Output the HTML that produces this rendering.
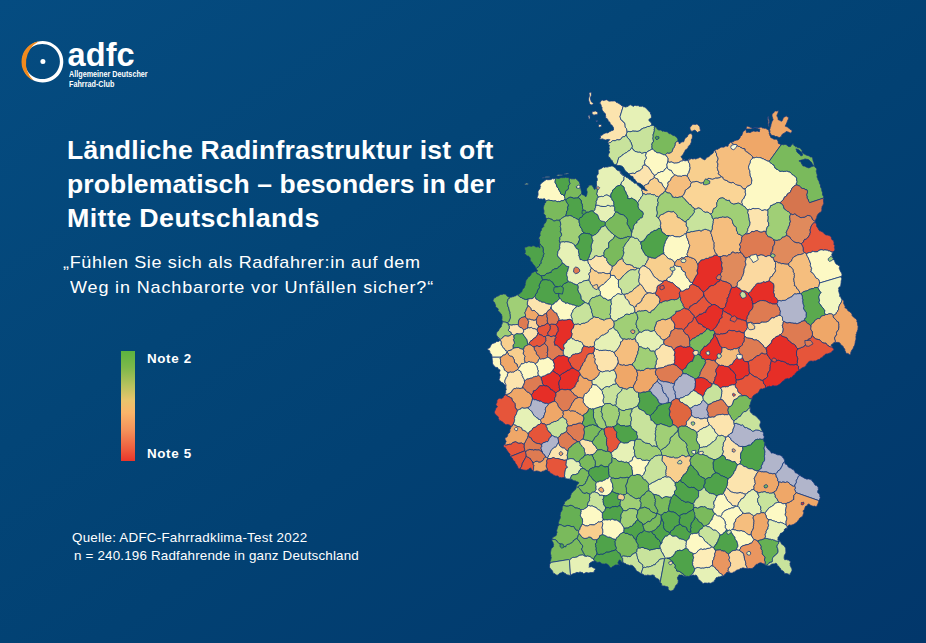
<!DOCTYPE html>
<html lang="de"><head><meta charset="utf-8"><title>ADFC Fahrradklima-Test 2022</title>
<style>
html,body{margin:0;padding:0}
body{width:926px;height:643px;overflow:hidden;position:relative;font-family:"Liberation Sans",sans-serif;color:#fff;background:#024274;}
.bg{position:absolute;left:0;top:0;width:926px;height:643px;background:linear-gradient(to bottom right,#054c81 0%,#034577 35%,#024173 55%,#02376b 100%);}
.t{position:absolute;white-space:nowrap;line-height:1;}
.bar{position:absolute;left:121px;top:351px;width:14px;height:109.5px;background:linear-gradient(to bottom,#5cb23f 0%,#7db84a 15%,#b9c25e 32%,#e9c46c 45%,#fab56a 56%,#f5925a 72%,#ee5a3c 90%,#e9352a 100%);}
svg{position:absolute;left:0;top:0}
</style></head><body>
<div class="bg"></div>
<svg width="200" height="110" viewBox="0 0 200 110">
<path fill="#fff" fill-rule="evenodd" d="M42.7 41.1a20.6 20.7 0 1 0 0.01 0z M42.3 43.9a17.6 17.6 0 1 1 -0.01 0z"/>
<path fill="#f18a1d" d="M38.9,41.3 A20.8,20.8 0 0 0 33.6,80.7 A24.5,24.5 0 0 1 38.9,41.3 Z"/>
<circle cx="42.9" cy="61.6" r="2.5" fill="#fff"/>
</svg>
<div class="t" style="left:69px;top:70.3px;font-size:8.6px;font-weight:bold;transform-origin:0 0;transform:scaleX(0.84)">Allgemeiner Deutscher</div>
<div class="t" style="left:69px;top:79.8px;font-size:8.6px;font-weight:bold;transform-origin:0 0;transform:scaleX(0.84)">Fahrrad-Club</div>
<div class="t" id="adfc" style="left:67.6px;top:38.5px;font-size:32.5px;letter-spacing:0.057px;font-weight:bold;">adfc</div>
<div class="t" id="t1" style="left:67.0px;top:137.2px;font-size:26px;letter-spacing:0.233px;font-weight:bold;transform-origin:0 0;transform:scaleX(1.02);">Ländliche Radinfrastruktur ist oft</div>
<div class="t" id="t2" style="left:67.0px;top:170.9px;font-size:26px;letter-spacing:0.112px;font-weight:bold;transform-origin:0 0;transform:scaleX(1.02);">problematisch – besonders in der</div>
<div class="t" id="t3" style="left:67.0px;top:205.3px;font-size:26px;letter-spacing:0.393px;font-weight:bold;transform-origin:0 0;transform:scaleX(1.03);">Mitte Deutschlands</div>
<div class="t" id="s1" style="left:63.2px;top:254.0px;font-size:17px;letter-spacing:0.601px;transform-origin:0 0;transform:scaleX(1.06);">„Fühlen Sie sich als Radfahrer:in auf dem</div>
<div class="t" id="s2" style="left:70.2px;top:278.8px;font-size:17px;letter-spacing:0.799px;transform-origin:0 0;transform:scaleX(1.06);">Weg in Nachbarorte vor Unfällen sicher?“</div>
<div class="t" id="n2" style="left:147.2px;top:351.8px;font-size:13px;letter-spacing:0.616px;font-weight:bold;transform-origin:0 0;transform:scaleX(1.03);">Note 2</div>
<div class="t" id="n5" style="left:147.2px;top:446.5px;font-size:13px;letter-spacing:0.616px;font-weight:bold;transform-origin:0 0;transform:scaleX(1.03);">Note 5</div>
<div class="t" id="q1" style="left:72.3px;top:530.6px;font-size:13px;letter-spacing:0.232px;transform-origin:0 0;transform:scaleX(1.03);">Quelle: ADFC-Fahrradklima-Test 2022</div>
<div class="t" id="q2" style="left:74.3px;top:548.6px;font-size:13px;letter-spacing:0.173px;transform-origin:0 0;transform:scaleX(1.03);">n = 240.196 Radfahrende in ganz Deutschland</div>
<div class="bar"></div>
<svg width="926" height="643" viewBox="0 0 926 643">
<g transform="scale(0.1)" stroke="#163a80" stroke-width="8" stroke-linejoin="round">
<path fill="#fce4ae" d="M6094,1428l10,-2 1,0 5,-7 7,-4 1,0 8,-8 11,-1 16,3 5,-6 9,-3 11,-3 11,3 12,-4 8,-5 4,-5 4,-9 10,-7 6,-3 11,1 7,-9 7,-3 5,-11 2,-9 6,-13-1,-13-1,-10-2,-6-3,-10-11,-11-1,-8-1,-11-1,-14-4,-10-4,-6-10,-5-3,-8-8,-5-10,-7-4,-10-2,-10-5,-12 32,-104-3,-1-9,-5-9,-5-5,-6-7,-2-8,-8-6,-3-6,-5-12,-2-7,-5-5,-8-4,-4-11,0-11,1-14,0-8,1-8,1-11,-2-8,-3-6,-6-7,-4-8,2-10,2-6,3-10,1-10,-5-9,6-7,4-2,10-10,10 6,7 7,4 0,8 4,5 2,13 7,8-1,7-1,8 3,11 4,7 7,6 6,10 8,6 7,10 1,10-1,9 4,8-2,8 3,7 12,4 5,7 4,9 3,8 7,9 9,3 1,10 4,6 6,11 6,2 7,5 3,7 6,8 3,11 0,9 0,9-8,4-10,1-5,6-11,2-12,7-10,9-13,-1-7,2-7,1-8,5-7,2-8,7-10,7-8,3-6,-2-1,9 3,9-5,10-7,10 6,0 9,1 13,-4 6,4 10,2 10,5 10,2 12,-5 12,-2 9,3 7,-2-6,7-8,10-6,7 0,10 3,4z"/>
<path fill="#e6f1b6" d="M6271,1323l8,-5 8,-4 11,4 11,-1 9,-3 11,-4 12,2 16,0 12,2 12,-1 10,-3 9,-5 8,-5 7,-11 14,-4 7,-5 11,-1 15,-6 10,-3 6,-5 14,1 13,-8 10,-2 9,-1-3,0-7,1 1,-9 0,-11-5,-10-4,-6-11,-8-6,-6-1,-6 6,-10 6,-5 8,-1 6,-9 1,-6-1,-9-2,-13-7,-6 0,-12-3,-9-12,-5-8,-10-9,-10-8,-9-7,-6-6,-5-9,-6-7,0-6,-4-8,-6-11,6-9,-3-7,2-8,-6-9,-2-10,1-12,-3-13,1-8,9-10,-4-5,-6-8,-4-10,-2-12,4-5,8-6,4-10,2-9,4-10,0-9,-6-9,-1-32,104 4,12 3,10 4,10 10,7 8,5 3,8 10,5 4,6 4,10 1,14 1,11 1,8 11,11 3,10 2,6 1,10z"/>
<path fill="#c8e39c" d="M6524,1492l-4,-15-1,-8 2,-12-3,-11 3,-9 1,-8 11,-8 2,-9-3,-16-3,-11 2,-9 2,-13-2,-8 1,-14 7,-10 0,-8 5,-15-2,-11 3,-9-1,-13 3,-10-9,-8-9,-1-5,-1-9,1-10,1-13,8-14,-1-6,6-11,3-14,6-11,1-7,5-14,4-7,11-8,4-9,5-10,4-12,1-12,-2-16,0-12,-2-11,4-9,3-11,0-11,-3-8,4-8,4 0,1-6,13-2,9 1,8 4,11 7,14 7,7 11,9 6,6 2,13 6,7 5,8 3,12 4,11 3,12-3,9 0,8 9,8 5,13 12,6 6,9 9,-1 7,4 11,3 7,1 13,-1 13,5 6,8 8,-3 10,-3 8,-4 8,0 12,3 11,-10 8,-3 6,-9 9,-1 10,-6 8,-5z"/>
<path fill="#c8e39c" d="M6263,1345l-5,11-7,3-7,9-11,-1-6,3-10,7-4,9-4,5-8,5-12,4-11,-3-11,2-9,4-5,6-15,-3-1,0-11,1-9,8-7,4-6,7-10,2-12,5 1,2 2,9 10,9-4,11-1,9 2,10 3,6-4,7-2,11 6,11-2,12-8,9-4,13 4,10-2,7 7,4 10,5 2,7 5,8 5,8 5,3 8,4 0,9 4,6 4,7 6,8 7,7 13,2 5,5 5,0-2,-10 3,-7 6,-14 2,-14 4,-8 1,-9 4,-11 10,-10 11,-2 6,-7 6,-7 9,-4 7,-8 8,-5 11,-6 11,-5 10,-9 10,-7 10,-2 1,0 5,-7 6,-12 12,-8-1,-8 4,-8 0,-1-4,-12-4,-11-3,-12-5,-8-6,-7-2,-13-6,-6-11,-9-7,-8-7,-13-3,-11z"/>
<path fill="#e6f1b6" d="M6463,1527l-12,-3-8,1-8,4-10,3-8,3-6,-8 0,-1-13,-4-13,1-7,-1-11,-3-6,-4-1,0-9,1-5,-9-1,0-12,-6-5,-13-8,-8-1,0-12,8-5,12-6,6-10,3-10,7-10,9-11,5-11,6-8,5-7,8-9,3-6,8-6,7-11,2-10,10-4,11-1,9-4,8-2,14-6,14-3,7 2,10 2,3 1,0 9,1 9,-1 9,0 9,3 6,1 10,5 5,7 6,5 3,6 7,12 4,9 6,5 2,7 11,4 9,9 9,8 1,3 8,0 14,-4 11,-1 10,-2 10,3 9,2 7,-8 5,-9 8,-3 12,-5 15,-4 8,-6 8,-8 10,-10 4,-7-2,-11 6,-10 8,-4 14,-2-2,-9-3,-9-2,-9 3,-8 1,-9 5,-9 9,-9 1,-12-3,-11-6,-13 5,-9zM6190,1708l10,5 3,15 4,8 8,6 7,6 7,8 8,2 9,6 10,0-7,-5-10,-4-10,-4-7,-10-6,-5-5,-6-1,-10-4,-5-7,-5-10,-2z"/>
<path fill="#e6f1b6" d="M6214,1833l1,-11 7,-7 7,-3 10,-12 1,-14-1,-9 7,-13 0,-1-9,-5-8,-2-7,-8-7,-6-8,-6-4,-8-2,-15-11,-5-2,0-10,-4-9,-5-7,-6-4,-10-7,-6-7,-4-5,-4-6,-4-9,-4-8,-1-7,3-10,0-9,3-7,2-10,3-11,-1-8,0-10,4-7,-4-8,-1-7,11-11,4-8,5-8,4-5,2-7,4-3,9 2,6 0,8 0,6 0,11-8,10-9,10-1,12 8,11-1,8 3,8-3,9-5,5-2,9 3,10-4,8 4,12-1,13-8,5 3,8 7,9 0,6 7,8-3,9-2,15-4,11 0,10 6,3 4,10 4,7-1,10 14,-7 9,-1 1,0 8,-3 14,3 11,-2 8,-8 10,-3 7,-4 10,0 10,6 1,0 14,4 4,9 9,5 0,-12-1,-14 2,-9 8,-10 7,-13 1,0 0,-14 9,-4 7,-11 10,-5 5,-9 5,-7 13,-6 6,-3 11,0 9,-5 5,-8z"/>
<path fill="#e6f1b6" d="M6429,1935l-4,-13-2,-10-5,-5 1,-12 0,-8-8,-4-6,-6-7,-4-6,-12-8,-3-9,-6-5,-11-1,-6-2,-1-4,-1-6,0-13,0-7,-8-4,-7-7,-4-8,-3-7,-5-4,-8-12,-3-7,-6-4,-8-8,-3-6,0-9,-7-4,-6-1,-1-10,-1 0,1-7,13 1,9-1,14-10,12-7,3-7,6 0,1-1,11-8,11 12,9 7,9 8,3 5,6 3,10 0,9 5,13 7,8 6,9 2,13 4,10 9,7 2,8 3,11-3,15 9,2 8,2 10,-2 11,-5 12,4 9,6 5,5 14,5 7,10 10,8 6,8 10,-13 4,-12 10,-9 7,-11 2,-9 5,-5 10,-10 3,-12z"/>
<path fill="#4fa34a" d="M6192,1857l-11,0-6,3-13,6-6,7-4,9-10,5-7,11-9,4-1,14-8,13-7,10-2,9 1,14 0,12 4,8 4,6 2,12 4,5 10,5 4,11-1,14 2,9-2,13 3,12 10,9-5,11 2,8-2,8 6,9 4,11 13,-4 14,4 4,8 12,7 13,4 10,2 14,3 7,7 11,8 9,11 6,9 8,10-1,10 2,7-7,14 2,11 1,7 7,7 3,9 7,6 2,11 1,0 5,11 8,5 1,15 7,11 6,10 4,-10-3,-10 6,-9 7,-8 2,-12 0,-11 2,-6 4,-9 6,-12 10,-7 10,-4 3,-7 0,-9 7,-8 8,-5 9,-9 11,-11 9,-1 1,0 10,-7 1,-8 2,-10 6,-12-1,-11-3,-6-8,-13 0,-1-13,-4-7,-8-6,-8-10,-9-2,-11-3,-11 3,-9-1,-12-6,-13-5,-8-11,-8-7,-10-14,-5-5,-5-9,-6-12,-4-11,5-10,2-8,-2 0,-1-9,-1 3,-15-3,-11-2,-8-9,-7-4,-10-2,-13-6,-9-7,-8-5,-13 1,-9-4,-10-5,-6 0,-1-8,-2-7,-9-12,-9-5,7z"/>
<path fill="#fdf9c4" d="M5461,2009l13,-5 15,-3 10,3 0,1 9,0 13,0 6,5 14,0 11,-2 11,5 8,5 14,-4 14,3 13,-9 9,-1 10,2 7,-9 12,-7 0,-10-2,-7-3,-11-9,-10-6,-9-16,-3-9,-8-1,-12-5,-8-5,-10-7,-5 0,-12-4,-6-1,0-10,-10-5,-12-1,-11-8,-11-2,-8-6,-8 2,-11 2,-15-4,-14-4,2-7,6-12,-4-8,3-6,6-11,1-13,1-12,0-13,-2-8,6-7,4-8,6-9,7-7,5-7,5-6,7-5,5-8,9 3,8 4,7-4,9-2,6 0,9-5,5-5,5-9,11-2,10 1,12 1,9-1,11-3,9-6,10 1,8 2,7 1,7 0,7 5,-10-1,-9 8,8 9,3 11,-2 10,1 8,2 9,-3 7,-3 8,4 3,8 4,5 2,8z"/>
<path fill="#4fa34a" d="M5554,1796l-2,15-3,11 6,8 3,8 8,11 1,11 5,12 0,1 10,9 5,6 0,12 7,6 5,9 5,8 1,12 9,8 16,3 5,9 10,10 2,-11 4,-13 3,-8 1,-10 3,-10 4,-7 10,-5 11,-8 2,-10 1,-7-2,-13 4,-9 5,-6 10,-11-4,-7-4,-10-2,-11-1,-10 3,-9-2,-6 0,-4-4,-5-10,0-12,1-9,-4-7,1-7,4-8,-1-11,1-10,-1-8,1-8,2-9,6-13,-1-10,-2-14,-1-3,1z"/>
<path fill="#7aba5c" d="M5659,2001l4,-7 9,-7 12,-7 12,-6 12,-1 14,3 8,4 8,3 13,-2 14,-1 9,0 8,-4 0,-1 4,-9 9,-7 12,-8 1,0 4,-9 4,-6 2,-2-1,-4-1,-6-1,-9-4,-13-2,-13-4,-11-2,-12-3,-8 1,-12-2,-7-3,-8-1,-12-10,-6-8,-9-8,-11-9,-4-5,-6-12,6-10,-1-9,0-11,0-6,-4-11,0-3,-4 0,4 2,6-3,9 1,10 2,11 0,1 4,9 3,7-9,11-5,6-4,9 1,13 0,7-3,10-10,8-11,5-3,6-3,11-1,10-4,8-3,13-1,0-1,11 3,11 2,7 0,10z"/>
<path fill="#7aba5c" d="M5969,2006l4,-16 1,-7 5,-8 1,-10-4,-7-3,-10-6,-3-1,-10 4,-11 2,-15 3,-9-6,-8-1,-6-7,-9-3,-8-3,6 1,9-7,11-9,-7-5,-12-7,-10-5,-11-7,-4-8,-1-11,2-8,-3-3,10 0,7-9,9-4,6-6,6-2,12 2,6 4,10 1,9-3,7 1,7-4,13-4,11-7,7-2,-7-8,-6-8,-5-8,-2-7,-5-3,-5-1,-6-3,2-4,6-4,10-12,8-9,7-4,9 0,1 8,6 10,7 6,13 8,5-1,13 0,9 9,13 0,13 4,11-1,9 0,12 3,7 4,12 0,1 7,9 11,3 7,6 9,1 9,-4 12,0 10,-6 8,-4 8,-2 10,-1 12,5 9,-10 7,-11 0,-9 5,-10 1,-13 1,-8 3,-9 2,-7 1,-11-4,-13z"/>
<path fill="#7aba5c" d="M6524,1492l9,5 7,9 8,7 8,1 8,11 9,2 6,4 9,-3 13,3 11,6 11,4 6,5 10,2 7,1 9,-3 9,-9 7,-5 8,-1 10,3 13,-4 12,-7 10,-9 0,-7 5,-10 2,-10 10,-10 3,-10 6,-9 3,-13 0,-14 4,-5 6,-7 12,-6 4,-3 0,-5 0,-10-3,-8-6,-9-9,-10-8,-5-6,-5-7,-3-8,0-9,-6-9,-6-6,-5-10,0-7,-4-7,-5-7,-6-6,-6-10,-1-11,-1-8,-2-7,-3-12,3-4,-7-11,-6-11,1-10,-1-6,-2-7,-8-6,-4-2,-9-6,-4-8,-4-4,-4-1,0-4,10 2,13-3,9 2,11-5,15 0,8-7,10-1,14 1,8-2,13-1,8 0,1 3,11 3,16-2,9-12,8 0,8-3,9 3,11-2,12 1,8z"/>
<path fill="#f8cf8e" d="M6775,1413l-12,6-7,7-3,5 0,14-3,13-6,9-3,10-10,10-2,10-5,10 0,7-10,9-12,7-13,4-10,-3-8,1-7,5-9,9 4,15 9,3 7,11 4,6 0,10 0,10-1,13 11,9 12,0 11,-4 11,4 12,6 10,3 8,-1 10,0 12,-2 13,-3 10,-5 5,-8 10,-2 12,-2 13,-6 12,6 13,-2 14,1 8,6 4,-10 7,-8 3,-8-1,0-9,1-6,5-4,7-12,3-5,0-9,-2-8,-8-10,3-6,2-5,-11-2,-8-6,-6-7,-5 7,-9 6,-5 5,-8 8,-6 4,-12 4,-9 5,-4 2,-8 3,-7 7,-4 9,-10 7,-3 5,-9 1,-8 7,-8 9,-11 9,-4 0,-11 4,-6 3,-10-1,-9 2,-8 0,-8 5,-5 3,-8 1,-13 0,-12-5,-10-4,-9-9,1-8,1-12,5-8,12-2,9-7,7-10,5-8,9-2,7-6,6-2,10-3,6-3,7-9,-2-10,3-10,7-6,3-5,8-4,-6-2,-10-9,-9-1,-4z"/>
<path fill="#fdf9c4" d="M6524,1492l-10,2-7,5-10,6-9,1-6,9-9,3-10,9-3,16-6,9 0,1 6,12 4,11-1,12-9,9-5,9-1,9-3,8-1,0 3,9 2,9 3,9 8,8 13,5 4,6 10,4 5,15 6,4 6,7 4,8 6,11 5,11 6,7 10,5 4,8 4,6 10,-3 13,-8 8,-9 5,-8 16,-2 11,-6 11,-4 14,1 10,-11 3,-9 10,-7 7,-6 11,-11-2,-16-1,-12 6,-14 0,-10 3,-6 1,-13 0,-10 0,-10-4,-6-7,-11-8,-3-5,-15-9,2-7,0-10,-2-6,-5-11,-4-11,-6-13,-3-9,2-6,-3-9,-2-8,-11-8,-1-8,-7-7,-10z"/>
<path fill="#fdf9c4" d="M6653,1903l9,-7 6,-9 2,-15 8,-12 2,-8 2,-8-3,-10 2,-12 12,-7 8,-7 7,-7 3,-13 6,-13 10,-6 7,-5 8,-7 5,-10 0,-1-12,-9-9,-7-3,-13-6,-4-4,-10-11,-4-12,-1-11,-11-4,-9-3,-6-11,11-7,6-10,7-3,9-10,11-14,-1-11,4-11,6-16,2-5,8-8,9-14,8-9,3-3,10 2,7 8,5 7,7 1,0 8,2 11,5 3,9 0,1 3,8 3,8 8,5 9,5 7,-1 8,7 3,9 5,11 4,10 7,6 6,5 5,7 5,11z"/>
<path fill="#f8cf8e" d="M6655,1912l-2,-9 0,-11-5,-11-4,-7-7,-5-7,-6-4,-10-5,-11-3,-9-8,-7-7,1-9,-5-8,-5-3,-8-3,-9-3,-10-11,-4-8,-2-8,-7-8,-5-4,9-12,7-12,7-14,6-7,13-6,8-2,15-10,1-8,6-11,2-9,6-8,12-1,1 3,3 5,8 4,11 4,6 7,2 8,7 5,3-11,2-9,-2-8,-2-8,-9-10,0-7,-5-3,-2 1,8-1,12 5,5 2,10 3,13 14,3 11,8 10,-1 12,-5 11,1 8,-1 13,0 8,5 10,1 7,4 12,-4 8,9 8,8 8,2 8,0 11,6 11,-10 5,-10 9,-7 8,-5 8,-1 5,-7 2,-8 10,-5z"/>
<path fill="#f5be7e" d="M6822,1963l9,-9 8,-5 0,-1 4,-9 1,-9 8,-10 0,-7 0,-9 13,-7 6,-8 14,-6 0,-1 4,-8 13,-6 3,-13 0,-10 7,-12 6,-7 0,-1-11,-7-3,-7-9,-7-2,-11-7,-9-4,-12-7,-8-5,-4-12,-6-10,-1-7,2-15,0-10,7-12,-2-7,-1-10,0-15,0-8,-9-1,0-7,-1-9,-3 0,1-6,10-7,7-7,5-10,6-7,13-3,13-6,7-8,7-12,7-3,12 4,10-2,8-2,8-8,12-3,15-5,9-9,7 2,9 8,10 6,4 12,4 12,0 14,7 4,10 6,4 4,10 2,10 11,1 8,4 9,-3 8,-1 9,4 13,-1 10,-5 12,1 9,-6z"/>
<path fill="#fdf9c4" d="M6870,1760l6,-9 0,-8 6,-9 7,-6 2,-8 0,-10 6,-10 2,-8 3,-16 1,0-1,0-4,-11 0,-10-1,-12-3,-11-7,-8-2,-10-8,-6-14,-2-13,3-12,-6-13,6-12,2-10,2-5,8-10,4-14,4-11,2-10,0-8,1-10,-3-12,-6-11,-4-12,4-11,0-11,-9-3,6 0,10-6,14 1,12 2,16 3,6 4,9 11,11 12,2 11,3 4,10 5,4 4,13 9,7 12,10 9,2 7,1 9,9 15,0 10,0 7,1 12,2 10,-6 15,0 7,-3 10,1z"/>
<path fill="#f8cf8e" d="M7205,1756l-5,-7-11,-4-6,-8 5,-12-2,-12-8,-11-1,-10 0,-1-2,-6-2,-10 4,-8 0,-11 3,-15-3,-9-5,-8 0,-11 7,-14 2,-10-1,-11-5,-6-3,-8-6,-12 0,-15-7,-9 0,-12-10,-9 0,-2-10,4-4,12-3,8-6,6-7,4-7,5-6,3-6,7-4,5-8,9-9,1-7,4-8,5-3,7-7,6-5,8-8,-3-7,-3-10,-5-7,-6-7,-4-5,-6-6,-3-8,9-8,3-7,1-7,3-12,5-13,-4-7,2-7,2-7,-1-6,-4-13,5-6,-2-2,8-7,7-4,11 2,10 6,8 4,11 1,12 0,10 4,11-3,16-2,8-6,10 0,10-2,7-7,7-6,9 0,8-6,9 5,5 7,7 4,12 7,9 2,11 9,7 3,7 11,8 8,-5 12,-1 11,-1 11,-5 9,1 7,2 11,5 14,7 9,3 15,-3 9,-1 1,0 10,-4 5,-11 10,-6 10,-8 6,-6 5,-8 10,-1 7,2 14,5 15,2 12,-4 8,-4 11,-4 12,1 11,-1 1,0 14,-4 10,-4 0,-1 5,-6z"/>
<path fill="#fad596" d="M7204,1982l8,-1 12,-3 8,4 8,1 6,7 7,7 8,3 11,4 9,2 11,-5 4,7 3,9 7,10 8,6 10,3 13,6 14,-2 8,-3 15,-4 14,-1 13,6 13,10 9,3 1,0 0,-8 0,-9-5,-9 1,-14 3,-8 5,-9 7,-9 7,-2 1,-13 7,-10 7,-11-2,-8 1,-9-4,-10 2,-12 0,-9-4,-11-8,-4-9,0-11,-10-7,-12-9,-7-7,0-6,-4-10,-1-10,-3-7,-3-10,-3-5,-5-9,-5-6,-7-14,-2-11,5-12,-6-13,-2-7,-9-10,-6-11,-4-14,-4-11,-11 0,-8-6,-8-8,-3-8,-2-5,6-10,5-15,4-11,1-12,-1-1,0-10,4-8,3-12,5-15,-2-14,-5-7,-2-10,0-5,9-6,5-10,9-10,6-6,11-10,4-9,1-15,3-9,-3-13,-7-12,-5-7,-2-9,-1-11,4-11,2-12,1-8,4-6,8-7,12 0,10-3,13-13,6-4,8-14,7-7,8-12,7 0,9 0,7-8,10-2,9-4,9-8,6-8,8 0,1 6,11 6,7 7,6 7,5 7,7 5,12 9,5 6,4 7,11 5,7 12,8 9,1 4,10 9,8 9,12 13,6 8,8 15,-1 6,-6 7,-4 11,0 12,6 13,7 9,12 11,10 9,4 8,5 12,-2 16,1 11,7 7,7 11,3 7,-5 6,-6 6,-8 1,-14 5,-13 5,-10 7,-1 9,-6 8,-8 7,-12-2,-14 0,-11 2,-8 5,-8 0,-8 7,-9 8,-11z"/>
<path fill="#f5be7e" d="M7315,1420l-9,3-7,5-4,5-6,9-7,4 0,10-3,7-9,-1-8,-2-10,0-4,7-7,3-9,2-12,-2-12,2-9,7-9,4-4,5-13,6-7,-1-8,5-9,7-1,0 1,3 9,8 1,12 7,9-1,15 7,12 3,8 5,6 1,11-2,10-7,14 0,11 5,8 3,9-3,15 0,11-5,8 2,10 2,7 2,10 7,11 3,12-5,12 6,8 10,5 6,6 6,10 8,2 8,3 5,8 1,8 10,11 1,0 14,4 11,4 10,6 7,9 13,2 12,6 11,-5 14,2 6,7 9,6 5,5 10,3 7,2 10,3 10,1 6,4 7,1 9,6 7,12 11,10 9,0 8,4 11,-11 8,-7 3,-8 9,-5 9,2 6,-9 13,-5 6,-11 0,-8 2,-12 3,-16-5,-9-1,-12-6,-9-6,-10 0,-15-1,-9-3,-7 3,-9-3,-13-5,-8-4,-12-3,-14 4,-15 2,-7 4,-10 5,-9 3,-10 0,-11 2,-7 8,-7 6,-8 9,-10-4,-14-10,-9-10,-11-11,-8-12,-9-10,-9-9,-2-5,-5-6,-8 0,-15-12,-3-12,-1-6,-6-12,-4-7,-4-8,-6-12,-1-7,-4-6,-9-1,0-9,-6-16,0-10,-4-7,-1-9,-12z"/>
<path fill="#efa768" d="M7318,1428l9,12 7,1 10,4 16,0 9,6 6,9 8,4 12,1 8,7 7,3 11,4 7,7 12,0 11,3 1,15 6,8 5,5 9,2 10,9 12,9 11,8 10,11 10,9 4,14 15,1 11,-4 13,-3 8,2 9,2 13,-1 14,3 8,7 15,3 7,6 12,4 8,4 7,7 12,1 11,3 118,-165-5,-3-6,-6-11,-3-7,-6 2,-10-3,-9-4,-7-6,-10-8,-4-7,1-12,0-13,-4-7,-7-7,-2-9,-5-2,-10-5,-5-2,-11-6,-10 2,-9-1,-8-4,-9-1,-8-7,-7-11,-7-7,-2-7,-5-14,0-8,-3-9,0-10,-8-11,0-5,4-8,0-8,3-8,-2-12,0-11,-2-11,0-4,4-9,4-6,-2-9,-3-7,-4-7,-4-11,-2-9,-8-10,5-5,7-3,13-1,4 19,1 10,0 10,0 13,0 12,-5 18,-5 16,1 11,2 15,6 16,3-5,8 0,16-13,-2-10,-5-17,5-9,-2-11,-2-12,4-8,4-13,8-16,-3-11,2-11,1-1,-11-3,-12-1,-10-9,5-4,7-7,4-7,7-4,4-3,13-4,10-1,9-9,5-7,6-2,9-3,7-7,9-6,7-7,4-12,2-13,4-11,2-6,9-8,2-10,1-4,2z"/>
<path fill="#fdf9c4" d="M7798,2029l8,-6 6,-7 12,-10 1,0 6,-7 7,-11 2,-8 8,-13 9,-1 8,-6 5,-10 4,-11 13,-8 10,-3 8,-10 0,-1 4,-12 5,-7 4,-12 9,-13 12,-6 6,-10 11,-4 7,-2 1,-10 0,-10 6,-5 1,-12-4,-11-1,-7 1,-11-3,-8-8,-9-11,-9-8,-6-6,-5-9,-3-8,-11-7,-5-7,-10-15,-2-13,-6-8,-1-8,3-11,0-13,2-9,-4-8,1-15,1-10,-7-7,-7-11,-5-8,-2-8,-12-7,0-1,-9-4,-7-4,-13-13,-5-10,-10-7,-5-7,-3-5,-8-6,-7-11,-2-12,-1-7,-7-8,-4-12,-4-6,-6-16,-3-8,-7-14,-3-13,0-9,-1-8,-2-13,2-11,4-15,0-9,10-7,8-8,6 0,1-2,7 1,11-3,10-6,9-3,10-3,6-4,16 4,14 4,12 5,8 2,13-3,9 4,7 1,9 0,15 6,10 6,9 1,12 5,9-3,16-2,12 0,8-7,11-12,5-6,9-9,-2-9,5-3,8-8,7-11,11 4,11 0,9-2,12 4,10-1,9 2,8-7,11-7,10-1,13-7,2-7,9-5,9-1,0-2,8-2,14 5,9 1,9-1,8 2,3 1,0 9,7 7,4 9,4 6,9 4,11 12,7 8,3 12,-6 8,2 10,0 10,-7 10,-4 14,4 10,-1 10,-1 12,-1 10,1 9,6 11,4 8,8 16,0 11,-5 11,0 11,4 7,-2 10,-2 3,-8 7,-5 11,-10 1,-8 5,-13 15,-1 5,-7 11,-4 11,-2 11,-10 7,-3 11,-1 8,-1z"/>
<path fill="#7aba5c" d="M7967,1785l-1,11 1,7 4,11-2,12-5,5-1,10 0,10 13,1 10,6 7,0 10,10 8,8 4,6 13,4 11,-1 8,4 6,8 9,0 7,1 4,12 2,8-3,11-5,14 0,11 3,7 1,8-2,11 7,9 8,10 2,15 6,6 4,7 141,-46-1,-2 2,-11-7,-11-6,-8 1,-9 0,-10-1,-6-3,-7-4,-8 0,-8-1,-11-4,-7-3,-6-6,-7 1,-9 0,-10-6,-12-5,-7-1,-13-5,-11-5,-6-4,-9-1,-9-4,-6-4,-9 2,-8 2,-11-5,-11-2,-12-4,-11 1,-12 4,-10-1,-6-7,-6-8,-10-5,-4-2,-9-4,-12-1,-8 0,-10-3,-9-7,-12 1,-7-3,-9-1,-13-8,-10-6,1-9,-1-7,-5-5,-5-13,-4-11,-2-10,-5-9,-5-8,-3-4,-6-5,-3-8,-4-4,-11 2,-10-9,-8-4,-9-7,-7-10,-4-14,-1-10,-9-11,0-10,-7-6,-6-7,-9-1,-11-11,5-5,10-8,6-3,9-9,0-7,4-9,-10-11,-5-6,-7-7,-3-13,1-10,3-11,-3-6,2-7,2-118,164 0,1 6,6 5,8 0,1 6,2 8,5 10,10 12,5 5,13 4,7 1,9 7,0 8,12 8,2 11,5 7,7 10,8 15,-2 8,-1 9,4 13,-2 11,0 8,-2 8,0 13,6 15,2 7,10 7,5 8,12 9,2 6,6 8,5 11,9 8,9zM8040,1595l9,-6 18,4 14,2 9,6 9,8 6,7 10,7 6,13 8,16 10,7-12,4-10,3-13,6-15,7-12,-3-16,-7-16,-8-16,-2-3,-8-8,-10-7,-17-7,-8-15,-7 10,-3 15,-5 17,-3zM8003,1512l11,7 8,15 7,15-9,7-11,3-5,-8-6,-8-10,-6-9,-8-12,-14-1,-13-7,-13 18,4 12,6z"/>
<path fill="#d6754e" d="M8096,2027l-4,-7-5,-7-3,-14-8,-11-6,-8 1,-11-1,-8-3,-7 0,-11 6,-14 2,-11-1,-8-5,-12-7,-1-9,0-6,-8-8,-4-11,0-13,-3-4,-6-7,-8-11,-10-7,-1-10,-5-13,-2-7,3-11,3-7,11-12,6-8,13-4,12-5,7-4,12-8,11-10,3-13,8-4,11-5,10-8,6-9,1-8,13-2,8-7,11-7,7-12,10-6,7-8,6 9,5 10,6 8,8 4,6 4,8 3,7 1,12 8,11 9,6 6,4 7,6 7,6 10,2 7,6 9,12 7,9 12,-1 8,5 11,-3 7,-4 9,1 7,11 13,7 14,7 10,6 11,5 9,-1 11,-2 14,0 7,-4 12,-5 11,-9 10,0 9,1 11,4 12,10 3,10 4,10 6,8 7,5 8,6 7,2 2,4 2,-4 2,-13 5,-9 3,-7 4,-7 0,-8 4,-8 0,-6 6,-6 4,-9 8,-4 4,-7 8,-3 7,-5 4,-5 4,-7 3,-9-3,-10 3,-9 0,-13 5,-7 7,-9 1,-9 4,-5 1,-10-5,-7 3,-7-1,-7-2,-9 6,-11-2,-6z"/>
<path fill="#7aba5c" d="M5659,2159l3,-16 5,-14-1,-7 1,-10 8,-8 3,-13 0,-10-3,-8 8,-13 1,-14-9,-11-8,-14-4,-7-4,-13-9,-8-12,7-1,0-6,9-10,-2-9,1-13,9-14,-3-14,4-8,-6-11,-5-11,3-14,0-6,-5-13,0-9,-1-10,-4-15,4-13,4-3,2 0,1 1,9-5,9-9,8-1,11-5,7-3,13-3,9 0,13 6,10 0,9 1,12-3,9-1,7 6,4 6,6 6,6 1,10-1,7 5,10 3,8 8,1 7,-3 10,-3 11,4 12,6 10,0 9,11 7,7 12,-2 9,-2 13,-7 6,3 9,0 14,-2 8,-9 7,-7 10,-4 9,-9 7,-5 9,-1z"/>
<path fill="#66b054" d="M5576,2203l-6,-3-1,0-12,6-9,3-12,2-7,-8-9,-11-10,1-12,-7-11,-3-10,2-7,4-8,-2 2,6-1,11-2,9-5,8-3,9-7,6-7,7-3,9 2,14-7,7-12,7-3,5-1,9-3,14-8,7-1,7-3,7-1,10 2,9 0,11-10,10-2,11-1,6 0,3 6,9 1,9 0,10-2,7 0,2 4,10 0,2 7,7 5,8 6,6 5,8 11,9-1,13 4,9-4,14 3,11 6,13-3,11-6,4 0,1 2,10 0,7-6,6-5,10-2,11-6,9-4,12 2,14-6,8-10,4 0,1 0,13-6,6-10,8-9,4-9,11 1,2 4,7 1,6 6,3 6,5-8,2-5,3-13,-2 5,8 8,8 4,11 1,0 10,1 8,4 12,9 10,7 15,-4 15,0 10,-4 3,-6 7,-7 10,-7 6,2 10,-2 12,-6 13,-1 2,-11 7,-9 7,-7 7,-2 11,-7 15,-2 12,-2 7,-7 5,-9 8,-4 12,-8 6,-9 5,-7 8,-9 1,0-2,-10-3,-7-4,-13-6,-7-8,-5-5,-7-6,-10-8,-4-5,-9-4,-12 5,-14 0,-13 2,-9 8,-10 7,-14 1,0 2,-10-4,-9 4,-13 1,-14 3,-8 0,-1-4,-12-7,-13 7,-8 1,-8-2,-15 5,-7 6,-6 6,-7 1,-9-1,-8-3,-13-11,-9 6,-7 2,-10 0,-14-3,-12-3,-9 2,-11 3,-9-1,-15-5,-14-3,-10 0,-6-14,2z"/>
<path fill="#4fa34a" d="M5659,2159l8,1 11,1 15,-5 8,0 10,3 14,5 9,13 1,0 15,0 7,7 0,1 11,4 11,5 10,4 5,-11 6,-10 10,-2 6,-2 10,-10 4,-12 10,-10 11,-9 6,-7-7,-6-10,-4-8,-9-3,-13-3,-6-1,-12 1,-9-4,-11 0,-13-9,-13 0,-9 1,-13-8,-5-6,-13-10,-7-8,-7-8,5-9,0-14,1-13,2-8,-3-8,-4-14,-4-12,1-12,7-13,7-8,7-4,7 4,13 4,7 7,14 1,0 8,11 0,14-8,13 3,8 0,10-4,13-7,8-1,10 0,7-5,14z"/>
<path fill="#a0cf76" d="M5640,2167l-7,5-9,9-10,3-7,8-8,9 0,6 3,10 4,14 2,15-3,9-3,11 4,9 3,12 0,14-2,10-6,6 0,1 11,9 3,13 1,8-1,9-7,7-5,6-5,7 2,15-1,8-7,8 7,13 10,3 7,-3 12,-2 8,-1 12,4 10,-5 10,1 13,2 11,1 6,4 9,2 10,2 11,7 8,5 8,9 5,14 1,0 11,-11 9,-10 12,-10 3,-13 7,-13 3,-9 1,-8-4,-11-3,-9 3,-9 9,-7 8,-12 14,-6 9,-2 7,-5-8,-9-5,-9-5,-4 0,-12-7,-12-5,-5-3,-10-9,-8 1,-14-2,-9-2,-9-4,-6 2,-12-3,-12-10,-4-11,-5-11,-5-7,-8-15,0-10,-12-14,-5-10,-3-8,0-15,5-11,-1-8,-1-10,6z"/>
<path fill="#4fa34a" d="M5820,2307l6,4 5,9 8,9 14,4 12,2 11,0 8,3 12,-1 5,9 14,6 11,5 10,-2 11,-7 10,-2 0,-1 8,-10 9,-6 4,-5 8,-9 2,-11 13,-8 5,-12 2,-10 10,-3 12,-6 12,-2 10,-10 2,-15 0,-14-10,-8-9,-2-11,-3-12,-2-9,-5-8,-9-7,-14-3,-13-4,-10-4,-8-9,-9-10,-3-4,-5-13,-8-6,-11-12,-5-10,1-8,2-8,4-10,6-12,0-9,4-9,-1-6,7-11,9-11,10-4,12-9,10-6,2-10,2-6,10-5,11 3,12-2,12 4,7 2,8 2,9-2,14 10,8 3,10 5,5 7,12z"/>
<path fill="#4fa34a" d="M5874,2603l5,-9 4,-5 7,-12 3,-8 2,-13 5,-10 3,-7 3,-11 6,-10 3,-7 1,-10 1,-7-3,-16-1,-15 1,-12 2,-10 7,-10 1,0 1,-10 4,-9 2,-9-6,-7-3,-12-3,-9 2,-10-5,-13-15,-6-5,-9-12,1-8,-4-11,1-12,-2-14,-4-7,5-9,2-14,6-8,12-9,7-4,9 4,9 3,11 0,8-3,8-7,14-3,13-12,10-9,10-12,11 7,9 6,11 6,5 10,2 5,13 2,16 0,10 6,12-4,8-1,8 5,6 2,11 5,9 1,13 11,-1 10,2 7,7 8,1 14,2 8,-2 7,0z"/>
<path fill="#4fa34a" d="M5370,2675l10,-4 9,-7 6,-7 0,-13 10,-5 6,-8-2,-14 4,-12 6,-9 1,0 1,-11 5,-10 6,-6 0,-7-2,-10 7,-5 3,-11-7,-14-3,-10 4,-14-4,-9 1,-13 0,-1-11,-8-5,-9-6,-5-5,-8-7,-8 1,9-2,9 1,11 2,13-9,-7-5,-4-8,0-11,2-8,-1-10,-8-9,-2-7,-3-10,4-12,5-8,-5-11,0-11,1-5,5-7,3-11,1-7,-1-4,11 1,12 3,11 6,6-4,7 1,10-5,7-8,6 7,1 9,3 4,5 6,8 8,5 9,0 6,4 5,6 6,8 3,11-2,9 2,8 2,6 9,4 5,5 5,10 5,7 6,8 5,5 9,10 3,9 4,8 5,7zM5393,2424l3,-7-1,-10-1,-9-6,-9-1,8 2,9 1,8 3,11 0,2z"/>
<path fill="#4fa34a" d="M5429,2799l9,0 15,-2 15,1 14,5 13,-1 9,5 8,10 10,4 8,6 3,12 10,12 6,8 5,6 15,1 10,6 9,9 8,4 8,1 6,-5 5,-10 8,-11 6,-9 7,-8 8,-8 9,-1 7,-5 13,-6 9,-5 7,-2-7,-6-4,-7-5,-10 1,-8 1,-9-1,-9-5,-12-3,-10 3,-8 0,-1 0,-8 4,-11 5,-6 1,-10 3,-13 4,-12 3,-9-10,-2-10,-3-13,-5-5,-10-10,-7-9,-7-8,-1-8,8-5,8-7,9-11,8-8,4-5,9-7,7-12,2-16,2-10,7-7,2-8,7-7,9-1,11-13,1-12,6-10,2-6,-2-1,0-9,7-7,7-3,6-10,4-15,0-15,4 6,9 2,15 0,1 4,7z"/>
<path fill="#4fa34a" d="M5429,2799l-5,-7-5,-8-2,-15-6,-9-10,-7-12,-9-8,-4-10,-1-4,-11-8,-8-6,-8-11,3-7,7-7,3-7,3-9,5-2,12-5,7-5,7-6,6-7,2-7,7-4,8-6,11-9,3-1,8-3,10-1,10-5,5 1,7 2,8-5,5 1,10-6,8-3,12-9,6-6,4-3,10-2,7-4,13-8,4-4,3-5,9-10,3-9,8-2,1 2,6 7,9 6,4 9,8 13,3 7,7 8,1 7,5 10,4 10,2 13,-2 9,-3 13,-2 8,-1 8,-2 10,1 12,-6 8,-7 7,-7 7,-7 3,-13 4,-10 9,-5 4,-9 1,-14 7,-11 2,-8 7,-5 6,-6-1,-11-3,-6 1,-13 5,-8 7,-11 1,-9 5,-8 6,-4z"/>
<path fill="#4fa34a" d="M5429,2799l-12,10-7,4-4,8-1,9-7,11-5,8-1,13 3,6 1,11-6,6-7,5-2,8-7,11-1,14-4,9-9,5-5,10-2,13-7,7-1,0 10,10 4,13 10,6 7,2 12,11 8,3 9,-1 10,11 10,1 10,0 12,2 9,8 8,4 14,2 12,3 12,0 7,4 9,7 8,-8 15,-7 4,-10 8,-5 9,-2 11,-8 4,-9 6,-5 9,-6 5,-11-5,-12-5,-9 3,-11-4,-10 2,-14 7,-14 6,-14 3,-12-8,-2-8,-3-8,-9-1,0-10,-6-15,-1-5,-6-6,-8-10,-12-3,-12-8,-6-9,-4-9,-11-9,-5-13,2-14,-5-15,-1-15,2z"/>
<path fill="#5aa94e" d="M5768,3063l9,-1 12,4 5,-6 10,-1 10,-11 8,-4 8,-5 11,-9 10,-3 0,-1-6,-4-4,-11-7,-4-9,-2-7,-10-5,-7-2,-12 1,-7-4,-10-1,-8-5,-9-6,-10-8,-9-5,-12-4,-15 3,-14 1,-13-3,-12-6,-10-12,0-13,-6-13,-5-13,-9-7,-2-10,-7-8,2-9,-4-7,2-9,5-13,6-7,5-9,1-8,8-7,8-6,8-8,11-5,11-6,5-3,12-6,14-8,14-1,14 3,10-2,11 4,9 6,12 7,7 7,5 3,13 9,7 10,6 10,0 5,5 6,9 10,-1 6,-5 11,4 11,8 11,3 7,-2 8,5 8,4 12,1 8,2 11,6z"/>
<path fill="#e6f1b6" d="M5798,2584l-4,-9-2,-11-6,-6 1,-8 4,-8-5,-13-1,-9-1,-16-5,-13-11,-2-5,-5-7,-12-6,-8-6,-15-8,-9-8,-4-11,-7-10,-2-9,-2-6,-4-11,-1-13,-2-10,-1-10,5-12,-4-8,1-12,2-7,2-10,-2 4,12-3,9-2,14-3,13 4,9-3,10-7,14-8,10-2,9-1,13-4,14 0,1 4,11 4,9 1,0 7,4 7,10 4,8 1,0 8,4 6,7 3,13 4,7 1,10 8,1 8,7 1,0 10,7 5,10 13,5 10,4 10,1-3,9-4,12-3,13-1,10-5,6-5,11 1,8-3,9 2,10 5,12 2,9-1,9-1,8 5,10 4,8 7,5 9,4 8,-1 10,6 7,2 12,9 1,0 13,5 13,6 12,0 6,-8 6,-4 8,-5 12,-3 11,-3 6,-3 8,-9 13,-3 15,-4 12,-1 9,-3 10,3 1,-7 1,-10 4,-15 0,-15-7,-9 2,-13 4,-7 10,-6 2,-9-5,-13 10,-11 0,-1 1,-10-9,-11-3,-8-4,-13-9,-6-5,-9-2,-14-4,-13-1,0-2,-2-10,3-7,0-8,3-14,-2-8,-1-7,-7-10,-3-10,2z"/>
<path fill="#c8e39c" d="M6030,2265l-12,6-10,3-2,10-5,12-13,8-2,11-8,9-4,5-9,6-8,10-10,3-11,7-10,2-10,-5-1,0 6,13-2,10 3,9 3,12 6,7-2,9-5,9-1,10-7,10-2,10-1,12 0,15 0,1 4,15-2,7-1,10-2,7-6,10-3,11-3,7-5,10-2,13-4,8-7,11-3,6-5,8 0,1 2,1 7,-4 11,-3 9,0 13,-3 12,-11 10,-3 1,0 4,-7 3,-11 7,0 9,-5 9,4 12,5 11,-1 15,0 14,-7 13,1 2,-7 4,-10-3,-9 1,-11 4,-6 3,-9 6,-9 9,-7 6,-6 11,-2 10,-8 0,-1-2,-12 0,-11-1,-8 1,-13 6,-11 7,-5 6,-8 12,-7 6,-5 12,-10 3,-8 6,-10 11,-9-7,-2-9,-5-7,-8-9,-9-13,-7-8,-13-8,-6-10,-7-3,-8-9,-8-3,-11-7,-6-4,-7-7,-7-10,10z"/>
<path fill="#7aba5c" d="M6288,2366l-15,-1-10,8-12,-1-7,5-10,2-11,5-11,-1-8,3-10,-5-7,-2-13,-7-12,-7-6,-8-12,9-5,10-3,7-12,11-7,5-11,7-6,8-7,5-1,0-5,11-1,13 1,8 0,11 2,12-10,9-11,2-6,6-9,7-6,8 0,1-4,9-3,6-1,11 3,9-4,10-2,7 4,10 4,5 15,5 8,9 0,8-2,10 0,1 10,8 4,14 9,6 5,11 7,2 10,4 9,10 11,1 12,-7 10,-8 8,-7 7,-13 4,-8 6,-8 10,-5 10,-12 14,-2 1,0 10,-10-1,-9 8,-10 3,-8 3,-10 2,-9 4,-7-2,-10-6,-11 0,-9 3,-7 1,-9-4,-9 10,-11 7,-13 6,-12 5,-7 7,-10 8,-8 7,-8 2,-7 6,-4 4,-10 9,-7 5,-8 0,-1-1,0-8,0z"/>
<path fill="#e6f1b6" d="M6054,2224l11,-8 6,-6 7,-6 6,-6 10,-10 9,-6 9,-4 9,-6 7,-9 7,-3 1,0 6,-13 5,-14 7,-8-3,-11-7,-9 2,-8-2,-8 5,-11-9,-9-4,-12-12,1-10,-1-1,0-8,4-9,-4-10,-3-9,-1-8,3-5,6-11,3-12,-1-11,1-10,-2-13,-2-13,-4-8,-3-9,-2-10,0-9,1-1,8-1,13-5,10 0,9-7,11-9,10 6,11 13,8 4,5 10,3 9,9 4,8 3,10 4,13 7,14 8,9 9,5 12,3 11,2 9,2z"/>
<path fill="#7aba5c" d="M6319,2328l-6,-10-6,-11-1,-15-1,0-8,-5-5,-11-3,-11-7,-6-3,-9-7,-7-1,-7-1,-11 6,-13 0,-1-2,-7 1,-10-8,-10-5,-9-10,-11-11,-9-7,-6-14,-3-10,-2-13,-4-12,-7-4,-8-14,-4-13,4-7,8-5,14-7,13-8,3-6,9-9,6-9,4-1,0-8,5-10,11-6,6-7,6-6,6-11,8-1,14-1,15 7,8 4,7 7,5 3,11 9,8 3,8 10,7 8,6 8,13 13,7 9,9 7,8 9,6 7,1 6,8 12,7 13,8 7,1 10,5 8,-3 11,2 12,-6 9,-2 7,-5 12,1 10,-8 15,1 12,3 8,1 1,0 4,-2 2,-9 0,-11-1,-9z"/>
<path fill="#c8e39c" d="M6313,2368l-5,1-4,9-9,7-4,9-6,5-2,7-7,8-8,8-7,10-6,7-6,12-7,13-9,11 4,9-1,9-3,7 0,9 6,11 2,10-4,7-2,8-3,11-3,8-8,10 1,9 7,13 2,11 1,8 7,4 9,9 6,9 8,7 9,0 9,4 11,-2 9,2 11,5 11,1 4,5 4,10 15,7 11,-1 6,4 11,5 15,0 11,2 10,-11 10,-10 8,-6 13,0 11,-10 6,-6 2,-10 9,-10 2,-15 9,-6 5,-13-3,-9 3,-11-7,-4-9,-5-10,-10-7,-5-4,-8-4,-9-8,-9-4,-11-2,-8-11,-10-2,-10-1,-10 2,-6 0,-1-2,-12-6,-6 0,-14 1,-10-11,-5-8,-7-6,-14-8,-7-13,-6-9,2-12,-5-11,-9-11,-1z"/>
<path fill="#f8cf8e" d="M6106,2751l13,5 11,-2 10,1 6,3 6,14 7,10 7,5 10,9 8,4 11,-1 6,-5 11,-9 5,-11 8,-4 7,-13 7,-4 8,-7 7,-10 13,-7 5,-9 9,-4 12,-10 14,-7 11,-1 10,-2 15,5 9,0 0,-1 8,-5 7,-6 6,-5-11,-5-6,-4-11,1-14,-7-5,-10-4,-6-11,0-11,-5-9,-3-11,3-9,-4-9,0-8,-7-6,-9-9,-9-7,-5-1,-7-2,-11-7,-13-11,10-14,2-10,12-11,5-5,8-4,8-8,13-7,7-10,8-12,7-11,-1 0,15 1,9-5,12-5,7-5,8-3,12-1,11 3,5z"/>
<path fill="#fce4ae" d="M6101,2736l1,-11 3,-12 6,-8 4,-7 5,-12-1,-9 0,-15-9,-10-10,-4-6,-2-6,-11-9,-6-4,-14-10,-9 2,-10 1,-8 0,-1-9,-8-15,-5-4,-5-4,-10-13,-2-14,8-15,0-11,0-11,-4-10,-4-9,4-7,1-3,11-5,7-10,3-12,11-13,3-9,-1-11,4-7,4 5,13 2,14 5,9 9,6 4,13 3,8 9,11 7,5 10,10 9,9 11,9 16,3 7,5 8,9 6,4 10,-2 16,2 10,-5 13,-1 11,6 10,3 8,1 12,1 9,-2z"/>
<path fill="#f8cf8e" d="M6106,2751l-2,-10-3,-5 0,-1-15,-1-9,3-12,-1-8,-1-9,-3-12,-6-13,0-10,5-16,-1-10,2-6,-4-8,-9-7,-6-16,-2-11,-9-9,-9-9,-10-8,-5-1,10-10,12 4,13-2,9-10,5-3,8-2,13 6,9 0,15-3,15-1,10-2,7 1,0 5,7 4,8 4,14 7,9 8,9 5,8 5,8 7,6 10,3 10,1 10,-5 11,0 12,8 9,-9 10,-13 8,-5 6,-4 12,-3 11,-10 5,-9 12,-6 4,-8 5,-5 7,-7 9,-6 10,-12 9,-10-1,-12z"/>
<path fill="#fdf9c4" d="M5995,2953l10,4 10,6 11,9 8,12 11,-1 10,3 4,6 11,3 7,9 14,-2 9,-5 9,2 8,-9 0,-1 7,-11 8,-10 10,-5 8,-1 1,0 7,-9 6,-8 8,-4 15,-3 10,3 10,3 10,0 9,-4-7,-12-4,-9 1,-8-2,-11-8,-14-6,-8-12,-4-3,-15 1,-11-3,-9 2,-9-1,-9 1,-12-1,-9-8,-4-10,-10-7,-4-7,-10-6,-14-6,-3-10,-1-11,1-13,-4-2,10 1,12-9,10-10,11-9,7-7,6-5,6-4,8-12,5-6,10-10,10-12,3-6,4-9,5-9,13-9,8 0,1-1,10 3,11 7,8 4,5 0,9 0,1 3,11-2,10z"/>
<path fill="#c8e39c" d="M5995,2953l7,-8 2,-10-2,-12 0,-9 0,-1-5,-5-7,-7-3,-11 1,-10 0,-1-12,-7-11,0-10,5-10,-1-9,-3-8,-6-5,-8-5,-8-8,-10-7,-8-3,-14-5,-8-5,-7-10,-3-9,3-12,1-15,3-13,4-8,9-6,3-11,3-12,3-8,4-6,5-6,8 6,10 3,12-1,13-3,14 4,15 5,12 8,9 6,11 5,8 1,8 4,10-1,7 2,13 5,6 7,10 9,2 7,4 4,11 6,5 13,2 8,8 10,2 8,-4 1,-12 8,-9 2,-9 4,-10 6,-5 7,-9 8,-5 9,0 12,-3 6,-4 9,-7 11,0 1,0 7,-3z"/>
<path fill="#c8e39c" d="M6399,2686l-11,-3-15,1-6,5-7,5-8,6-9,0-15,-4-10,2-11,1-14,7-12,9-9,4-6,10-12,7-8,10-7,7-7,4-8,13-7,4-5,11-11,8-6,6-11,1 1,9-1,12 1,9-2,9 3,9-1,11 3,15 12,5 6,7 8,14 2,11-2,8 5,9 7,12 13,5 6,-2 11,-1 12,-5 10,1 6,-3 6,-8 12,-7 11,0 8,-9 6,-5 5,-6 8,-13 7,-3 8,-3 8,-9 6,-7 8,-5 9,-2 7,-12 6,-7-6,-14-5,-9 1,-9-1,-13 5,-14 0,-15 2,-9 4,-7-6,-13-4,-12 1,-12 2,-7 5,-10z"/>
<path fill="#f8cf8e" d="M6488,2929l-14,-3-11,-7-8,-5-3,-12-11,-10-4,-10-4,-7-6,-9-9,-13-11,-9-8,-5 0,-1 0,1-6,7-7,12-9,2-8,5-6,7-8,9-9,3-6,3-8,13-5,6-6,5-9,9-10,0-12,6-6,8-6,4-10,-1-12,5-11,1-6,2 3,10 6,6 4,10 0,9 12,10 8,8 10,8 7,12 2,10 3,7 6,11 12,5 7,5 9,1 11,11 3,9 11,-10 10,-2 0,-10 3,-6 8,-8 8,-6 10,-1 4,-7 10,-4 0,-1 5,-8 6,-5 4,-12 2,-14 10,-5 6,-8 2,-9 7,-11 6,-6 12,-4 11,-7z"/>
<path fill="#a0cf76" d="M6108,3078l-3,-9 2,-13 8,-11 1,-13-5,-9 1,-12-3,-12-9,-2-9,5-14,2-7,-9-11,-3-4,-6-10,-3-11,1-8,-12-11,-10-10,-5-10,-4-14,6-8,3-11,0-9,7-6,4-12,2-9,1-8,4-7,10-7,5-4,10-1,8-8,10-1,12 0,15 1,0 9,8 3,7 1,15 7,9 3,10 3,7-2,15 4,9 3,6 3,11 2,13 6,10 1,1 1,0 11,-1 14,5 11,0 13,0 10,10 12,7 15,2 12,5 8,6 11,-11 13,-4 10,-1 10,-2 9,-3 13,2 8,5 6,3-11,-8-4,-13 0,-16-4,-6-3,-9 7,-11 0,-9 0,-8 0,-13 3,-12z"/>
<path fill="#e6f1b6" d="M6126,3206l13,7 0,1 9,-3 12,-1 11,-6 7,-6 4,-10 13,0 13,-8 12,-4 7,-6 10,-6 5,-4 9,-13 10,-3 8,-2 10,1 14,3 8,-5 12,-7 9,1 11,-3 7,-6 8,-5 2,-11-1,-11-2,-11-5,-11-3,-9 0,-1-11,-10-9,-1-7,-5-12,-5-6,-11-3,-7-2,-10-7,-12-10,-8-8,-9-12,-9 0,-9-4,-10-6,-6-3,-10-13,-5-9,4-10,0-10,-3-10,-3-15,2-8,5-6,8-8,8-8,2-10,4-8,10-7,12-8,10 3,12-1,12 4,9 0,13-8,11-2,13 3,9 1,11-3,12 0,13-1,8 1,9-8,11 4,9 4,6-1,16 5,13 11,8z"/>
<path fill="#7aba5c" d="M5085,3071l-5,-7-2,-15-4,-11-2,-13 3,-12 3,-7 2,-11 6,-8 9,-4 2,-9 0,-5-4,-1-9,1-10,-6-9,-9-4,-10-8,-3-8,0-11,-2-5,4-9,0-11,2-8,1-10,8-6,4-11,4-9,4-5,3-7,8-9,1-7,9-3,8-4,5 0,11 5,7 10,6 3,8 2,10 6,7-1,13 1,6 6,6 9,6 9,6 3,9-4,10 6,6 5,9 10,5 4,8 8,8 5,9 0,9 3,5 0,12 0,10-2,8 4,13 3,7 0,3 12,3 7,1 9,1 10,5 9,0 11,-4 7,-7 1,-7 7,-9 1,-7 6,-12-1,-13-1,-9 0,-12-3,-13 1,-15-8,-8-1,-12-4,-14z"/>
<path fill="#a0cf76" d="M5268,3083l5,-9 6,-9 1,-8-4,-6-3,-9 2,-13-1,-8 5,-10 2,-7-1,-13-1,0-8,3-13,2-10,-2-10,-4-7,-5-8,-1-7,-7-13,-3-8,-8-7,-4-7,-9-2,-6-3,1-10,1-6,8-6,2-8,1-6,6-10,0-10,3-11,3-8,-1-4,-2 0,5-2,9-10,4-5,8-2,10-3,8-3,12 2,13 4,12 1,14 1,0 5,7 3,14 4,14 1,12 8,8-1,15 3,13 0,12 1,9 0,13-5,12-1,7-7,9-1,7-7,7-11,4 6,6 9,12 11,5 10,0 11,2 15,-5 9,1 15,-2 14,-1 11,2 1,-9 0,-10 1,-9 2,-11 4,-9 7,-12 9,-4 8,-8 10,-1 13,-3 10,-4 6,-7 3,-10-3,-8-5,-13 2,-8 5,-8 4,-8 3,-14z"/>
<path fill="#fce4ae" d="M5435,3023l-10,0-10,-1-10,-11-9,1-8,-4-12,-10-7,-2-10,-6-4,-13-9,-10-1,0-6,7-8,7-12,6-10,-1-8,2-8,1-13,2-1,0 2,13-2,7-5,10 1,8-2,13 3,9 3,6 13,7 7,10 10,12 1,8 3,8 10,5 16,-2 9,3 10,10 7,8 6,5 7,4 4,10 4,10 0,1 14,-3 13,4 9,0 12,-4 4,-7 8,-5 10,-5 10,-3 2,-8 4,-7 7,-7 6,-9 10,-4 5,-7 6,-4 0,-1 1,-10 7,-6 0,-8 4,-9-9,-7-7,-4-12,0-12,-3-14,-3-8,-3-9,-8z"/>
<path fill="#c8e39c" d="M6570,2150l2,-9 3,-10-2,-10-2,-10-2,-6-2,-10 1,-12 0,-15 8,-10 4,-8-2,-11 6,-12-2,-9-6,-6 1,-16 6,-14 4,-11-11,-7-8,0-8,-1-8,-8-8,-9-12,4-7,-4-10,-1-8,-5-13,0-8,1-11,-1-12,4-10,2-11,-8-14,-3 0,11-3,12-10,9-5,6-2,9-7,11-10,9-5,12-9,13 6,13 1,12-4,9 4,11 2,11 10,9 6,8 6,8 1,0 13,5 8,13 3,6 1,11-7,12-1,10-1,8-11,7-9,1-11,11-9,9-8,5-7,8 0,9-3,7-10,3-10,8-6,12-4,9-3,6 0,11-2,12-6,8-6,9 2,10-3,10-5,11 1,9-1,11-1,9 8,1 11,1 11,9 12,5 9,-2 13,6 8,7 6,14 7,7 12,5 13,-8 14,-3 5,-5 1,-11 7,-4 10,-8 3,-12 6,-8 5,-9 7,-6 11,-3 8,-8 7,-5 6,-11 10,0 6,-4 6,-5 7,-7 9,2 14,-5 10,-4 8,-13 14,1 9,-4 1,-12 0,-10-4,-6 5,-11 2,-13-6,-13-3,-10-8,-13-8,-12-7,-6-5,-5-10,-7z"/>
<path fill="#a0cf76" d="M6591,2172l4,-8 9,-12 10,-6 10,-1 14,-6 7,-7 7,-3 9,-4 6,-5 11,-3 8,-3 8,2 11,3 12,2 11,-3 7,-4 4,8 5,5 12,7 7,8 8,12-1,12 4,6 14,7 10,3 10,7 12,10 12,5 7,10 7,3 14,2 4,-6 4,-10 9,-6 10,-2 5,-8 8,-13 12,-9 7,-8 5,-6 7,-10 4,-9 9,-8 1,-12-3,-8 9,-13-8,-8-13,-6-9,-12-9,-8-4,-10-9,-1-12,-8-5,-7-7,-11-6,-4-9,-5-5,-12-7,-7 0,-1-7,-4-6,-6-6,-7-7,-12-10,3-9,6-12,-1-10,5-12,1-10,-4-9,1-8,3-8,-4-11,-1-2,-10-4,-10-6,-4-4,-10 0,-1-14,-6-12,0-11,-4-7,-4-8,-10-10,6-10,5-2,8-5,7-8,1-8,5-9,7-5,10-11,10-4,11-6,14-2,16 7,6 1,9-5,12 2,11-4,8-8,10 0,15-1,12 2,10 2,6 2,10 1,10-2,10-2,9-7,13 10,7 5,5 7,6z"/>
<path fill="#f8cf8e" d="M6585,2181l8,12 8,13 3,10 5,13-1,13-6,11 5,6 0,10-1,12 7,11-1,9 5,10 6,13 13,7 8,8 9,6 12,10 15,1 11,1 15,3 8,-4 13,-1 13,8 13,5 7,0 11,0 13,0 9,2 8,-3 11,-4 9,-6 13,-4 5,-6 7,-7 7,-4 10,1 6,-7 0,-14 5,-9 7,-13-1,-7 1,-11-9,-6-7,-8-3,-14 2,-9 0,-9-4,-11-14,-2-7,-3-7,-10-12,-5-11,-10-11,-8-10,-2-14,-7-4,-6 1,-12-8,-12-7,-8-11,-7-5,-6-5,-7-7,4-11,3-12,-2-11,-4-8,-1-8,3-11,3-6,5-9,3-8,4-6,7-14,5-10,2-10,6-1,0-8,12-4,8z"/>
<path fill="#4fa34a" d="M6410,2421l-2,10 1,14 6,6 2,12-2,7 1,10 1,11 1,0 11,10 2,7 4,11 8,9 4,9 3,8 8,5 10,10 9,5 6,4 8,4 9,1 9,0 10,9 7,-3 9,2 12,2 12,-2 11,-8 8,-7 7,-3 8,-5 8,-3 4,-7 8,-5 15,-5 11,0 1,-12-6,-13 2,-14-1,-10 3,-8 0,-12 5,-12 1,-12 7,-14 3,-9 0,-7 6,-9 4,-10 6,-7 4,-12 12,-11 5,-10-11,-2-15,0-12,-11-9,-5-7,-8-14,-7-6,-13-4,-10 0,-9-7,-11 0,-1-9,5-14,-1-8,13-10,4-14,4-9,-1-8,7-5,5-6,4-10,0-6,11-7,5-8,8-11,3-7,6-5,9-6,7 0,1-3,12-10,8-7,4-1,11-5,5-14,3z"/>
<path fill="#fdf9c4" d="M6863,2337l-10,-1-7,4-7,7-6,5-12,5-9,6-11,4-8,3-9,-2-13,0-11,0-7,-1-13,-4-13,-8-13,1-8,4-15,-3-5,10-12,11-4,12-6,7-5,10-5,9-1,7-2,9-8,14 0,12-6,12 0,12-2,8 1,10-2,14 6,13-1,12 7,10 8,5 10,9 7,12 0,1 12,9 7,2 8,5 0,1 11,-2 8,7 6,3 10,8 3,8 6,2 7,8 10,-12 1,0 3,-8 10,-10 14,0 9,-4 12,-10 9,-6 10,3 13,2 8,-10 8,-5 15,-1 4,-11-3,-7-3,-11 7,-7 4,-11-1,-9 5,-10 5,-16 4,-14 5,-15-2,-8-6,-8-3,-14-2,-13-4,-6-3,-10-4,-7-1,-9-8,-7 1,-10-2,-8-3,-10z"/>
<path fill="#f8cf8e" d="M6440,2659l8,4 12,3 7,11 9,4 10,5 7,3 7,11 6,10 6,8 6,11 6,8 5,11 4,8 10,12 5,4 9,5 10,9 10,5 5,8 4,6 9,5 13,1 13,4 13,-3 8,-6 8,-1 15,-1 5,-15 7,-7 8,-9 9,-1 11,-6 8,-13 9,-11 1,-10 6,-8-1,-11 3,-9 1,-8 4,-10 1,-8-1,-9 6,-10 6,-12-1,-7 2,-13-6,-8-1,0-6,-2-3,-8-10,-8-5,-3-9,-7-11,1-8,-6-7,-1-12,-10-7,-12-10,-10-7,-4-8,-10-12,0-14,5-8,4-4,8-8,3-8,4-7,4-8,6-11,9-12,2-12,-2-9,-2-7,2-10,-8-9,0-9,-2-7,-3-1,0-2,11 2,9-4,13-9,6-2,15-9,10-2,10-6,6z"/>
<path fill="#efa768" d="M6749,2627l-2,13 0,7 11,12 10,5 7,-1 14,4 8,-1 10,2 6,14 1,8 5,10 7,4 3,9 1,0 11,4 10,3 2,15-1,11 4,7 8,13 3,11 7,6 7,5 7,10 5,13 5,8 12,5 8,2 8,0 1,0 7,-13 6,-11 3,-11 5,-9 5,-7 6,-10 6,-13 9,-9 5,-12-4,-10-3,-8 0,-15 7,-9 1,-15 1,-11-1,-9-1,-12-7,-10-5,-5-2,-14-9,-7-5,-12-7,-4-9,-6-13,-4-11,-3-6,-5-9,-1-10,-5-15,0-15,1-8,5-8,10-13,-3-10,-2-9,6-12,9-9,5-14,-1-10,11-4,8z"/>
<path fill="#fdf9c4" d="M6807,2910l1,0 7,2 11,1 7,-2 9,-6 9,-6 10,-7 9,-1 10,2 8,-6 4,-6 4,-6-1,-11 4,-8 10,-7 9,-3 7,-7 2,-13-1,0-8,-1-8,-1-12,-5-4,-8-6,-13-7,-11-7,-4-7,-6-3,-11-8,-13-4,-7 1,-11-2,-15-10,-3-11,-4-3,-9-8,-4-5,-10-1,-8-6,-15-10,-1-8,1-14,-4-7,1-10,-5-10,-12-1,0-6,12-5,10 1,9-2,8-4,10 0,8-3,9 1,11-7,8 0,10-9,10-8,14-11,6-9,0-9,10-6,7-5,14 0,1 9,5 11,7 14,4 12,7 16,1 9,9 7,8 9,9 9,7 9,9 6,4 8,5 10,4 5,9 3,8z"/>
<path fill="#fce4ae" d="M6440,2659l-13,0-8,6-10,10-10,11-3,8-4,11-2,7-1,12 4,12 6,13-4,7-2,9 0,15-5,13 0,1 1,13-1,9 4,9 7,14 8,5 11,9 9,14 6,8 3,7 5,10 11,10 3,12 8,5 10,7 15,3 11,0 15,3 8,3 8,0 12,-4 10,4 1,0 4,-10 4,-6 3,-11 5,-8 2,-15 0,-9-1,-7 9,-8 4,-8 7,1 9,-5 4,-6 9,-5 12,-10 7,-5 4,-11-1,0-13,3-13,-4-13,-2-9,-4-4,-6-5,-8-10,-5-10,-9-9,-5-5,-4-10,-13-3,-7-6,-11-6,-9-5,-10-6,-8-7,-10-7,-11-6,-3-11,-5-9,-5-7,-10-12,-3z"/>
<path fill="#f8cf8e" d="M6553,2935l-11,-4-12,4-8,0-8,-3-15,-3-11,0-11,4-11,7-12,4-6,6-7,11-2,9-6,8-10,5-2,14-4,12-7,4-4,9-10,5-4,7-10,1-8,6-9,8-2,6 0,10-11,2-10,10 5,11 2,11 1,11-2,11 9,9 1,0 10,-6 8,-11 7,0 9,-4 10,4 10,-3 10,0 15,-1 14,-5 15,3 12,8 6,9 11,1 11,4 2,-8 4,-9 11,-8 14,-4 8,-11 8,-9 6,-8 9,-7 8,-13 4,-7 8,-4 7,-7 1,-12-1,-9 4,-7 2,-8-3,-12-7,-8-4,-12-6,-7-9,-2-10,-5-2,-10z"/>
<path fill="#e6553a" d="M6552,2935l8,7 2,10 10,5 9,2 6,7 4,13 7,7 3,12-3,8-3,7 1,9 7,4 9,3 1,0 12,-7 7,-6 10,-3 12,-3 16,2 8,-1 11,-7 11,-2 1,0 9,-5 15,-1 7,-1 9,6 12,-5 14,-2 7,-4 8,-4 8,-8 8,-11 1,-16-5,-12-1,-8 4,-9 11,-12-6,-10-3,-8-5,-9-10,-4-7,-5-7,-4-9,-10-9,-6-9,-9-7,-8-9,-9-15,-1-13,-7-14,-4-11,-7-9,-6-15,2-8,1-8,6-3,11-7,5-12,10-9,5-4,6-9,5-7,-1-4,8-9,8 1,7 0,9-2,15-5,8-3,11-4,6z"/>
<path fill="#e6553a" d="M6883,3096l6,-9 8,-6 2,-8 1,-9 13,-4 10,-8 6,-4 9,-7 12,-5 12,-2 8,-5 0,-1 7,-5 0,-1 5,-10 10,-5 10,-11 8,-10 7,-8 9,-2 5,-11 4,-7 2,-15 1,-11-5,-9-6,-11-11,-7-5,-7-9,-9-5,-8-7,-5-5,-9-10,-2-14,-7-6,-6-9,-4-13,-3-8,-6-7,7-9,3-10,6-4,9 1,11-4,6-4,6-8,5-10,-1-9,1-10,7-9,6-9,6-7,2-11,-2-7,-1-1,0-10,12-4,9 1,8 5,12-1,16 5,6 3,10-3,9 2,12 7,9 2,7 3,6 6,8 6,9 0,14 10,11 4,10 6,7 9,4 15,2z"/>
<path fill="#e62e27" d="M7145,2549l-4,6-8,5-10,7-10,2-11,3-7,0-9,8-9,4-8,-1-12,1-6,6-12,5-7,2-11,0-13,5-7,13-10,7-8,12-4,8 1,12 1,9-2,11 0,15-7,9 0,15 3,8 4,10-5,12-9,9-7,13-5,10-5,7-5,9-3,11-7,11-7,13-1,13 8,6 13,4 9,3 6,6 14,7 10,2 5,9 7,5 4,8 10,9 5,7 11,7 6,11 10,-4 7,-8 12,-10 8,-7 10,-7 7,-7 5,-13 9,-3 12,-7 12,-1 10,1 7,-8 8,-4 10,-6 7,-13 10,-6 10,-2 8,-6 3,-8 10,-6-7,-10-2,-13 7,-12-2,-16 1,-10 8,-11 8,-11-2,-9 4,-11 0,-13 0,-1-2,-12-4,-7-2,-12 5,-13 0,-1 1,-7-2,-9-8,-9-2,-10 1,-12-2,-10-9,-12-13,-2-6,-7-7,-7-15,1z"/>
<path fill="#f5be7e" d="M6861,2345l2,10 3,8-1,10 8,7 1,9 4,7 3,10 4,6 2,13 2,14 6,8 3,8-5,15-4,14-5,15-5,11 1,9-4,11-7,7 3,11 3,7-4,11 15,0 10,6 9,0 6,6 11,2 13,5 9,6 7,3 5,12 9,7 2,14 5,5 7,11 4,-9 8,-12 10,-7 7,-13 13,-5 11,0 7,-2 12,-5 6,-6 12,-1 8,2 0,-1 9,-4 9,-8 7,0 11,-3 10,-2 10,-7 8,-4 4,-7 13,3 15,0 0,-1-5,-12-9,-4-5,-9-4,-11-4,-15-4,-9-3,-7 3,-13 0,-10 0,-12-2,-7 2,-10-1,-11-8,-7-2,-12-7,-11 1,-14-4,-11-3,-8-2,-12-6,-10-1,-8 3,-9 0,-10-9,1-11,-4-7,-5-10,-2-11,-4-13,-3-7,2-9,4-10,3-8,7-13,0-6,-4-9,-1-12,3-11,1-12,2-11,3-14,3-9,1-10,-1-11,7-9,1-12,1-9,5 0,1-6,7z"/>
<path fill="#f5be7e" d="M7199,2174l-10,3-14,4-8,-2-12,1-10,3-12,8 1,13-4,8 0,1 0,7 1,6-4,11 0,12-4,12-2,10 3,10-3,8-3,12-6,8 0,10-4,9 1,8 6,10 2,12 3,8 5,11-1,14 7,11 2,12 8,8 1,10-2,10 1,7 1,12-1,10-2,13 3,8 3,8 4,15 5,11 4,9 10,4 5,13 6,6 6,7 1,0 13,2 11,-1 9,-2 12,-7 11,0 8,3 8,-2 11,5 8,-6 9,-9 12,-1 8,-4 4,-7 7,-5 4,-10 11,0 13,7 10,3 6,-2 7,-1 9,-2 11,6 6,-5 11,-1 1,0-1,-11-7,-13 0,-12 6,-14 1,-11-4,-9-7,-13 9,-8 4,-7 6,-10 0,-9 5,-14-2,-12 3,-11 7,-8-8,-4-8,-4-10,-13-14,-1-12,-9 2,-9-2,-8-7,-5-3,-10 1,-11-2,-15-8,-11-13,-6-2,-8-7,-8-6,-14-2,-12-3,-12-3,-8-5,-5-7,-6-10,-4-7,-5-12,-7-9,-2-7,4-9,1-12,-1-7,-2-12,-1-8,4-8,1z"/>
<path fill="#e08a5c" d="M7199,2567l9,12 2,10-1,12 2,10 8,9 2,9-2,7-4,14 2,12 4,7 2,13 0,13-5,11 3,9-8,10-8,12-1,10 2,16-7,12 2,13 7,10 9,8 10,7 14,1 11,4 9,1 11,5 14,8 13,5 6,6 3,6 5,13 8,12 13,0 14,2 9,-7 11,-3 3,-8 3,-12-1,-13 5,-13 9,-8 10,-5 8,-9 7,-4 4,-12 2,-9 5,-7 9,-13 1,-13 5,-11 1,-9 2,-14 0,-10 0,-7 7,-11 2,-11 7,-11 3,-8-1,-9-4,-12-2,-7-1,-11 7,-7 2,-9-2,-14-9,-8-8,-3-3,-10-7,-10-6,-5-4,-8-9,-7-8,-2-11,0-6,6-11,-6-9,2-7,0-6,3-10,-3-13,-8-11,0-4,11-7,5-4,6-8,5-12,1-9,9-8,6-11,-5-8,2-8,-4-11,1-12,7-9,2z"/>
<path fill="#e6553a" d="M7117,3049l11,0 10,-4 13,0 6,8 14,4 8,9 13,9 6,5 0,1 10,5 16,2 8,-1 8,-7 8,-7 7,-5 0,-1 2,-11 2,-11 3,-6 0,-8 6,-9 4,-8-1,-8 3,-10-4,-13 12,-8 4,-11 3,-7 0,-11 4,-6 8,-12 0,-9 1,-10 6,-11 6,-14 7,-10-8,-12-5,-13-3,-6-6,-7-13,-4-14,-8-11,-5-9,-1-11,-4-14,-2-10,-6-9,-8-10,6-3,8-8,5-10,2-10,7-7,13-10,6-8,3-7,8-10,0-12,1-12,7-9,3-5,13-7,7-10,7-8,7-12,10-7,7-10,5 5,9-2,11 4,10-1,8 4,8 4,6 9,7 5,13 9,14 12,8 5,9 8,4 10,6 7,4z"/>
<path fill="#e62e27" d="M7528,3039l-4,-13 1,-10-5,-9-2,-9 2,-12-9,-12-11,-9-5,-9-9,-12 0,-15-12,-5-14,-8-9,-7-6,-3-13,3-14,-5-7,-5-7,-4-7,-13-10,-2-7,-4-12,-10-11,3-9,6-14,-1-13,0-7,10-6,14-6,11-1,10-1,9-7,12-4,6 0,11-4,7-3,11-12,8 3,13-2,10 1,8-4,8-6,9 0,8-3,6-2,11-3,11-6,6-8,7-8,7-8,0 4,11 3,7 11,11 13,5 6,4 9,2 5,8 12,5 15,4 8,13 8,9 6,6 12,-1 13,5 10,0 10,0 6,8 11,6 9,1 8,1 11,7 1,0 12,2 7,1 10,4 8,4 10,0 3,-15 7,-9 0,-12 1,-8 4,-8 8,-10 5,-8 0,-12 8,-12 5,-9 9,-6 6,-3 5,-10 3,-7 5,-14-1,-7 1,-9z"/>
<path fill="#e62e27" d="M7740,2856l-4,-16-3,-6-9,-5-9,-7-10,-6-11,-10-13,3-9,7-7,0-8,5-9,-1-12,-4-8,3-7,8-12,2-10,2-13,0-8,1-10,3-10,11-3,10-8,6-7,4-5,7-5,7-7,11-10,10-6,13-7,7-7,2-7,6-1,0 1,15 0,1 9,11 5,9 11,9 8,12-1,12 2,9 5,9-2,10 5,13 0,1 15,-3 10,-3 8,-5 0,-1 13,-9 7,-3 12,-5 13,-5 10,1 15,-2 10,3 16,2 5,3 9,4 12,7 9,8 9,-1 9,0 8,6 7,3 13,0 12,1 10,-1 7,0 0,-1 9,-11 4,-9 0,-10-5,-7-3,-11-10,-12-11,-8-8,-8 2,-14-2,-11-4,-7-4,-9 6,-15-3,-13 2,-12 0,-11z"/>
<path fill="#c8e39c" d="M6860,2219l4,11 0,9-2,9 3,15 7,7 9,6-2,11 2,7-7,13-5,9 0,14 9,-6 12,-1 9,-1 11,-7 10,2 1,0 8,-1 14,-4 11,-3 12,-2 11,-1 12,-3 9,1 6,4 13,0 8,-7 10,-3 9,-4 7,-2 12,3 12,4 10,2 7,5 11,5 9,-2 6,-8 3,-12 3,-8-3,-10 2,-10 4,-12 1,-12 3,-11-1,-6 0,-7 4,-9-1,-13-7,-6-4,-7 1,-8-4,-11-8,-10-2,-9-11,-3-7,-7-11,-8-16,0-12,2-8,-5-8,-4-12,-10-9,-12-13,-7-12,-6-11,0-7,4-6,6-15,1-9,13 2,8 0,12-9,8-4,9-7,9-5,7-8,8-12,9-7,12-5,9-10,2-9,6-4,10z"/>
<path fill="#a0cf76" d="M7324,2036l-10,-4-8,-5-7,-10-3,-10-4,-6-11,5-9,-2-11,-5-8,-2-7,-7-6,-7-8,-2-8,-3-1,0-11,3-8,1-14,5 0,1-8,11-7,9 0,8-6,8-1,8-1,11 2,14-6,12-8,8-9,6-7,0-5,10-5,14-1,14-6,8-6,6-7,5 1,9 9,10 4,11-1,8 4,7 7,6 12,-8 10,-3 12,-1 8,2 14,-4 10,-3 7,-1 8,0 8,-5 12,1 7,2 12,1 9,-1 7,-4 9,2 12,7 7,5 10,4 7,7 5,4 3,8 3,12 2,12 6,14 7,8 2,8 13,6 8,11 1,15 0,11 3,10 6,5 2,8-1,9 12,9 14,1 10,13 8,4 8,4 5,-8 8,-8 7,-2 8,-6 11,-10 8,-6 0,-9 6,-11-2,-9 4,-13 6,-9 2,-7 5,-7 5,-11 1,-13 1,-15-6,-9-3,-13 0,-12-3,-11-2,-12 0,-13-5,-10-1,-7-4,-9 4,-10 0,-15-8,-4-11,-7-5,-10-6,-9-9,-4-7,-4-9,-7-2,-3-1,0-9,-3-12,-10-14,-7-14,2-15,4-8,2-14,3z"/>
<path fill="#fce4ae" d="M7454,2340l12,1 14,-3 15,-4 8,-5 1,0 6,-7 11,-9 10,5 10,-2 12,-6 9,-3 13,0 11,7 9,4 7,2 8,3 11,-3 8,-1 9,-7 10,2 13,7 2,-12 0,-11 5,-8 1,-10 3,-7 7,-11 10,-5-3,-13 2,-15-7,-8-2,-9 1,-13 2,-13 0,-11 1,-8-6,-14 3,-15 0,-10 0,-12-2,-9 3,-8-10,2-7,1-11,-3-11,-1-11,6-15,0-9,-8-10,-5-10,-5-10,-1-12,1-10,1-10,0-14,-3-10,4-10,7-10,0-8,-2-12,6 0,15-5,10 4,9 2,7 5,10 0,13 2,12 3,11 0,12 3,13 6,9-1,15-2,13-4,11-5,7-2,7-6,9-4,12 0,1 2,9-7,11 1,9-9,6z"/>
<path fill="#de7b52" d="M7418,2371l-2,12 2,12-6,14 1,9-6,10-4,7-9,8 7,13 3,9 0,11-6,14-1,0 1,12 0,1 7,12 0,11 8,2 9,7 4,8 6,5 7,11 3,9 8,3 9,8 14,-2 9,-6 9,-2 13,-1 13,3 10,-1 15,-2 12,-4 9,-3 9,1 8,-4 10,-3 11,-4 12,-1 14,2 8,2 8,6 8,2 10,9 6,-9 13,-3 12,-3 13,4 1,-7 5,-8-1,-10 3,-9 8,-9 0,-1 2,-9 6,-14 0,-1 0,-11 2,-11 0,-7 10,-11 3,-11 3,-10 1,-15-8,-7-1,-10-3,-7-1,0-9,-7-12,-9-14,-7-11,-3-7,1-4,-7-4,-10-10,-8-3,-12 0,-9-13,-7-10,-2-9,7-9,1-10,3-8,-3-7,-2-9,-4-11,-7-13,0-9,2-12,7-10,2-10,-5-11,9-7,7-8,5-15,3-14,4-12,-1-8,6-7,2-8,8-5,8z"/>
<path fill="#fbd9a0" d="M7692,2555l-12,3-13,4-6,8-10,-8-8,-2-8,-6-8,-2-14,-3-12,2-11,4-10,2-8,5-9,-2-9,4-12,4-15,2-10,1-13,-3-13,1-9,2-9,6-14,2 2,14-2,9-7,7 1,11 2,7 4,12 1,9-3,8-7,11-2,11-7,11 0,7 0,10-2,14-1,9-6,11-1,13-8,12-5,8-2,9-4,12-7,4-1,0-7,9-10,5-9,8-1,0-4,13 1,13-3,12-3,8 11,10 8,4 10,2 7,14 7,4 7,4 14,5 13,-2 6,2 9,7 13,8 13,5 7,-6 7,-2 1,0 7,-7 5,-13 10,-10 8,-11 5,-7 4,-7 7,-4 8,-6 3,-10 10,-11 10,-3 8,-1 13,1 10,-3 12,-2 7,-8 8,-3 12,5 9,0 8,-5 7,0 9,-6 13,-3 0,-10 5,-9 3,-15 11,-6 9,-3 7,-14 6,-12 6,-8 8,-6 6,-14 2,-7-5,-10-2,-9 5,-12 1,-15-2,-10 3,-7-2,-15-4,-6-7,-6-2,-11-4,-8-3,-8-8,-8-10,-6-6,-4-6,-8-13,-4z"/>
<path fill="#a0cf76" d="M7866,2355l1,-8 1,-9-6,-12 7,-15 2,-7 3,-8 9,-13 1,-11 6,-11 7,-13-2,-8 2,-10 7,-11 0,-9 0,-1-5,-9 1,-12-1,-8-2,-11 3,-12 7,-14-7,-9-9,-12-6,-6-1,0-10,-2-7,-6-7,-7-6,-3-9,-6-8,-11-1,-12-3,-7-4,-8-4,-6-7,-9-11,-5-9,-5-11,-4-8,2-11,1-7,3-11,10-11,1-11,4-5,8-15,1-5,13-1,8-12,10-6,5-3,8-3,8 2,9 0,12-1,10-2,15 6,14-1,8 0,11-2,13-1,13 2,9 7,8-2,15 3,13-10,5-7,10-3,8-1,10-5,8 0,11-2,12 0,9 3,12 9,9 4,9 5,7 7,0 11,2 14,7 12,9 9,7 3,7 1,0 12,4 14,1 13,-1 8,-3 9,0 11,-7 6,-6 8,-5 0,-1 4,-9 13,-1 10,-4 11,-8z"/>
<path fill="#e08a5c" d="M7866,2355l12,6 9,3 11,7 5,11 6,7 5,6 11,11 10,8 12,8 13,3 9,4 8,-1 10,-1 6,4 13,4 9,1 9,-9 12,-8 1,-11 5,-6 5,-8 7,0 10,-4 10,-9 9,-11 8,-13 8,-11 0,-10 5,-6-1,-14-1,-10 0,-1-2,-6 4,-10 2,-7 3,-9 2,-8 5,-11 6,-7 5,-9 9,-8 9,-1 8,-4-4,-5 3,-4-2,-4-7,-2-8,-6-7,-5-6,-8-4,-10-2,-10-13,-10-11,-4-9,-2-10,0-11,10-12,5-7,4-14,-1-11,3-9,1-11,-5-10,-6-14,-8-13,-6-6,-11-10,-1-7,3-11,4-8,-5-12,1-7,14-3,12 1,11 2,8-1,12 5,10 0,9-7,11-2,10 2,8-7,13-6,11-1,11-9,13-3,8-2,7-7,15 6,12-1,8z"/>
<path fill="#e6553a" d="M8015,2436l2,13 7,9 3,9 3,8 2,14-1,15 6,14 8,8 13,8 10,4 11,-8 14,-4 8,2 11,-4 10,-4 5,-9 11,6 14,2 8,-2 10,2 12,-5 7,-11 9,-1 12,-5 14,2 10,4 14,-4 12,2 6,1 11,1 8,6 11,1 8,3 5,6 13,2 12,-1 3,-7 6,-4 6,-10-1,-12-4,-11 3,-12 2,-8-7,-7-3,-7 2,-12-2,-11-2,-6-3,-7-6,-5-7,-1-2,-8-4,-5-2,-14-4,-5-5,-9-8,-1-5,-4-13,-3-9,-1-9,-1-7,-4-8,-6-9,-11-10,-8-8,-4-6,-2-9,-6-8,-1-6,-6-4,-10-6,-11-6,-8-6,-8-2,-8 2,-8-4,-9-6,-9-4,-5-9,3-8,2-9,8-5,8-6,8-5,10-3,9-2,9-2,7-4,10-1,0 1,0 2,7 1,10 1,14-5,6-1,10-7,11-8,13-9,11-11,9-9,4-7,0-1,0-4,8-5,6-1,11-12,8z"/>
<path fill="#e08a5c" d="M7866,2355l-8,4-11,8-10,4-13,1-4,9-8,6-6,6-11,7-9,0-8,3-13,1-13,-2-13,-3-1,0 2,10 8,7-1,15-3,10-4,11-9,11-1,7-1,11 0,11-6,14-2,10-8,10-3,9 1,10-5,8-1,7 6,9 6,3 10,6 8,8 3,8 4,8 2,11 15,2 9,3 6,4 9,7 1,0 9,0 9,2 12,7 16,-3 15,5 7,1 12,1 14,0 10,-7 9,-12 8,-6 11,-8 4,-11 1,-7 6,-5 4,-9 8,-8 14,-7 12,-5 6,-6 9,-1 10,-5 7,1 11,-1 8,-3 10,-3 9,-6 10,-7-8,-8-6,-14 1,-15-2,-14-3,-8-3,-9-7,-9-2,-13-9,-1-13,-4-6,-4-10,1-8,1-9,-4-13,-3-12,-8-10,-8-11,-12-5,-5-6,-7-5,-11-11,-7-9,-3z"/>
<path fill="#f5be7e" d="M7943,2774l0,-9 2,-8-3,-10 1,-16-5,-6-5,-8 0,-14-2,-8 0,-1-8,-9-6,-9-8,-8-10,-2-8,-6-3,-9 0,-16-10,7-14,0-12,-1-7,-1-15,-5-16,3-12,-7-9,-2-9,0-10,-7-6,-5-9,-2-15,-2 6,6 5,6 2,15-3,7 1,10 0,15-5,12 2,9 4,10-1,7-6,14-8,6-6,8-1,0-5,12-8,14-8,3-11,6-3,15-5,9 0,10 11,9 10,6 9,7 9,5 3,6 4,16 0,15-1,11-2,12 4,13-7,15 5,9 4,7 2,11-2,14 8,8 11,8 9,12 4,11 5,7 6,-4 11,0 7,3 11,2 6,-5 11,0 14,-1 11,-2 8,-5 7,-7 8,-7 12,-2 1,0 7,-8 7,-1 1,0 9,-3 6,-8 9,-11 11,-9 8,-2 12,3 12,-5 13,0 14,-2-7,-14-2,-10-6,-5-5,-9-11,-11-4,-5-2,-12-1,0-10,-9-11,-5 3,-12-2,-10 0,-10-4,-10 0,-9-2,-14 0,-4z"/>
<path fill="#f5be7e" d="M8045,2526l0,-1 0,1-10,7-9,6-10,3-8,3-11,1-7,-1-10,5-9,1-7,6-11,5-14,7-8,8-5,9-5,4-2,8-3,11-11,8-8,6-9,12 0,16 3,9 7,6 1,0 10,2 7,8 7,9 8,10 2,8 0,14 4,8 6,6-1,16 3,10-2,8 0,9-5,12-1,4 3,14 0,9 4,10 0,10 2,10-3,12 0,1 11,4 10,9 2,12 1,0 4,5 11,11 5,9 6,5 2,10 7,14 7,3 9,-6 8,-9 12,-6 15,-5 10,-2 11,-4 13,-6 9,-7 10,-2 7,-3 10,-1 12,-1 11,-9 15,0 10,-3 8,2 1,0 7,-10 3,-9 2,-7 2,-9 2,-11-1,-14-4,-14-5,-8-10,-8-9,-3-7,-4-5,-10-8,-12-8,-13-6,-7-5,-7-8,-8-12,-4 5,-10 1,-8-1,-8 5,-7 0,-1-6,-11-4,-8-5,-11 2,-10 1,-14-7,-8-2,-13-6,-8-3,-8-5,-15-8,-11-5,-11-3,-10 1,-8-9,-4z"/>
<path fill="#fdf9c4" d="M8191,2802l3,14 2,14 218,-65 0,-1 4,-8 2,-7-1,-10-4,-8-3,-6-7,-11-4,-9-4,-11-4,-8-1,-7 4,-8 3,-12-10,-5-6,1-8,-8-11,-5-8,-9-3,-6-4,-8-2,-10-4,-6-3,-5-8,-3-5,-8 0,-13-3,-10-5,-5 1,-9-3,-9 6,-7 3,-8 8,-5 0,-2-12,2-13,-2-4,-6-9,-3-11,-1-8,-6-11,-1-6,-1-12,-2-14,4-10,-4-14,-2-12,5-9,0-7,11-12,6-10,-2-8,2-14,-3-11,-5-5,8-10,4-11,5-8,-3-14,5-11,8-1,8 3,10 5,11 8,11 5,15 3,8 6,8 2,13 6,8 0,14-2,10 0,1 5,10 4,8 5,11-4,8 1,8-2,8-4,10 11,5 9,7 5,7 6,7 8,13 8,12 5,10 0,1 7,4 9,2 10,8z"/>
<path fill="#f2f7c2" d="M8196,2830l-2,11-2,8-2,8-3,9-8,10 4,13 8,12 9,13 9,12-8,10-6,10-6,15-2,7 1,11 3,14 4,13-6,12 0,11 6,6 6,9 7,8 1,7 10,8 9,12 5,5 4,9 11,11-2,12-1,9 4,13 5,9 10,-2 6,2 12,-5 8,-4 14,0 10,1 11,5 7,9 9,-2 8,-4 8,-6 6,-7 1,-8 6,-8 7,-5 2,-7 6,-8 1,-14 1,-10 3,-8 6,-14 5,-12 9,-10 4,-12 5,-11 1,-11 1,0-2,-1-5,-6-2,-7-4,-11-6,-6-6,-1 1,-10 1,-8-4,-6-1,-8-4,-13-2,-9 1,-11 1,-7-4,-9 5,-10 5,-3 8,-3 3,-9 3,-8 0,-11 2,-8 1,-13-1,-8 5,-11 1,-8 0,-7-5,-7-2,-8 4,-4z"/>
<path fill="#5aa94e" d="M8033,3047l6,12-1,8-3,11 1,12 9,11 7,13 9,10 1,13-2,15 1,12-2,12-6,4-7,8-2,8-5,10 10,4 11,4 6,13 8,7 9,2 7,6 9,10 0,1 10,7 3,-14 9,-6 3,-7 11,-6 1,0 8,-13 4,-7 6,-7 8,-4 8,-5 5,-4 10,-1 11,2 3,-5 7,-7 8,-14 11,-3 10,-4 9,-1 10,-7-5,-9-4,-13 1,-9 2,-12-11,-11-4,-9-5,-5-9,-13-10,-7-1,-7-7,-9-6,-8-6,-6 0,-11 6,-12-4,-13-3,-14-1,-11 2,-7 6,-15 6,-10 8,-10-9,-12-9,-13-8,-12-3,-13-8,-2-1,0-10,2-15,0-11,10-12,1-10,1-7,3-10,2-10,6-12,7-11,4-10,1-15,5-12,7-9,8-8,7 7,12 7,9-1,9 1,0 1,8-1,12 7,11-5,12 3,10 1,15z"/>
<path fill="#b1b5cb" d="M7975,2937l-12,4-12,-2-8,1 0,1-11,9-9,11-6,8-10,3-7,1-8,8-12,2-8,6-7,8-9,5-10,2-14,0-11,1-6,5-11,-2-7,-3-11,0-6,4-1,10-4,9-8,11 8,10 1,8 0,1 7,10 8,7 3,12 3,14 7,13-4,8-1,12-1,14 0,5 11,4 10,10 5,7 1,9 0,16 2,8 1,0 7,8 12,3 12,8 0,1 13,3 11,-2 10,-3 8,2 13,3 14,2 14,2 10,-2 12,5 12,0 13,-7 14,-5 7,-4 6,-9 15,0 8,-6 5,-10 2,-8 7,-8 6,-4 3,-12-2,-12 2,-15-1,-13-9,-10-7,-13-9,-11-1,-12 3,-11 1,-8-5,-12-5,-11-1,-15-2,-10 4,-12-7,-11 1,-12-1,-8 0,-9-6,-9-8,-12-7,-3-14,2z"/>
<path fill="#fdf9c4" d="M5063,3714l-11,-10-8,-5-2,-14-7,-8-2,-11-5,-6-8,-4-7,-5-5,-7-2,-9 2,-10-3,-7 2,-9-1,-10-4,-13 3,-8 0,-8-85,0 0,9 2,11 0,11 4,13-1,13 1,13 7,8 7,11 8,6 7,7 8,2 13,2 3,7 4,8 6,4 11,4 0,10-6,11-1,7 3,8 4,7 2,10-2,9-3,6 1,12-4,7-4,13 6,7 6,4 9,9 3,4 9,3 9,6 8,7 6,8 5,4 7,8 1,8 2,-13-2,-10-4,-7-6,-11 0,-11 1,-11 3,-9 5,-6 4,-14 6,-9 8,-5-2,-7 1,-12 7,-10 1,0 0,-8-12,-3z"/>
<path fill="#f8cf8e" d="M5978,3392l9,-6 11,-12 6,-10 9,-6 11,-6 13,-1 10,-8 10,-2 8,-11 13,-3 5,-9 1,-13 11,-11 6,-2 9,-3 8,-4 5,-6 6,-6 10,-7 0,-1 3,-15 1,-9-1,-11-2,-7-1,-10-13,-7-5,-12-6,-3-8,-6-13,-1-9,2-10,2-10,2-13,4-11,11-8,-6-12,-5-15,-3-12,-6-10,-10-13,0-11,0-14,-5-11,0-2,-1 0,1-2,6-9,7-14,6-9,6-7,10-12,9-7,6-8,3-11,4-10,5-11,-1-10,4-11,2-10,11-10,-4-4,-6-11,0-7,4-12,0-6,-1-10,4-5,14-1,10-5,11-4,6-11,11-3,10-2,9 4,11 4,6-1,16-3,12-4,10 9,9 4,11 11,1 12,8 7,5 1,0 7,2 14,-2 8,5 8,4 7,4 11,-1 7,7 6,10 4,8 4,9 9,8 12,4 13,4 9,0 7,6 12,-1 8,-5 7,0 8,4 11,-5 11,-2 5,-7 4,-14-3,-14 3,-12 7,-6 4,-6 5,-14z"/>
<path fill="#fce4ae" d="M5179,3694l-9,5-8,5-8,3-6,6-10,6-13,0-8,2-10,-3-14,3-10,3-1,8-7,10-1,12 2,7-8,5-6,9-4,14-5,6-3,9-1,11 0,11 6,11 4,7 2,10-2,12 0,3-1,11 2,6 3,8-1,6-6,7 1,11 2,8-6,4-2,8-1,10 7,0 10,-4 9,-1 13,-4 11,-9 13,-7 6,-10 5,-9 6,-9 8,-4 6,-5 10,1 1,0 12,-6 7,2 11,0 16,2 13,-3 11,-1 1,0 3,-10 0,-13 8,-7 5,-14 3,-8 1,-7-2,-15-1,-14-8,-10-3,-6-3,-9-7,-13 1,-14-9,-7-2,-9-1,-7-6,-7-7,-5-9,-1z"/>
<path fill="#e62e27" d="M5599,3899l-3,-13-4,-10 2,-10-2,-11-4,-14 1,-9 1,-11 3,-11 10,-13 2,-14 0,-10-5,-7-1,-10 0,-1-11,-6-6,-5-6,-6-10,-2-6,-7-10,-6-6,-3-5,-8-12,-5-4,7-12,5-7,14-12,4-7,1-11,3-8,4-11,7-8,3-5,6-9,-1-8,2-11,8-2,14 2,8 0,8 6,8 2,12 0,10 5,10 4,6 6,7 14,6 8,1 12,-2 5,8 10,4 11,7 4,8 6,12 14,2 11,10 7,6 6,5 7,4 5,9 11,-8 5,-9 13,-4 8,-4z"/>
<path fill="#e62e27" d="M5786,3709l-11,-3-12,-7-12,-5-5,-6-8,-4-10,-2-5,-4-11,3-8,10-8,6-8,4-12,-1-8,12-9,3-8,6-9,6-14,5-7,5-7,6-7,4-8,8 0,1 0,10 1,0 5,7 0,10-2,14-10,12-3,12-1,11-1,9 4,14 1,11-1,10 4,10 3,13 12,-4 9,-3 7,2 9,3 13,1 13,0 8,-4 13,1 7,3 9,1 12,-3 11,-9 7,-2 5,-7 11,-6 6,-7 1,-10 8,-9 2,-9 5,-11 7,-8 7,-2 2,-12-2,-8 4,-12 2,-12 3,-6 6,-7 4,-8 4,-10-3,-7-4,-8-7,-6z"/>
<path fill="#de7b52" d="M5414,3770l-10,-2-7,-6-10,-8-10,2-11,7-15,0-1,0-6,3-11,2-11,10-11,1-10,2-13,7-10,-1-10,4-8,6-7,6-9,4 2,15-1,7-4,8-4,14-8,7 0,12-4,11 10,1 9,7 5,9 11,9 6,8 8,7 14,3 7,5 4,8 7,6 8,8 6,-13 7,-6 6,-5 0,-9 2,-10 8,-1 9,-2 8,-8 9,-8 9,-8 5,-7 4,-7 7,-6 8,-4 9,-1 12,2 14,-6-6,-7-3,-6-6,-10 1,-10-3,-12-6,-8 0,-8-2,-8z"/>
<path fill="#e62e27" d="M5557,3933l-5,-9-7,-5-6,-4-6,-6-12,-10-14,-2-6,-12-4,-8-11,-7-9,-5-6,-7-12,2-8,-1-14,-6-14,6-12,-2-9,1-8,4-7,6-4,7-5,7-9,8-9,8-8,8-9,1-9,2-1,10-1,9-5,5-7,6-6,13 4,8-1,7 8,13-1,11 12,3 10,5 9,-1 7,2 11,6 12,1 6,5 14,0 11,3 11,11 8,2 7,3 7,3 1,0 11,-1 11,1 6,4 8,3 9,-8 13,-5 13,-8 10,-2 11,-5 5,-14-1,-15 4,-8 6,-10 2,-8 4,-10-4,-7z"/>
<path fill="#efa768" d="M5279,4080l7,-10 10,-4 9,-7 5,-14 3,-13 3,-13 6,-14 2,-14 1,-11-7,-13 0,-7-4,-8 0,-1-8,-7-7,-6-4,-8-7,-5-14,-3-8,-7-6,-8-11,-9-5,-9-8,-7 0,-1-11,0-11,1-13,3-16,-3-11,1-7,-3-13,7-10,-2-7,5-7,5-6,9-5,9-6,10-13,7-11,9-13,4-9,0-10,5 8,7 7,3 9,6 11,4 12,9 12,3 4,12 1,14 9,5 2,7 10,8 7,9 1,8 2,9-1,14 3,13 5,8 10,7 4,10 11,-4 10,-5 15,-6 4,-7 8,-5 9,4 11,2 14,-1 14,-2z"/>
<path fill="#e6553a" d="M5173,4104l-3,-10-11,-7-5,-8-3,-13 1,-14-2,-9 0,-8-8,-9-9,-8-3,-7-8,-6-2,-13-4,-12-12,-3-12,-9-11,-4-9,-6-7,-3-8,-7-7,0 0,1-8,8-7,8-2,7-7,7-10,7-13,-4-9,0-8,5-6,6-10,6-1,13 0,10-2,7-5,7-3,11 4,7 7,6 4,9-11,9-5,5-3,11-5,12-4,9-6,4 6,11 4,10 8,11 8,3 8,6 7,10 4,8-2,8 7,10 0,14 10,-3 7,1 7,4 4,6 12,4 5,11 11,5 7,6 7,6 8,-4 9,-1 8,2 10,4 10,8 6,0 9,1-3,5 8,-6 1,-9 6,-9 6,-12 5,-10 1,-6 2,-10 0,-10-2,-7 4,-7 0,-1 0,-9 4,-10 6,-8 7,-13 1,-10 6,-9z"/>
<path fill="#b1b5cb" d="M5347,4162l10,6 11,11 10,3 7,12 10,1 10,8 2,-7 8,-8 8,-7 7,-2 7,-6 1,-14 7,-14 1,-13 6,-8 4,-6-1,-13-2,-12 2,-9 1,-6 8,-8 5,-7 5,-4 0,-1 5,-8 7,-9-8,-3-6,-5-11,0-11,1-8,-3-7,-3-8,-2-11,-11-10,-3-15,0-6,-5-11,-1-11,-7-1,0-7,-2-9,2-10,-6-12,-2-2,14-6,14-3,13-3,13-5,14-9,7-10,4-7,10 5,8 8,3 5,8 7,6 13,9 6,13 3,7 7,6 2,10 6,5z"/>
<path fill="#de7b52" d="M5699,3899l-9,-1-7,-3-13,-1-8,4-13,0-12,-1-10,-3-7,-2-9,3-12,4-5,9-8,4-13,3-5,10-11,8 1,8 3,7-3,10-2,8-7,10-3,8 1,15-5,14 11,2 8,8 9,11 6,11 3,11 6,12 5,8 0,1 10,5 6,6 3,8 7,8 8,5 12,4 13,-6 12,-1 12,-1 9,-7 5,-6 9,-7 6,-9 3,-11 5,-5 4,-8 3,-10 3,-7 4,-9 10,-7 1,-9 6,-7 8,-6 7,-11 13,-2 9,-6-3,-12-8,-7-6,-3-9,-4-13,-9-7,-14-7,-4-8,-6-7,-14z"/>
<path fill="#efa768" d="M5636,4113l-12,-4-8,-5-7,-8-3,-8-6,-6-10,-6-5,-8-6,-12-2,-11-6,-11-10,-11-8,-9-11,-1-11,5-10,2-13,8-13,5-9,8-7,9-5,8-5,5-6,7-7,8-1,6-2,9 2,12 0,13-3,6-6,8-1,13-7,14-1,14-7,6-7,2-8,7-8,8-2,7 4,14 3,10 8,8 13,3 15,2 7,6 6,7 1,0 7,-4 13,-3 7,-3 10,-1 8,-5 6,-9 8,-3 9,-1 13,-9 7,0 12,0 0,-1 7,-7 15,-4 9,-12 7,-7 8,-4 9,-5 11,-5 0,-15 8,-11 0,-1-5,-12 0,-10z"/>
<path fill="#efa768" d="M5919,3805l-11,0-8,1-7,-5-10,-1-8,-12-1,0-12,-5-16,0-13,-4-6,-9-10,-10-6,-6-7,-13-4,10-4,8-6,6 0,1-3,6-2,12-4,12 2,8-2,12-7,1-8,9-4,11-3,9-7,9-1,10-6,7-11,5-5,8-7,2-1,0-10,9-12,3 11,6 7,14 8,6 7,4 7,14 12,9 1,0 9,5 6,2 8,7 3,12 12,-5 16,4 13,5 11,1 5,-12 5,-9 2,-8 2,-10 9,-8 7,0 9,-4 9,-12 5,-5 8,-6 1,0 3,-14 7,-9 7,-8 7,-3 1,-11 2,-8 3,-7 8,-6-7,-6-1,-8 0,-15z"/>
<path fill="#fce4ae" d="M5934,3524l0,1 0,8 0,9 7,9 2,13-5,10 0,1 8,8 4,6 2,9-4,6-1,11 2,10 3,9 6,8 8,8 6,11 0,8 0,9 5,11 6,12 11,5 12,8 12,4 7,3 8,-4 11,-2 13,-5 12,1 9,-2 7,1 14,6 8,-6 8,-5 7,-1 9,-4 8,-7 10,-2 4,-9 0,-6 10,-11 6,-8 3,-7 3,-10 8,-13 0,-15-3,-11-3,-13 0,-9-8,-13-13,-7-4,-14-3,-6-7,-10-6,-6-9,-11-13,1-8,-6-8,-2-14,1-15,-3-13,-3-9,1-13,1-15,3-13,-2-14,2-9,-8-8,-3-13,1-11,-12-7,-8 0,10-2,16-2,14z"/>
<path fill="#e6f1b6" d="M5938,3464l6,12 7,7 11,12 13,-1 7,3 10,8 14,-2 13,2 15,-3 13,-1 9,-1 13,4 15,2 14,-1 8,2 8,7 13,-2 8,11 7,7 7,-14 13,-7 6,-9 6,-6 5,-8 5,-8 4,-7 7,-9 4,-10 4,-6 3,-15 1,-12 10,-3 8,-7 3,-9 7,-10-11,-2-7,-7-6,-4-6,-6-4,-10-4,-11-3,-9-10,-9-4,-15-8,-8-5,-6-15,-6-6,-9-6,-6-1,-8 0,-9-10,8-6,5-5,7-8,3-9,4-6,2-11,11-1,13-5,8-13,4-8,10-10,3-10,8-13,1-11,6-1,0-8,6-6,10-11,11-9,7-15,-1-5,14-4,6-7,6-4,12 4,14-4,14z"/>
<path fill="#a0cf76" d="M6139,3213l1,10 1,7 2,11-1,9-3,15-1,9 2,8 6,7 6,9 15,5 5,6 8,8 4,15 10,9 2,9 5,11 4,10 6,6 6,4 7,7 11,2 12,0 7,3 10,1 7,0 1,0 9,-5 14,3 11,-3 12,7 12,0 8,-6 13,0 2,-10 5,-14 7,-10-1,-8 6,-3 8,-5 11,-11 6,-9-3,-8-8,-6-1,-11-6,-9-9,-8 0,-14-3,-11-4,-7 1,-10 1,-10 3,-12 5,-13 7,-12 2,-9-3,-11-4,-12-2,-13-7,-9-6,-5-10,-9-8,5-7,6-11,3-9,-1-12,7-8,5-14,-3-10,-2-8,3-11,3-8,13-5,4-10,6-7,6-13,3-12,9-13,0-5,10-6,6-11,5-12,2z"/>
<path fill="#f5be7e" d="M6182,3627l4,8 7,5 8,8 10,2 6,1 8,2 11,-4 10,2 5,4 1,0 14,-1 12,-1 8,-3 10,-5 15,2 11,3 5,-14 9,-11 12,-9 2,-7 4,-10 1,-15 4,-5 5,-8 1,0 0,-8 3,-11 7,-10 4,-9-1,-15 5,-10 3,-9 0,-12 4,-11 1,-13-7,-12 0,-11-4,-8-4,-7-8,-2-7,-8-2,-16-8,-9-13,0-8,5-12,1-12,-8-11,4-14,-4-10,6-7,0-10,-2-7,-2-12,0-7,9 0,1-3,9-8,7-10,3-1,12-3,15-5,6-3,10-7,9-4,7-5,8-5,7-6,7-6,9-14,7-6,13 0,1 7,9 3,6 4,14 13,8 8,12-1,9 4,13 3,11z"/>
<path fill="#efa768" d="M6131,3700l12,8 5,8 7,10 3,14 5,11 1,15-2,12-7,13-6,8 2,14 6,10 5,15 8,3 7,7 4,12 10,10 6,4 11,3 1,0 9,-1 8,5 8,3 13,5 11,1 11,5 12,-9 8,-7 9,-3 8,-2 14,4 12,-6 4,-10 1,-11 10,-10 5,-14 5,-14 10,-9 3,-9 0,-1-3,-11 2,-12 2,-9 7,-6 0,-1-4,-12 2,-12-5,-11-3,-7-1,-8-3,-8-6,-8-10,-6-4,-15-10,-6-5,-9-7,-3-11,-3-15,-2-10,5-8,3-12,1-14,1-6,-4-10,-2-1,0-10,4-8,-2-6,-1-10,-2-8,-8-7,-6-3,-7-1,0-7,13-3,10-3,7-6,8-10,11 0,6-4,9-10,2z"/>
<path fill="#e6f1b6" d="M6006,3714l-10,10-6,7-2,16-7,6-7,10-9,11-13,5-5,9-4,6-9,-1-7,4-9,8 3,9 0,15 0,1 2,7 7,6 10,6 11,0 14,3 7,6 3,7 11,8 9,6 6,13 10,3 5,5 8,-7 8,-1 6,-11 6,-5 11,-5 9,-4 11,-2 7,4 9,3 9,-7 8,-8 7,-1 8,-8 7,-3 11,-3 7,2 14,-6-5,-15-6,-10-1,-14 5,-8 7,-13 2,-12-1,-15-5,-11-3,-14-7,-10-4,-8-1,0-12,-8-9,4-7,0-8,6-8,6-14,-6-7,-1-9,2-12,-1-13,5-11,2-8,4-7,-3z"/>
<path fill="#c8e39c" d="M6016,3900l0,8 6,8 3,14-1,8 10,10 3,12 0,12 2,8-5,7-3,10-2,11 2,12 7,13 9,10 1,0 8,-5 10,-2 16,0 15,-1 14,6 10,11 13,2 10,-3 9,2 8,-8 3,-12-3,-13 2,-12 3,-7-2,-9 5,-10 5,-9-2,-9 0,-11 3,-7 6,-8 7,-8 9,-4 5,-7 7,-6 7,-6 4,-15 6,-11-8,-5-9,1-12,-3-6,-4-10,-10-4,-13-7,-6-8,-3-14,6-7,-2-1,0-11,3-6,3-8,8-7,1-1,0-7,7-9,8-9,-4-7,-3-11,2-9,4-11,5-7,5-5,11-9,1z"/>
<path fill="#fdf9c4" d="M5930,3843l-8,6-3,7-2,8-1,11-7,3-7,8-7,9-4,14-8,5-6,6-9,12-8,4-7,-1-1,0-8,9-2,10-2,7-5,10-5,12 4,11-2,12-1,11 1,9 0,1 13,9 3,9 4,7 4,5 8,6 12,7 7,11 12,6 8,0 9,6 1,0 10,-4 10,1 7,1 9,-4 9,-5 8,-2 13,-5 11,-2 12,-6 11,0 14,-6 11,-7 10,-11-9,-10-7,-13-3,-12 2,-11 3,-10 5,-7-1,-8-1,-12-3,-12-10,-10 1,-8-2,-14-7,-8 0,-8-5,-5-10,-3-6,-13-9,-6-10,-8-3,-7-8,-6-14,-3-11,0z"/>
<path fill="#efa768" d="M5778,3978l-9,5-13,3-8,11-7,6-6,7-1,9-10,7-4,9-3,7-3,9-4,9-6,5-2,11-6,9-9,7-5,6 11,4 12,11 14,-3 16,1 9,2 10,0 7,6 9,9 10,3 9,6 7,6 9,1 6,4 7,8 1,0 14,3 5,-11 7,-8 11,-5 11,-5 5,-11 9,-5 3,-15 4,-7 7,-5 0,-1-12,-5-7,-11-12,-7-7,-6-5,-5-4,-7-3,-9-13,-10-1,-9 2,-11 1,-12-4,-11-11,-2-13,-4-16,-4z"/>
<path fill="#c8e39c" d="M6386,3926l-10,-6-13,-1-8,-6-10,-11-6,-14-4,-8-3,-8-12,5-14,-3-8,2-9,3-8,7-12,8-11,-4-11,-1-12,-5-9,-3-6,11-4,15-7,6-8,5-4,8-9,4-7,8-6,8-3,7 0,11 2,9-5,9-5,10 2,9-3,7-2,12 3,13-3,12-8,8 6,10 8,1 6,7 6,7 10,11 8,2 8,5 11,7 13,2 13,2 11,-6 6,-5 6,-1 10,0 11,-2 12,-2 16,-3 10,1 7,-5 10,-7 14,-6 10,-2 10,-10 7,-13 6,-11 5,-12 3,-8 1,-9-3,-13 2,-10-9,-12 0,-15-1,-11-1,-10z"/>
<path fill="#a0cf76" d="M5933,4090l0,10-2,11 5,10 0,9-2,8-1,13 2,10 0,9 1,10 7,10 6,11 0,12 5,11 5,10 6,7 7,9 3,7 6,13 10,3 7,6 10,6 11,4 14,4 9,-4 12,-8 7,-6 9,-2-3,-10-6,-5-3,-15-4,-9-2,-15-8,-12-9,-12-6,-11-3,-12-6,-6 4,-12 0,-14-4,-13-6,-5-3,-9 6,-9-1,-16 3,-10 2,-6 6,-11-14,6-11,0-12,6-11,2-13,5-8,2-9,5-9,4z"/>
<path fill="#a0cf76" d="M6137,4267l11,-5 12,-7 5,-8 5,-9 3,-8-3,-12 3,-12 4,-7 6,-8 2,-10 1,-11 4,-8 2,-7 3,-10-2,-8 2,-13-5,-11 0,-11-1,-13-10,-11-5,-7-7,-7-8,-1-6,-10-9,-2-10,3-12,-2-10,-12-15,-5-15,1-16,0-10,1-9,6-9,11-11,7-6,11-2,6-3,10 0,16-5,9 3,9 6,5 3,13 1,14-5,12 6,6 4,12 5,11 10,12 8,12 2,15 3,9 4,15 5,5 3,10 1,0 13,-4 10,2 10,-2 9,4 8,-2 7,-5z"/>
<path fill="#a0cf76" d="M6307,4258l2,-16 0,-14-1,-9 7,-12 0,-9-1,-13 0,-11-7,-12-4,-10 2,-11 4,-8 4,-6 7,-12 0,-1-2,-12 6,-13-10,-1-16,3-12,2-11,2-10,0-6,1-7,5-10,6-13,-2-13,-2-11,-7-8,-5-8,-2 1,13-1,11 6,11-2,13 2,8-3,10-2,7-5,8-1,11-1,10-7,8-3,7-3,12 2,12-2,8 8,2 8,2 5,3 8,6 11,8 11,-1 12,-1 9,-2 13,9 15,-2 12,0 9,-5z"/>
<path fill="#e6f1b6" d="M5342,4155l-7,-5-1,-10-8,-6-3,-7-6,-13-13,-9-6,-6-6,-8-7,-3-6,-8-10,-1-14,3-14,1-11,-2-9,-4-8,4-4,8-15,5-10,6-11,4-1,15-6,9-1,10-7,13-6,8-5,10 1,9-5,8 3,7 0,10-2,10-1,6-5,10-6,12 12,8 14,5 11,9 15,4 11,3 8,2 6,6 8,3 3,16 8,7 7,0 9,4 9,4 8,7 5,4 8,7 5,8 4,9 5,-9 1,-12 7,-10 11,-5 11,-10 6,-6 3,-9 7,-8 14,-5 8,-2 8,-5 9,-13 13,-7 10,-1 8,-9 8,-9-3,-10-4,-14-10,-8-10,-1-7,-12-10,-3-11,-11-10,-6z"/>
<path fill="#efa768" d="M5636,4113l-5,8 0,10 5,12-8,12 0,15 6,6 8,10 15,6 7,10 4,13-4,8 0,1 3,9 7,5 3,10 2,11 14,1 9,-3 15,3 6,-10 14,-6 15,1 8,-2 11,-3 10,-6 8,-1 14,-2 9,7 12,1-1,-9 4,-12 7,-8 1,-7 4,-11 1,-14-5,-9-2,-11-14,-2-8,-8-6,-5-9,0-7,-6-9,-6-10,-3-9,-9-7,-6-10,0-9,-2-16,-2-14,3-12,-10-11,-4-9,7-12,1-12,0-1,0z"/>
<path fill="#f5be7e" d="M6748,3284l-4,-14 5,-14 0,-8-5,-11-3,-12-11,-10-4,-6-7,-7-4,-5-3,-10-2,-15-3,-1-10,11-12,4-14,5-11,6-11,0-13,-5-7,-1-10,2-11,7-12,4-14,4-6,4-11,6-5,10 1,11-6,11-2,10-5,8-4,15 2,8-2,13 5,6 3,9 12,10 3,10 3,5 7,5 7,6 6,6 11,5 2,9 6,9 5,6 7,6 1,0 8,3 10,1 12,-6 14,-7 8,-8 8,-6 7,-8 11,-4-1,-10 2,-7 8,-13 0,-11 5,-11 9,-3 10,-8 11,-6z"/>
<path fill="#e6f1b6" d="M6544,3304l-13,3-11,4-13,2-8,-3-7,-4-10,-6-7,-1-11,2-9,-1-7,4-8,1-7,5-8,6-11,6-8,-2-11,0-6,9-11,10-8,6-6,3 0,8-6,10-6,14-1,10 8,9 2,16 7,8 8,2 4,7 4,8-1,11 8,12 11,6 7,-1 9,4 6,7 11,4 10,1 9,5 10,-4 6,-5 12,0 7,8 6,5 3,12 10,6 8,1 14,-1 11,0 9,5 8,-12 5,-10 8,-1 9,-1 8,-9 9,-6 4,-8 7,-12 7,-5 7,-5 10,-4 9,-8-4,-13 4,-13-1,-9-10,-2-8,-2-7,-6-6,-6-6,-9-2,-9-11,-5-6,-6-7,-6-7,-5-3,-5-3,-10-11,-10-4,-9z"/>
<path fill="#e6553a" d="M6943,3173l0,-11-2,-7-6,-7-8,-3-4,-9-6,-7-8,-5-4,-11-1,0-8,-8-13,-9-10,-5-15,-2-9,-4-6,-7 0,-1-8,2 0,1-8,9-11,4-6,7-9,6-11,2-10,2-9,2-13,0 0,9-2,8-6,10-7,7-6,2 0,1-7,4-9,9-11,10 2,15 3,10 3,5 8,7 4,6 11,10 3,12 5,11-1,8-5,14 4,14 10,-1 11,3 12,4 10,0 10,-1 8,2 11,-1 8,5 8,7 1,0 9,-9 4,-9 10,-9 9,-7 8,-7 2,-12 5,-4 4,-10 8,-4 8,-4 10,-6 9,-6 6,-9 5,-11 1,-11z"/>
<path fill="#e62e27" d="M6956,3176l0,9 5,7 3,7 3,8 7,13 6,7 6,10 10,1 15,6 9,5 5,5 5,13 10,4 13,3 7,7 9,9 10,0 8,1 9,11 10,6 10,-2 16,-1 2,-12 7,-6 12,-7 5,-7 8,-12 6,-9 3,-12 11,-8 4,-10 4,-16 3,-10 4,-7 7,-6 8,-2 6,-7 0,-10-4,-10 5,-10 3,-7 1,-10-1,-7 5,-15-3,-7-4,-11-16,-1-10,-6-6,-5-13,-9-8,-9-14,-4-6,-8-13,0-10,4-11,0-8,5-7,11-13,1-8,8-4,12-11,10-5,6-3,10-1,11-12,-1-8,4-8,5-6,6-13,4-16,0-7,13-9,4-6,4-7,7z"/>
<path fill="#de7b52" d="M6747,3284l-3,8-11,6-10,8-9,3-5,11-1,11-8,13-2,7 2,10-11,4-7,8-9,6-7,7-14,8-12,6 1,9-5,13 5,13 3,8 0,1 5,5 9,7 11,-1 8,5 12,5 16,3 10,1 6,11 4,7 5,7 10,4 7,-4 5,-9 12,-10 12,-5 14,-4 10,-5 11,0 10,4 9,9 11,-3 9,2 10,3 7,-4 10,-4 9,0 8,-3 6,-12-1,-9-3,-8 2,-13 0,-9-1,-14-3,-11 1,-9-6,-8-3,-7-5,-11-5,-7-12,-4-11,-7-3,-9-6,-5-5,-7-3,-13-9,-7-8,-6-11,2-8,-2-10,1-10,0-12,-4-11,-3z"/>
<path fill="#e6553a" d="M6943,3173l-9,11-1,11-6,11-5,9-9,6-10,5-8,5-8,4-1,0-3,10-5,4-2,12-8,7-9,7-11,9-3,9-10,9 3,13 6,7 6,5 3,9 11,7 12,4 5,7 5,11 3,8 6,7-1,9 2,11 2,14 7,-6 8,-8 7,-8 5,-6 10,-2 14,-5 1,0 8,-10 5,-4 8,-5 9,0 10,-6 6,-7 3,-6 9,-2 14,0 5,-8 7,-5 10,-7 8,-8 8,-8 9,-13 0,-1-9,-8-7,-7-13,-4-10,-3-4,-13-6,-5-9,-6-15,-5-10,-1-6,-10-6,-7-6,-13-4,-8-3,-8-5,-7 0,-8z"/>
<path fill="#e6553a" d="M7231,3105l-5,15 1,7-2,10-2,7-5,9 0,1 3,10 1,9-6,8-8,2-8,6-3,7-3,10-4,16-5,10-10,8-3,12-6,9-8,12-6,7-11,6-7,7-1,0-1,12 10,8 5,9-1,8 11,9 11,4 15,0 13,4 10,-7 8,-1 13,1 11,-3 12,-1 15,-7 13,-7 0,-8 8,-9 10,-1 15,3 9,1 9,0 15,-2 10,7 10,5 15,-1 12,-7 9,7 11,7 8,1 9,4 14,1 6,-11 4,-11 9,-6 8,-9 1,-11 7,-10-4,-8-1,-9-1,-9-1,-10-3,-12-5,-15-10,1-8,-4-9,-4-8,-2-12,-1-11,-7-1,0-8,-1-9,-1-11,-6-6,-8-10,0-10,0-13,-5-11,0-7,-6-7,-9-9,-12-15,-5-12,-4-5,-8-9,-2-6,-4-13,-5z"/>
<path fill="#e6553a" d="M7442,3330l-14,-1-9,-4-8,-2-11,-6-9,-7-12,6-15,1-10,-5-10,-6-15,2-9,0-9,-2-15,-3-10,2-8,9 0,7-13,8-15,7-12,1-11,3-13,-1-8,0 0,1-10,6-13,-4-15,1-11,-5-11,-8 0,4 1,10 4,9 5,13 6,9 1,0 6,4 2,16 7,7 3,13 4,6 2,11 8,11 3,13 8,8 10,11 9,3 12,-1 15,-2 5,6 9,2 9,9 13,5 12,0 7,4 6,-4 11,2 7,-7 12,-6 11,2 9,0 7,-4 10,-2 11,-7 10,-6 10,-7 8,-8 7,-6-2,-10 6,-11 12,-11 1,-14 2,-10-3,-7 3,-11 3,-12-4,-8 1,-12z"/>
<path fill="#fce4ae" d="M7770,3362l13,1 8,-10 7,-6 9,-2 6,-7 6,-7 8,-8 3,-12 2,-15 0,-11-5,-9 0,-10-4,-11 4,-9 4,-7 0,-11 4,-13-7,-8-3,-8 0,-16-1,-9-5,-7-10,-10-11,-4-11,-1-12,7-15,3-8,8-6,5-11,3-11,-2-14,4-8,12-6,9-9,7-9,6-8,3-14,2-13,1-16,0-7,-2-10,5-5,6-11,5-15,-2-10,2-10,-1-9,4-14,-1-6,-3-8,-6-9,-4-10,-1-15,6-11,1-10,-6 0,1 3,12 1,10 1,9 1,9 4,8-8,10 0,11-8,9-9,6-5,11-5,11 3,12-1,13 3,7 10,6 8,12 12,0 15,3 8,-1 8,3 15,0 5,9 15,6 15,-1 10,0 9,7 7,3 9,8 7,4 6,9 6,7 7,4 7,6 7,10 4,10 7,5 7,8 11,2 9,-13 7,-8 12,-6 5,-11 12,-6 6,-9 1,-8 6,-10-1,-7 10,-8 4,-8 10,-3 8,-9 11,-9z"/>
<path fill="#de7b52" d="M7528,3039l2,12 0,9 1,7-5,14-3,7-6,10-5,3-9,6-5,9-8,12 0,12-5,8-9,10-3,8-2,8 1,12-8,9-2,14 0,1 5,14 10,5 11,-1 15,-6 10,1 9,4 8,6 6,3 14,2 0,-1 9,-4 10,1 10,-2 15,3 0,-1 11,-4 5,-7 10,-5 7,2 16,0 13,0 14,-2 8,-4 9,-6 9,-7 6,-9 8,-11 14,-5 11,2 11,-3 7,-4 7,-9 15,-3 12,-7 11,1 0,-5 2,-14 0,-12 4,-8-7,-13-2,-14-4,-12-8,-8-7,-10-1,-8-8,-10-7,1-10,1-12,-1-13,0-6,-3-9,-6-9,0-9,0-9,-7-12,-7-8,-4-6,-3-16,-2-10,-3-15,1-10,0-13,5-12,4-8,4-12,9-8,5-10,4z"/>
<path fill="#de7b52" d="M7483,3618l6,-6 8,-3 11,-6 15,-2 8,-11 10,-11 7,-3 9,-4 5,-8 7,-7 12,1 14,-6 7,-8 11,-11 15,0 8,7 8,1 10,1 12,-3 5,-9-1,-8-3,-7 0,-11-5,-13 0,-9 0,-1-11,-2-6,-7-8,-5-4,-10-6,-10-8,-6-7,-4-6,-8-6,-8-7,-4-9,-8-7,-3-9,-7-10,0-15,1-15,-6-5,-9-15,0-8,-3-8,1-15,-3-12,-1-8,-11-9,-6-1,0-3,12-2,11 2,7-1,10-1,0 0,14-12,11-6,11 2,10-7,6-8,8-11,7-9,5 0,1 0,9-6,10 1,9 1,10 5,12 7,12 2,11 0,9 1,0 12,6 4,7 4,9 9,10 3,13 5,7 7,5 11,2 15,1z"/>
<path fill="#e62e27" d="M7483,3618l0,-1-11,-1-15,0-11,-3-7,-4-5,-7-3,-13-9,-11-3,-8-5,-7-12,-7-1,0-5,7-8,7-7,3-10,0-8,12-4,7-9,6-10,9-5,14-9,10-2,10-13,4-8,3-8,4-6,7-8,9 13,8 6,9 5,8 2,6 9,2 7,7 7,9 8,6 5,9 9,11 4,8-1,14-1,12 2,8 6,13 6,1 10,2 13,-3 11,-4 10,-2 13,-3 6,-7 9,-6 3,-8 11,-7 10,-2 13,0 0,-1 9,-11 4,-6 6,-10-1,-9-4,-11 1,-11-1,-16-1,-12 1,-9 0,-9-4,-10-4,-15z"/>
<path fill="#e6553a" d="M7483,3617l0,1 0,11 4,15 3,10 0,9 0,9 1,12 1,16-1,11 4,11 0,9 1,0 11,4 4,7 8,6 11,8 10,6 9,7 13,2 13,5 9,11 12,4 6,8 7,3 12,1 9,2 6,-8 7,-5 14,-6 10,-11 5,-5 6,-7-2,-13-1,-9 6,-12 7,-12 5,-6 7,-9 0,-10 1,-11 0,-11 3,-7-4,-12 6,-8 3,-15 3,-11 1,-10-4,-11-11,-10-5,-10-6,-9-8,-8-3,-11-10,-9-12,2-10,0-8,-1-7,-7-1,0-15,0-11,11-7,8-14,6-12,-1-7,7-5,8-9,4-7,3-10,11-8,11-15,1-1,0-10,7-8,3z"/>
<path fill="#e6553a" d="M7659,3873l-1,0-3,-10-2,-12 0,-1-8,-6-9,-11-1,-11-3,-10-2,-7-8,-2-1,0-12,-1-7,-3-6,-9-11,-3-10,-11-12,-5-14,-2-9,-7-10,-6-11,-8-8,-6-4,-7-11,-4-1,0-5,10-4,6-9,11-13,1-10,1-11,8-3,7-9,7-6,7-13,3-10,2-11,4-13,3-10,-2-6,-1-4,12 5,15-7,10-6,10 1,15 3,10 7,10 9,5 5,9 1,13 3,11 6,8 13,7 6,6 8,5 6,6 3,8 0,1 8,0 12,-5 14,3 9,2 7,6 9,4 6,12 12,7 11,0 12,4 2,-5-1,-12 5,-6 3,-9 11,-5 4,-7 7,-3 8,-6 9,-3 10,-4 5,-10 5,-4 4,-7 4,-9 2,-7 11,-6 9,0 7,2 8,-5 7,-1 9,-6 9,2z"/>
<path fill="#7aba5c" d="M7132,3304l-16,2-10,2-10,-6-9,-11-8,-1-10,-1-9,14-8,8-8,8-10,6-8,6-4,8-14,0-9,2-3,6-6,7-10,6-9,0-8,5-5,4-9,10-14,4-10,3-5,6-7,8-8,8-7,6-1,9-1,13 3,8 0,9-5,12 11,7 9,2 5,7 10,6 6,6 7,14 7,6 5,11 2,14 7,-2 10,0 8,7 15,6 5,-7 1,0 2,-9-2,-8 2,-8 7,-7 2,-8 8,-3 5,-7 8,-13 8,-8 0,-1 2,-7 13,1 14,-7 0,-1 5,-10 7,-4 11,-8 0,-1 7,-8 4,-7 3,-9 5,-10 11,-9 6,-11 6,-7 1,-7 0,-16 3,-9 6,-6 0,-4 1,-8-5,-9z"/>
<path fill="#e62e27" d="M6996,3549l8,11 10,5-1,9 1,0 4,12 12,2 9,0 8,10 8,5 11,-8 14,-1 13,-1 5,6 10,3 14,4 15,-3 11,7 6,8 2,-16 6,-8 9,-10 8,-6 6,-11 6,-7 4,-8 5,-10 12,-11 6,-13 2,-12-1,-8 1,-10-3,-13 0,-1-11,-10-8,-8-3,-13-8,-11-2,-11-4,-6-3,-13-7,-7-2,-16-6,-4-7,-9-5,-13-3,-9-2,-10-6,5-4,10 1,16-1,6-6,8-6,11-11,8-5,11-3,8-4,8-7,8-11,9-8,4-4,10-14,8-13,-2 0,1-3,7-7,9-8,12-5,8-8,2-2,9-7,7-2,8 1,8-2,9z"/>
<path fill="#f5be7e" d="M7402,3557l-1,-9-2,-11 0,-1-7,-12-5,-11 0,-10-2,-9 6,-10 0,-9 0,-1-11,8-10,2-7,4-9,0-11,-2-12,6-7,7-11,-2-6,4-7,-5-12,0-13,-4-8,-9-10,-3-5,-5-15,1-12,2-8,-4-1,0 0,1 4,13-1,10 0,8-1,12-7,13-11,11-5,10-4,7-6,8-7,10-8,6-8,11-6,8-2,16 6,7 7,8 13,9 6,10 11,0 8,4 6,-3 11,1 12,1 10,8 9,0 8,3 9,0 11,2 8,-9 6,-7 8,-4 8,-3 13,-4 2,-10 9,-10 5,-13 10,-10 9,-6 4,-7 8,-12 10,0 7,-3 8,-6z"/>
<path fill="#fce4ae" d="M6550,3680l10,9 13,-1 7,-5 12,-1 8,-1 13,-2 11,-3 11,1 0,-1 6,-7 8,-5 7,-2 10,-1 9,-7 7,-1 12,-2 9,1 8,-6 13,-3 6,3 10,-2 1,-12 7,-7 1,-11-5,-9 4,-9 2,-14-1,-6 1,-10-7,-10 2,-13 6,-14-4,-15-6,-7-1,-9 0,-1-10,-3-5,-8-4,-6-6,-11-10,-2-16,-2-12,-5-7,-5-12,0-9,-6-5,-6-3,-8-9,8-10,4-7,5-8,4-6,13-4,8-9,6-8,8-9,1-8,2-5,10-8,12-2,14 4,8 3,11 6,7 2,12 3,6 6,8-2,12-4,9-2,6-5,11 2,7 0,10-4,13-5,8-2,11z"/>
<path fill="#e62e27" d="M6894,3465l-8,3-9,0-10,4-7,3-10,-2-9,-2-11,3-8,-9-11,-4-11,0-10,5-14,4-12,5-12,10-5,9-7,3 0,1 1,9 6,7 4,15-6,14-2,13 7,10-1,10 0,6-1,14-4,9 4,9-1,11-6,7-2,12 12,8 12,1 5,8 8,6 10,11 8,7 11,8 8,5 5,6 8,-2 9,-5 9,-12 13,-4 6,-12 4,-9 5,-9 4,-7 5,-8 6,-3 9,-8 6,-5 9,-5 16,-2 1,-7 3,-12 5,-8 2,-7 5,-11-1,-12 8,-8 6,-10-2,-14-5,-11-7,-6-7,-14-6,-6-10,-6-5,-7-9,-2z"/>
<path fill="#66b054" d="M6949,3791l15,-4 5,-5 10,-3 8,-9 2,-8 7,-6 4,-9 3,-10-1,-11 4,-7 5,-5 3,-10 3,-6 4,-8 7,-8 5,-7 5,-15 9,-10 3,-11 8,-12-5,-10 2,-14-8,-5-7,-10-1,0-9,0-12,-2-4,-12 0,-9-10,-5-8,-11-15,-6-7,-7-11,0-7,2-6,9-8,9 1,12-5,11-2,7-5,8-3,12-1,7-16,1-9,6-6,5-9,7-6,3-5,9-4,7-5,9-5,9-5,12-13,4-9,11-9,6-8,2 5,9 5,8-2,16 8,0 9,0 14,2 10,0 12,9 11,5 9,8 12,4 9,6 14,5 10,8z"/>
<path fill="#de7b52" d="M6826,3737l2,-16-5,-9-5,-8-5,-7-8,-4-11,-8-8,-7-10,-11-8,-6-5,-8-12,-1-11,-8-10,2-6,-3-13,3-8,6-9,-1-12,2-7,1-9,7-10,1-7,2-8,4 0,1-6,7-11,0-11,3-13,2-8,1-12,0-7,6-13,1-1,14-5,8-1,9 3,14 1,15 10,7 6,9 1,10 10,12 6,8 5,4 10,10 11,4 8,-1 8,6 1,0 11,-1 9,0 16,3 12,2 9,2 9,3 5,5 11,-1 7,5 13,0 9,11 2,-16 5,-10 1,-8 7,-10 10,-4 8,-13 4,-5 5,-8 11,-9 11,0 8,-7 3,-9z"/>
<path fill="#de7b52" d="M6979,3779l10,2 9,-3 15,-3 11,4 9,1 8,3 10,3 9,10 14,6 8,7 7,11 9,8 14,4 9,8 10,-2 9,-1 0,-1-2,-7 0,-12 7,-9 0,-1 3,-10 3,-11-3,-8 9,-9 5,-14 5,-15-3,-10-3,-9-4,-9 5,-11-1,-8 6,-10 6,-8 9,-7 0,-10 4,-6-6,-11-13,-8-7,-9-6,-6-6,-8-11,-7-15,3-14,-5-10,-2-5,-6-13,1-14,1-11,8-3,14 6,10-8,12-3,11-9,10-6,15-4,7-8,7-3,8-3,7-3,10-5,4-4,7 0,12-3,10-3,9-7,6-2,8z"/>
<path fill="#e62e27" d="M7208,3885l8,-10 10,-6 9,0 7,-1 11,2 12,-3 9,1 10,-3 7,-5 5,-6 14,-2 12,-4 15,1 13,-4 6,-9 7,-11-5,-15 4,-12-5,-13-3,-8 1,-12 2,-14-5,-9-9,-11-5,-8-8,-6-7,-9-7,-7-9,-2-2,-6-5,-8-6,-9-13,-8-11,-2-9,-1-8,-2-9,0-10,-8-12,-1-11,-1-6,3-8,-4-11,0-4,6-1,10-8,7-6,8-6,10-1,0 1,8-4,11 4,9 2,9 4,10-5,15-5,14-9,9 3,8-3,11-3,10-7,10-1,12 3,7 12,10 10,2 11,4 9,8 5,4 7,9 6,7z"/>
<path fill="#b1b5cb" d="M6710,4029l4,-6 3,-10 5,-7 11,-5 8,-4 8,-8 8,-3 12,1-10,-10-3,-7 0,-12-2,-9-4,-14 3,-11-2,-9 0,-1-6,-6-4,-7-3,-8-1,-8-4,-8 0,-11 7,-8 4,-11-9,-11-13,-1-6,-4-12,1-5,-5-9,-3-9,-2-12,-2-16,-3-9,0-11,1-9,-6-8,0-11,-3-10,-10-5,-5-6,-7-7,9-3,8-3,7 7,6 7,11 10,11 12,4 8,10 2,14 6,10-2,9 6,13 0,12 4,7 7,13 14,7 8,7 1,10 0,1 9,12 8,8 4,8 0,8 3,8-4,12 0,9-2,8 1,0 14,-4 10,3z"/>
<path fill="#b1b5cb" d="M6935,3902l6,-9 8,-11 3,-11 0,-11 3,-11-3,-8 2,-10 3,-10-4,-12-2,-11-2,-7-5,-7-10,-8-14,-5-9,-7-12,-3-9,-9-11,-4-12,-9-10,0-14,-2-9,0-8,0-7,11-3,9-8,7-11,0-11,9-6,8-3,5-8,13-10,4-7,10-2,8-4,10-2,16-4,11-7,8 0,11 3,8 1,8 4,8 4,7 6,7 2,9-3,11 4,14 2,9 0,12 3,7 10,10 13,3 8,1 11,-9 11,-4 7,1 8,-4 11,-6 8,-4 11,-10 8,0 8,-2 13,-4 4,-8 11,-7 5,-14 10,-3 7,-2 6,-5z"/>
<path fill="#e62e27" d="M7029,3971l1,0 2,-10 8,-12 6,-14 0,-10 5,-6 6,-6 5,-12 8,-11 8,-6 9,-3 8,-6 7,-1 5,-4 8,-7 4,-10 2,-13-9,-8-14,-4-9,-8-7,-11-8,-7-14,-6-9,-11-10,-2-8,-3-9,-1-11,-4-15,2-9,4-10,-2-10,3-5,5-15,4 2,7 2,11 3,12-3,10-1,10 3,8-3,11 0,11-3,11-8,11-6,9 6,7 11,2 8,6 6,2 7,8 6,8 15,4 7,8 14,4 6,12z"/>
<path fill="#e6f1b6" d="M7036,3999l-3,-6-2,-11-1,-11-9,-8-6,-13-14,-3-7,-8-15,-4-6,-8-7,-8-6,-2-8,-6-11,-2-6,-7-7,8-5,5-7,2-10,3-5,14-12,6-3,9-13,4-8,2-8,0-11,10-8,4-11,6-8,4-7,-1-11,4-11,9 4,13 4,11 8,6 7,5 13,0 9,10 9,6 8,6 7,2 9,3 6,5 8,6 9,11 5,8 13,-1 11,-7 10,-8 6,-6 12,-5 10,-2 9,2 12,-4 7,-5 12,-3 12,-10 5,-8 4,-11 8,-9z"/>
<path fill="#b1b5cb" d="M7036,3999l-9,7-9,9-3,11-6,8-11,10-12,3-1,0-6,5-12,3-9,-2-10,2-12,6-6,6-11,8-10,6-13,2 6,7 10,9-2,12 0,1 6,11-4,8 2,10 1,14 7,3 7,5 10,10 14,2 8,6 14,-3 12,1 7,5 6,5 11,1 12,-2 8,-2 11,-4 8,0 7,2 9,0 9,-5 9,-2 5,-7-3,-10-7,-12 4,-14-2,-9-5,-9-4,-11-4,-7 4,-12 2,-15 5,-7 3,-10 7,-9-13,-4-8,-6-7,-10-4,-6-8,-5-9,-7z"/>
<path fill="#c8e39c" d="M7040,4007l9,7 8,5 4,6 7,10 0,1 8,5 13,4 11,-5 12,-2 9,-12 9,-4 9,-2 9,-4 10,-2 10,-6 9,-2 13,-3 12,-6 6,-10 2,-8 1,-8 4,-10 0,-11 3,-14 0,-11 3,-14-4,-11-2,-9-7,-6-8,-5-6,-8-6,-8-6,-5-9,-7-11,-4-10,-2-12,-10-9,2-10,2-2,13-5,10-7,7-5,4-7,1-8,6-9,3-8,6-8,11-5,12-6,6-5,6 0,10-6,14-8,12-3,10 2,11 1,11 4,6z"/>
<path fill="#fce4ae" d="M7289,4071l10,-7 10,-1 11,-11 6,-13 5,-11 0,-8 6,-11 4,-12 13,-4 15,-5 8,-11 8,-6 7,-9 10,-3 11,1 8,-1 0,-1-3,-8 0,-1-6,-5-8,-5-6,-6-13,-7-6,-9-3,-10-1,-13-5,-9-9,-5-7,-10-2,-10-2,-15-13,4-15,-1-12,4-14,2-5,6-7,5-10,3-9,-1-12,3-11,-3-7,2-9,0-10,6-8,10 7,6 2,9 4,11-3,14 0,11-4,14 1,11-4,10-1,8-2,8-7,9 0,1 9,1 11,-1 7,6 6,4 2,6 8,9 9,10 4,9 8,10 3,5 7,8z"/>
<path fill="#7aba5c" d="M7289,4070l-7,13-3,9-2,12 3,9 2,10 1,9 6,7 7,9 6,13 5,8 5,9 5,13 12,8 6,9 4,8 7,-12 7,-7 10,-3 8,-9 8,-9 9,-8 14,-4 6,-6 3,-8 7,-7 4,-6 8,-10 10,-11 12,1 12,-6 10,-7 7,-11 10,-11 12,-4-1,-6-5,-10-7,-3 6,-5 6,-8 2,-10 2,-7 3,-11 4,-8 5,-13 3,-5-12,-4-11,0-11,-7-7,-12 0,-1-8,-4-8,-5-9,-2-14,-3-12,5-8,-1-8,2-11,-1-10,2-7,9-8,7-8,11-15,5-13,4-4,12-6,11 0,8-5,11-7,13-10,11-10,1z"/>
<path fill="#de7b52" d="M7089,4170l11,4 10,-1 15,-2 7,2 9,-2 10,-4 7,-10 8,-4 8,-2 9,-1 10,-4 8,2 12,-3 13,-2 8,1 9,5 1,0 15,-3 14,2 9,-3 7,-6-6,-8-1,-8-2,-10-3,-9 2,-12 3,-9 7,-12 0,-1-14,-6-6,-8-4,-5-8,-10-4,-9-9,-10-8,-9-2,-6-6,-4-7,-6-11,0-8,-1-1,0-11,7-13,2-9,3-10,6-10,2-10,3-8,3-9,4-10,12-11,2-11,5-8,9-2,10-5,7-2,15-4,12 4,7 4,11 5,9 2,9-4,14 7,12z"/>
<path fill="#e0663f" d="M6891,4075l-9,-11-8,-6-6,-6-9,-2-7,-2-8,-6-9,-6-9,-11-13,1-7,-5-8,-6-4,-11-4,-13-8,-1-13,-3-12,-1-8,3-8,8-8,4-11,5-5,7-3,10-4,6 1,8-3,11-4,8-3,7-5,15-8,6 3,7 4,10 3,8 1,12-3,8-1,11-1,9 0,10 7,9 1,7 3,9 11,11 5,13 5,13-3,12 6,8 7,8 9,3 10,6 13,8 3,11 10,10 6,-9 3,-6 14,-6 9,-4 9,0 8,-1 9,2 13,-3 11,-9 2,-14-1,-15 4,-10 7,-5 7,-5 7,-6 5,-13 6,-6 7,-7 4,-9 4,-6 0,-14-3,-10 4,-8-6,-12 2,-12-10,-9-6,-7z"/>
<path fill="#4fa34a" d="M6710,4029l-6,-1-10,-3-14,4-14,-1-13,6-9,1-7,2-10,1-7,1-9,3-8,9-8,-2-10,5 0,1-6,9-11,7 0,14-5,8-11,11-6,9-8,7-7,13-8,4-7,6-7,9-6,4 0,13 0,9 7,11-2,13 9,1 11,8 12,8 3,12 11,9 1,0 9,4 6,5 15,-3 11,-3 9,-6 8,1 6,4 9,3 14,4 13,5 7,1 9,5 14,6 14,3 10,-5 12,-10 15,-5-6,-8-7,-8 3,-12-5,-13-5,-14-10,-10-4,-9-1,-7-7,-9 0,-10 1,-9 1,-11 3,-8 0,-12-4,-8-4,-10-3,-7 8,-6 5,-15 4,-7 3,-8 3,-11z"/>
<path fill="#4fa34a" d="M6503,4156l6,-4 1,0 6,-9 7,-6 9,-4 6,-12 8,-8 6,-8 11,-12 5,-8 0,-13 11,-7 6,-10 10,-5 8,1 8,-9 9,-3-13,-4-8,-3-7,-3-6,-11-5,-9 0,-10-8,-13-11,-10-9,-11-11,-11-10,-6-8,-6-6,-10-3,-10-11,-11-9,-1-7,-3-8,5-9,5-8,-1-11,5-12,-3-13,2-9,5-9,0-1,0-5,5-9,-3-8,-1-1,9 1,10 1,11 0,15 9,12-2,10 3,13-1,9-3,8-5,11-6,12-7,13 9,11 3,12 2,7 1,0 10,3 10,6 13,8 11,3 14,8 1,9 6,6 3,6 9,6 16,3 6,5z"/>
<path fill="#b1b5cb" d="M6680,4029l1,-8 0,-9 4,-12-3,-8 0,-8-4,-8-8,-8-9,-13-1,-10-8,-7-14,-7-6,-14-5,-6 0,-12-6,-13 2,-9-6,-10-1,-14-9,-10-12,-5-10,-10-7,-11-7,-6-7,8-6,3-5,9-13,6-10,10 0,1-3,14-10,9-3,10-7,6-9,4-3,10-7,6 0,1 6,2 10,1 11,11 3,10 6,10 8,6 10,6 11,12 9,10 11,11 8,12 0,10 5,9 5,11 1,0 7,3 8,3 13,4 7,-1 10,-1 7,-2 9,-1 13,-6z"/>
<path fill="#efa768" d="M6386,3926l8,1 9,3 6,-5 9,0 9,-4 13,-3 12,3 1,0 10,-5 8,1 9,-5 8,-4 7,-6 0,-1 3,-10 9,-4 7,-5 3,-11 10,-9 3,-14 10,-11 13,-6 6,-9 5,-3 7,-8 3,-7 4,-7 6,-10-10,-12 0,-11-6,-8-11,-7-1,-15-3,-14 1,-9 5,-8 1,-14-10,-9-11,6-12,0-10,0-11,2-11,-1-12,-6-13,1-13,5-10,8-7,5-9,5-11,-3-14,5-8,-5-8,-2-10,1-9,0-7,-4 2,8 2,8 2,8 5,10-1,12 4,12-7,7-2,9-2,12 3,11-3,10-11,9-4,14-5,14-10,10-1,11-4,10 3,8 4,8 6,14 10,11 0,1 8,5 13,1z"/>
<path fill="#a0cf76" d="M6364,3697l7,4 9,1 10,-2 8,2 8,5 14,-5 11,3 1,0 8,-4 7,-6 10,-8 13,-4 13,-1 12,5 11,1 11,-2 10,0 12,0 1,0 10,-6 1,-11 1,-11 5,-8 1,0 3,-13 0,-10-2,-7 5,-11 2,-6 4,-9 2,-12-6,-8-3,-6-1,-12-6,-7-4,-11-4,-8 2,-14-9,-5-11,0-14,1-8,-1-10,-6-3,-12-6,-5-7,-8-12,-1-6,6-10,4-9,-5-10,-2-10,-4-7,-6-9,-4-7,1-11,-6-1,13-5,11 1,12-3,9-5,9 1,16-4,9-7,10-3,11-1,8-5,8-4,5-1,15-4,10-3,7-12,9-8,10-1,1-4,14 7,3 5,9 10,6 4,15 10,6z"/>
<path fill="#efa768" d="M8254,3147l-10,7-9,1-10,3-11,4-1,0-7,13-7,7 0,1-3,5-11,-3-10,2-5,4-8,5-8,4-6,7-4,7-9,13-11,6-3,6-9,7-3,14-2,13-1,11 1,9 6,10 8,11 2,15 1,12-3,15 9,5 5,9 4,5 9,6 6,6 14,5 15,3 10,2 8,5 4,5 7,8 6,6 11,7 13,4 8,-1 9,1 3,8 7,6 7,4 4,8 10,3 11,9 9,-1 7,3 11,6 2,1-3,-4-4,-7-7,-10-7,-8 9,-3 6,-8 10,-7 8,-9 6,4 7,0 4,-1 0,-5-6,-8 0,-10-4,-9-3,-12 4,-11 7,-11 4,-8 7,-4-2,-13-2,-9 5,-5 3,-10 11,-8 5,-13-1,-9 3,-11-1,-13 1,-8-2,-15-3,-14-10,-4-7,-4-4,-8-6,-6-10,-12-8,-6-7,-11-1,-16-7,-10-11,-4-10,-1-14,0-8,3-12,6-6,-2z"/>
<path fill="#efa768" d="M8420,2996l-1,11-5,11-4,12-9,10-6,12-5,14-3,8-1,10-1,14-7,8-1,7-7,5-7,8 0,8-6,7-8,6-8,4-9,2 1,16 6,11 9,6 10,12 6,6 4,8 7,4 10,4 2,14 3,15-2,8 2,13-3,11 1,9-6,13-10,8-3,10-5,5 1,9 3,13-7,4-4,8-7,10-1,0 0,1-3,11 3,12 4,9-1,10 7,8 0,5 10,-2 13,0 9,2 5,4 7,6 4,8 8,8 9,5 5,7 4,4 1,10 9,6 3,7 3,7 0,11 6,6 3,10 4,6 4,6 10,-3 7,3 9,7 7,5 6,-7 2,-5 1,-11 2,-9 5,-5 4,-12 4,-4 6,-7 5,-12 2,-9 8,-9 3,-10 3,-8 0,-6 2,-7 1,-13 2,-7 4,-8 1,-12 0,-9-1,-8 1,-10 2,-7-2,-8 6,-9 1,-11 6,-13 3,-11 5,-11-2,-11 3,-9-1,-8-4,-11-1,-8-1,-8 0,-10-4,-3-3,-9 2,-8-1,-6-9,-8-7,-10-10,-4-6,-5-8,-9-8,-9 0,-7-2,-9-6,-7-3,-6-8,-4-8,-7-10,-4-5,-6-4,-8-8,-10-10,-6-8,-2 3,-12-2,-10-6,-5-3,-11-5,-8 1,-9 1,-7-2,-11-7,-7-8,-3z"/>
<path fill="#de7b52" d="M8109,3260l-10,-8-9,-10-7,-6-9,-3-8,-6-5,-14-12,-4-10,-3-8,6-15,0-6,9-7,4-14,5-13,6-12,1-12,-5-10,2-14,-3-14,-1-13,-3-8,-2-10,3-11,2-12,-4-13,-8-12,-3-4,13 0,11-4,7-4,9 4,11 0,10 5,9 0,11-2,15-3,12-8,8-6,7-6,7 4,9 8,7 14,6 11,4 11,3 13,5 7,13 7,14 9,2 6,6 11,10 8,5 9,11 13,2 10,7 8,9 4,11 5,7 5,6 11,8 13,-6 12,-3 7,-6 12,-2 14,-7 9,-8 8,-12 8,-7 7,-5 5,-12 0,-11 2,-9 3,-8 11,-4 12,-6 9,-6 5,-6 0,-10 4,-6 3,-15-2,-12-2,-15-8,-11-6,-10 0,-9 1,-11z"/>
<path fill="#e6553a" d="M8328,3478l-10,-6-8,-4-9,2-11,-9-10,-3-4,-8-7,-5-7,-5-3,-8-9,-1-8,1-13,-4-11,-7-6,-6-7,-8-4,-5-8,-5-10,-2-15,-3-13,-5-7,-6-9,-6-4,-5-4,-9-1,0-8,-5-1,0-3,6-1,10-4,6-9,6-12,6-11,4-3,8-2,9 0,11-5,12-7,5-8,7-8,12-9,8-14,7-12,2-7,6-12,3-13,6-8,5-6,9-2,15-1,13 2,9-2,11 4,9 6,14 3,9-1,14-4,14 1,14-4,11 2,13 8,9 7,7-4,15 7,16 7,3 2,-3 11,-8 6,-7 7,-3 6,-3 8,-3 13,-3 6,-11 8,-4 0,-8 6,-8 7,-7 5,-5 3,-7 6,-3 8,-5 12,-1 9,0 11,3 11,-5 8,0 13,1 5,-7 7,-3 8,-4 12,-1 5,-7 10,-9 9,-2 7,-5 6,-8 5,-6 7,-4 9,-10 7,-3 10,-2 10,0 6,-4 8,-3 10,-3 10,-3 6,-10 4,-5 10,-5 6,-10-4,-6-3,-8-2,-4z"/>
<path fill="#e62e27" d="M7666,3539l10,9 3,11 7,8 7,9 5,10 10,10 5,11 13,3 8,-2 12,6 14,0 6,-6 9,-3 9,-2 10,2 10,4 5,6 11,-3 13,4 11,5 14,4 5,8 7,7 13,-1 12,8 10,2 7,-1 11,0 11,2 13,-2 9,-3 15,5-2,-13 5,-11-2,-14 4,-14 1,-14-3,-9-6,-14-4,-9 2,-11-1,-9 0,-13 3,-15 5,-9 8,-5-11,-8-4,-6-6,-7-4,-11-8,-10-10,-7-13,-2-8,-10-9,-5-11,-10-6,-7-9,-2-6,-14-8,-12-13,-5-11,-4-10,-3-15,-6-8,-7-4,-9-9,2-7,6-8,10-13,-1-8,5-12,9-7,9-10,3-4,8-11,7 0,1 1,7-5,10-1,8-6,8-12,7-5,11-12,6-7,8-9,13-1,9 6,13 0,11 3,7 0,8z"/>
<path fill="#e62e27" d="M7989,3697l-6,-16 3,-15-7,-8-8,-8-14,-5-1,0-9,3-13,2-11,-2-11,0-7,1-10,-2-12,-8-13,1-7,-7-4,-8-1,0 0,-1-13,-3-12,-5-13,-4-11,3-4,-6-11,-4-10,-2-9,1-9,4-6,6-14,0-12,-7-8,3-13,-3-2,10-3,11-3,14-5,9 3,12-2,7 0,11-1,11 0,10-7,9-5,6-7,12-6,12 1,9 2,13-7,6-4,6-10,11-14,6-8,5-5,8 2,7 2,10 2,11 9,11 8,7 2,12 3,10 1,8 1,0 5,-5 5,-7 8,-2 8,-1 5,-4 9,0 6,4 12,-3 12,-7 10,5 10,-2 12,1 9,-3 8,-2 6,-7 10,-5 8,-4 7,-10 11,-7 3,-7 6,-4 7,-3 7,-5 6,-11 13,-3 10,-5 7,4 10,1 6,-6 10,-8 10,-1 5,-5 6,-7 7,-9 8,-2 7,-2 2,-12 8,-10 7,-7 5,-5 8,-2 5,-6 10,-2 2,-5z"/>
<path fill="#efa768" d="M5158,4254l-14,-5-12,-8-7,9 0,9-8,6-1,1-9,6 1,7-5,10-4,7 1,6-3,8 3,10-9,9-7,5-3,6-5,7 0,10-5,11-6,4-10,3-5,5 0,12 4,10 7,9-1,9-4,5-1,8-8,9-6,4 7,1 11,6 9,-3 14,-4 11,-3 9,0 9,0 10,-7 6,-10 14,-4 13,-4 11,2 8,9 15,4 15,-1 13,-3 6,6 7,5 12,3 7,-15 7,-7 1,-8 7,-10 2,-10 7,-6 6,-8 1,-11 5,-11-1,-10-4,-9-5,-9-8,-6-5,-5-7,-6-10,-4-9,-5-7,0-8,-6-3,-16-8,-3-6,-6-8,-3-11,-2-15,-4z"/>
<path fill="#e6553a" d="M5516,4355l-1,-9-5,-11-8,-6-2,-7-13,-6-4,-11-11,-10 2,-10-2,-7-9,-13-1,-12-7,-7-7,-6-15,-2-13,-3-8,-8-8,9-8,9-10,1-13,7-10,13-7,5-8,2-14,5-8,8-2,8-6,7-11,10-11,5-7,10-1,11-5,10 0,10 5,7 7,11 9,3 10,4 0,8 7,11 9,12 1,0 11,6 12,9 10,4 8,2 10,2 8,-1 13,7 15,1 0,-1 5,-5 6,-8 11,-3 11,-3 11,-6 15,0 4,-7 6,-7 2,-7 2,-8 9,-13 8,-5 5,-6z"/>
<path fill="#c8e39c" d="M5574,4379l9,-4 7,-6 12,-10 4,-13 10,-7 12,-1 11,-8 13,-5 12,-10 6,-13 0,-10-2,-6 2,-15 9,-12-2,-11-3,-10-7,-5-2,-10 3,-8-4,-13-7,-10-15,-6-8,-10-6,-6-11,5-9,5-8,3-7,8-1,0-8,12-15,4-7,7-12,1-7,0-13,8-9,2-8,3-6,9-8,5-10,1-7,3-13,3-8,4 2,12 8,13 3,7-3,10 1,0 11,10 3,11 14,6 2,7 8,7 5,10 0,9 12,1 8,4 6,7 9,3 0,1 15,1z"/>
<path fill="#de7b52" d="M5847,4269l-4,-10-8,-10-11,-10-12,-2-9,-7-14,3-8,1-10,6-11,3-8,1-15,0-14,5-6,10-15,-2-9,3-14,-1-9,12-2,15 2,6 0,10-7,13 8,7 4,5 5,9 8,5 8,9 9,5 5,5 5,8 8,8 6,13 14,7 11,4 8,5 8,8 10,6 8,-3 8,1 6,-7 5,-7 11,-6 13,-7 4,-11 0,-10 4,-7 1,-12 4,-15 1,-8-1,-10-2,-10-2,-9 1,-13 4,-6z"/>
<path fill="#de7b52" d="M5587,4437l5,7 1,8 8,12 13,8 7,6 12,3 13,2 9,9 10,12 14,6 5,-14 1,-9 5,-6 8,-6 9,-4 5,-8 7,-6 7,-9 13,-7 7,-7 7,-1 7,-8 8,-6 12,0-10,-6-7,-8-9,-5-11,-4-14,-8-6,-12-8,-8-5,-8-5,-5-8,-5-9,-9-8,-5-5,-9-4,-5-7,-7-1,0-12,10-12,5-11,8-12,1-10,7-4,13-12,10-7,5-9,5 6,8 1,10 3,12 1,13z"/>
<path fill="#b1b5cb" d="M5474,4581l9,-12 2,-12 10,-9 3,-13 6,-11 1,-6 5,-9 4,-8 8,-7 8,-7 7,-9 8,-5 11,-1 6,-6 4,-8 6,-12 3,-8 6,-6 5,-10 0,-1-2,-12-2,-12-2,-10-6,-8-9,-8-15,-1-9,-3-5,-7-9,-4-12,-1-2,9-5,6-8,5-9,13-2,8-2,7-6,7-4,7-15,-1-11,7-11,3-11,3-6,8-5,5-3,9 2,12-7,10-3,10 5,8 2,8 4,13 5,8 3,10 4,6 7,7 7,4 5,12 9,12 8,4z"/>
<path fill="#de7b52" d="M5423,4520l-5,-8-4,-13-2,-8-4,-8 2,-10 8,-10-3,-12 3,-9-15,0-13,-7-8,1-10,-2-8,-2-9,-4-13,-9-11,-6-10,-12-6,-11-1,-8-10,-4-8,-3-8,-11-4,-7-1,0-5,11 0,11-6,8-7,6-3,10-6,10-1,8-7,7-7,14 0,12-1,8 0,11 5,14 1,9 1,12 1,0 8,12 1,0 7,-8 10,-11 15,-1 9,-7 14,5 10,-1 13,5 1,0 14,-4 16,2 10,0 13,-1 8,2 6,7 6,7z"/>
<path fill="#e6553a" d="M5241,4442l-12,-3-7,-5-5,-5-1,0-13,3-15,1-15,-4-8,-9-11,-2-13,4-14,4-7,10-9,6-9,1-9,0-11,3-14,4-9,3-11,-6 0,-1-6,0-3,1-3,9 0,14 7,5 7,0 7,6 1,6 6,6 2,10 8,5 6,12 4,5 8,8 8,10-1,13 3,7 2,3 144,-58-2,-12-1,-9-5,-14 0,-11 2,-8z"/>
<path fill="#e6553a" d="M5257,4520l-9,-12-144,58 5,6 11,8 8,11 1,7 4,8 11,5 6,8 0,6 4,8 9,10 4,9 5,6 5,9 3,12 4,7 8,3 8,0 1,-1 7,-11 8,-12 1,-8 4,-11 2,-13 8,-13 10,-18 10,-17 7,-12 4,-11 0,-13-1,-10-3,-11z"/>
<path fill="#de7b52" d="M5458,4571l-8,-12-6,-12-7,-4-7,-7-4,-6-3,-10 0,-1-14,-5-6,-6-6,-7-8,-2-13,1-10,0-16,-3-15,5-12,-5-1,0-10,1-14,-5-9,7-15,1-10,11-8,8 1,8 3,11 2,10 0,13 11,9 12,4 8,7 11,5 2,7 6,8 9,8 2,8 5,10 15,-4 8,-8 10,-2 10,-1 7,3 9,6 9,0 9,-1 9,-7 11,-4 0,-1 6,-7 5,-7 2,-9 9,-9z"/>
<path fill="#e6553a" d="M5262,4562l-4,11-7,12-10,16-10,19-8,13-2,13-4,11-1,8-9,12-6,11-2,1 6,0 12,7 13,3 10,2 11,1 12,1 7,-2 7,-3 7,-3 8,-9 9,-2 8,-5 2,9 4,8 8,3 6,10 6,2-3,-9 4,-8 0,-12 1,-15 5,-9-9,-11 0,-11-5,-8-5,-10-2,-8-9,-8-6,-8-2,-7-10,-5-8,-7 0,-1-13,-3z"/>
<path fill="#efa768" d="M5474,4580l-8,-5-8,-4-11,6-9,9-2,9-6,7-5,7-11,5-9,7-9,1-9,0-9,-7-6,-2-1,0-10,1-10,2-8,8-15,4 5,8 0,11 9,11-6,9 0,15 0,12-4,7 0,1 2,9 7,3 8,-1 13,-2 9,-3 5,4 9,1 9,3 5,3 9,2 8,-1 7,-7 8,-1 13,-3 7,-7 8,-3 10,1 6,5 2,-4-2,-10-6,-14-5,-10-1,-8 1,-10 2,-9 5,-10-4,-15 2,-10 0,-6 6,-5 4,-8z"/>
<path fill="#fce4ae" d="M5474,4580l0,1 4,5 11,2 10,-2 13,-1 10,-5 12,-4 10,4 12,5 9,0 12,0 15,4 10,4 9,3 9,0 10,3 9,4 13,0 7,-4 10,0 9,-8-5,-9 3,-14-4,-8 1,-12 2,-8 2,-13 3,-6-1,-11-14,-6-10,-12-9,-9-13,-3-12,-2-7,-6-13,-9-7,-11-2,-8-5,-7-1,-16-1,0-4,11-6,6-3,8-6,12-5,8-5,6-11,0 0,1-8,5-8,9-7,7-8,7-4,7-5,10-1,6-6,11-4,13-10,9-2,12z"/>
<path fill="#e6553a" d="M5478,4586l-3,8-7,5 0,6-1,10 4,15-5,10-2,9-1,10 1,8 4,10 7,14 2,10-3,4 4,3 7,6 7,0 6,9 1,7 11,6 9,3 9,4 9,10 8,1 8,5 13,1 13,-1 7,10 7,5 6,1 9,1 11,3 9,-4 12,2 10,2 1,1 0,-10-7,-10 3,-15 2,-14 0,-10 2,-7 2,-11 3,-11 7,-12 12,-6-3,-7-8,-8-3,-12 1,-13 1,-13 2,-8 4,-14-10,0-7,4-13,0-9,-4-9,-3-1,0-9,-1-9,-3-9,-3-16,-4-12,0-9,0-12,-5-10,-4-12,4-10,5-13,1-10,2z"/>
<path fill="#7aba5c" d="M5796,4417l-8,-1-8,3-12,0-8,6-7,7-7,2-7,6-13,8-7,9-7,6-5,8-9,4-8,6-5,5-1,10-5,14 1,11-4,6-1,12-3,9-1,12 5,8-3,14 0,1 5,8 9,1 9,-3 14,-3 12,2 9,1 12,6 3,8 0,1 10,8 8,5 8,-1 8,2 11,-1 6,-13 6,-7 8,-11 9,-6 7,-1 9,-8 4,-11 10,-8 2,-8 1,-10-3,-10-4,-9-2,-14 1,-9-7,-14-9,-7-7,-7-3,-8-10,-8-5,-6-4,-14z"/>
<path fill="#e6f1b6" d="M5669,4599l-5,14-1,8-1,13-2,13 4,12 8,8 3,7-12,5-7,13-1,0-2,11-2,11-2,7-1,10-1,14-3,15 7,10 0,10 5,4 7,2 6,3 10,0 9,1 7,3 8,1-1,-4 1,-10 8,-9 3,-15 10,-6 7,-3 13,0 8,0 11,-5 9,-2 8,-5 9,-13 3,-14 11,-9 4,-11 9,-1 10,-5-2,-7-5,-8-8,-5-12,-7 5,-9-1,-7-5,-10-7,-12-11,1-8,-2-8,1-8,-6-10,-8-3,-8-11,-6-1,0-9,-1-12,-2-14,2-9,4-9,-1z"/>
<path fill="#7aba5c" d="M5887,4715l-12,-7-11,-1-5,-10 0,-1-7,-4-13,-6-13,-4-10,4-9,2-4,11-12,9-2,14-9,13-8,4-9,3-11,5-8,-1-13,1-7,3-1,0-9,6-3,15-8,9-1,10 1,4 2,0 8,-2 9,3 8,10 9,4 13,-1 6,4 9,6 11,1 8,5 3,5-5,7-10,4-3,11-10,9-1,10 8,2 7,1 10,-9 6,-5 11,-2 9,-1 8,0 12,-2 6,-6 6,-6 10,-5 3,-11 3,-8 5,-8 6,-4 0,-9 5,-8 2,-8 3,-10 6,-12 8,-5-3,-13-6,-9 1,-7z"/>
<path fill="#fce4ae" d="M5831,4390l-13,7-11,6-5,7-6,7 4,11 3,14 6,6 10,8 3,8 7,8 9,6 7,14-1,9 1,14 5,9 3,10-1,10-2,8 13,-1 14,-6 8,2 13,5 10,-4 12,-1 15,-4 6,-6 6,-6 7,-7 9,-9 4,-9 11,-7 0,-1-5,-8-5,-5-6,-13-5,-10-9,-8-10,-5-3,-7-6,-8-3,-6-2,-11-8,-1-9,-5-11,-1-8,-4-7,-1-14,-4-14,-2-9,-3z"/>
<path fill="#7aba5c" d="M6123,4574l-4,-10 2,-10-6,-11-5,-15-5,-7-9,-4-11,-3-6,-6-11,6-9,0-12,-6-13,-2-9,-6-12,-5-13,2-9,-1-13,2-12,8-3,9-9,9-7,7-6,6-6,6-15,4 4,15 9,12 1,8 3,10 10,12 4,9 1,11 1,9-1,11-2,15-3,10 0,1 13,-4 8,1 14,3 11,-5 8,-11 12,-2 8,1 5,6 8,4 7,2 8,6 1,0 12,-5 11,1 7,3 0,-1 9,-11 3,-12 4,-6 6,-7 12,-4 5,-7 1,-11 0,-14-1,-11z"/>
<path fill="#4fa34a" d="M6097,4764l-5,-10 0,-8-4,-8 0,-7 1,-10-4,-12 3,-10-2,-13-1,-10-5,-7-7,-2-11,-1-12,5-9,-6-7,-2-8,-4-5,-6-8,-2-12,3-8,11-11,5-14,-3-8,-1-13,3-13,7-10,0-10,7-7,2-1,0-9,7-8,10-2,13-1,10-1,7 6,9 3,13 8,5 7,9 8,11 7,9 8,13 10,4 6,5 6,8 10,7 8,-4 10,0 7,-4 10,-6 11,3 15,-1 8,-8 10,-2 12,-6 5,-8 7,-3 11,2 10,-10 2,-9z"/>
<path fill="#7aba5c" d="M5850,4552l-10,8-4,11-9,8-7,1-9,6-8,10-6,8-6,13 7,12 5,10 0,7-4,9 0,1 12,7 7,4 6,8 2,7 13,4 13,6 7,5 4,10 1,0 11,1 12,7 2,-13 9,-10 9,-7 7,-2 10,-7 10,1 13,-7 0,-1 3,-10 2,-15 2,-10 0,-1-2,-9 0,-11-4,-9-10,-12-4,-10-1,-8-9,-12-4,-15-12,1-10,4-13,-5-8,-2-14,6z"/>
<path fill="#7aba5c" d="M5923,4417l2,11 4,6 5,8 4,7 10,6 8,7 6,11 5,12 6,6 5,8 13,-3 9,1 13,-2 12,5 9,6 13,2 12,6 9,0 11,-5-3,-10 4,-11 0,-1-2,-15-3,-6-4,-9-5,-12 0,-13-1,-10 2,-15-2,-11 5,-11-5,-12-6,-6-4,-11-6,-9-2,-16-2,-10-3,-11 0,-12 0,-9-9,3-14,-3-3,6-7,7-8,7-7,3 0,1-6,13-7,9-1,10-9,10-5,7-10,2-5,5-5,9-4,8-6,11-7,9z"/>
<path fill="#7aba5c" d="M5846,4269l-1,10-4,6-2,13 3,9 2,10 0,10 0,8-4,15-1,12-4,7-1,10-3,11 13,6 8,3 1,0 14,2 13,4 8,1 8,4 11,1 9,5 8,1 5,-11 7,-9 6,-11 4,-8 6,-8 4,-5 10,-3 5,-7 9,-10 1,-10 7,-8 6,-14 7,-4 8,-7 7,-6 0,-1 3,-6-11,-4-10,-7-7,-5-10,-3-12,-8-9,-8-11,-2-8,-3-8,-2-8,-2-10,4-14,1-13,3-7,6-10,4-13,3z"/>
<path fill="#e6553a" d="M6215,4423l-9,-9-10,-7-12,-10-7,-13-6,-7-6,-5 2,-13-3,-10 1,-12 6,-14 0,-1-9,-8-11,-11-3,-7-5,-8-6,-8 0,-13-10,-1-7,5-8,1-9,-3-10,2-10,-2-13,4-9,1-7,7-12,8 0,9 0,12 3,11 2,10 2,16 6,9 4,11 5,6 5,12-4,11 2,11-3,15 2,10 0,13 4,12 5,10 3,5 2,15-4,12 2,10 7,5 11,3 9,4 5,8 6,-5 8,-7 8,-3 6,-8 9,-10 9,-1 5,-4 8,-5 3,-7 7,-10 4,-14 4,-9 4,-5 6,-10 8,-4z"/>
<path fill="#4fa34a" d="M6349,4410l5,-10 10,-5 7,-8 4,-9 1,-11-1,-10-8,-13 0,-9 3,-14-11,-8-9,-2-8,-7-3,-8-8,-3-7,-4-2,-7-7,-8-3,-11-5,-5 0,-1-16,0-9,5-12,0-15,1-13,-8-9,2-12,1-11,0-11,-7-7,-6-6,-4-8,-1-8,-2-5,9-5,8-12,6-11,6 0,13 6,8 5,8 3,7 11,11 8,9-5,14-1,12 3,10-2,13 6,6 6,6 7,13 12,10 10,7 9,9 12,5 15,5 8,-3 12,1 14,-2 11,-5 7,-10 9,-3 9,-4 12,-1 10,0z"/>
<path fill="#e6f1b6" d="M6349,4410l-15,-4-10,0-12,0 0,1-9,4-9,3-7,10-11,5-14,2-12,-1-8,3-15,-5-12,-5-10,4-9,4-5,10-4,5-4,9-5,14-6,10-3,7-8,5-6,4-8,1-9,10-7,8-7,3-1,0-7,7-6,4 5,15 6,11-2,10 4,10 7,4 9,8 9,0 7,1 8,6 8,10 9,8 10,3 11,1 12,-3 7,3 7,4 11,1 10,5 8,-2 10,-2 10,6 10,2 7,-8 6,-7 13,-3 13,-10-2,-10 3,-7 6,-14 10,-5 7,-10 0,-12-2,-8-4,-12 4,-15-4,-10-5,-8-3,-9 4,-13 6,-14 0,-12 0,-15 3,-9z"/>
<path fill="#fdf9c4" d="M6500,4608l0,-1-11,-1-11,-5-16,-1-12,4-8,-1-8,-2-8,0-9,-3-3,-7-10,-6-11,0-10,1-6,0-12,-8-6,-6-3,-12-7,-5-7,10-10,5-6,14-3,7 2,10-13,10-13,2-6,8-7,8 4,9 5,10 7,9 10,4 1,8 5,7-1,13 2,11 4,11-1,8 3,11 1,12-3,8 9,4 8,0 13,-1 9,-3 6,-5 12,0 8,3 11,2 9,4 7,12 1,0 9,-9 6,-6 8,-7 4,-15 2,-8 8,-7 3,-12-2,-13-2,-12 6,-5 6,-10 9,-11 8,-9 2,-10 6,-12 6,-6z"/>
<path fill="#7aba5c" d="M6123,4574l-4,12 1,11 0,14-1,11-5,7-12,4-6,7-5,6-2,12-9,11 5,7 1,10 2,13-3,10 4,12-1,10 0,7 3,8 1,8 5,10 9,9 7,6 8,3 9,-2 9,3 12,4 11,-2 8,-1 10,2 10,-4 8,-3 8,-5 8,3 7,2 12,0 13,-1 15,-2 9,-4 10,4 10,3 7,-7 5,-10 11,-6 10,-6 3,-8-1,-12-3,-11 2,-8-4,-11-3,-11 2,-13-5,-7-2,-8-9,-4-7,-9-5,-10-5,-9-10,-2-10,-6-10,2-8,2-10,-5-11,-2-7,-3-7,-3-12,3-11,-1-10,-3-9,-8-8,-10-8,-6-7,-1-9,0-8,-8z"/>
<path fill="#7aba5c" d="M5947,4919l3,-6 6,-9 7,-11-4,-13 3,-13-4,-13-1,-9 3,-9 4,-11-10,-7-6,-8-6,-6-10,-4-8,-12-7,-9-7,-11-8,-9-8,-5-9,5-5,12-4,10-1,8-5,8 0,9-6,4-6,8-2,8-3,10-10,6-6,6-7,6-11,2-8,0-9,0-11,3-6,5-10,9 11,3 7,8 7,13 11,8 5,8 4,9 5,5 12,6 15,1 10,-6 8,0 8,6 10,3 13,8 10,-11 6,-5 6,-5 13,-2z"/>
<path fill="#fdf9c4" d="M6113,4779l-7,-6-9,-9-7,5-2,9-10,10-11,-2-7,2-5,9-13,6-9,2-8,7-15,1-11,-3-10,7-7,3-10,1-8,4-4,11-3,9 1,9 4,13-4,13 5,13-7,11-6,9-3,6 9,4 10,3 6,0 7,9 9,4 7,9 2,8 12,-4 11,1 9,1 12,3 8,1 11,2 11,-4 6,-6 7,-3 11,-7 8,-5 5,-4 6,-11 7,-12 6,-8 1,-8 5,-11-6,-11 0,-13 1,-9-3,-10-6,-13-7,-11-2,-11-2,-7 4,-9z"/>
<path fill="#7aba5c" d="M6290,4779l-10,-3-10,-5-9,5-15,2-13,0-12,1-6,-2-1,0-8,-3-8,5-8,3-10,4-10,-2-8,1-11,2-12,-5-9,-3-9,3-8,-3-1,8-5,9 3,7 2,11 7,11 5,13 3,10 0,9 0,13 6,11-6,11 0,8-6,8 7,10 10,5 13,5 10,6 10,-1 13,5 7,3 6,7 9,9 11,6 7,-3 6,-9 11,-5 10,2 11,-11 9,-6-4,-8-3,-11 1,-7-1,-11 0,-15-5,-11 0,-14 6,-13 6,-10 3,-11 2,-13 5,-12 3,-10z"/>
<path fill="#7aba5c" d="M6408,4754l0,-1-9,-3-11,-2-8,-3-12,-1-6,6-9,3-13,1-8,0-9,-4-10,6-11,6-6,10-6,7-6,6-4,10-4,12-2,13-3,11-6,10-6,13 0,14 5,11 0,15 1,11-1,7 3,11 4,8 14,8 9,8 6,10 1,0 12,3 12,8 7,5 9,8 8,1 8,5 11,1 14,-6 8,2 12,-1 9,-12 5,-10 6,-5 9,-5 9,-3 8,-8 3,-9 4,-6 12,-10 10,-4 11,-4 0,-7 3,-12-6,-13-1,-15 2,-10 7,-6 0,-1-8,-7-7,-10-5,-7-8,-9-6,-5-5,-8-11,0-7,-5-6,-9-2,-10-12,-8z"/>
<path fill="#7aba5c" d="M5775,4873l-7,-2-8,-1 0,2 0,7-1,10-6,5-6,4-4,6-6,6-6,4-4,6-7,8-7,7-3,12-3,6-3,8 1,9-6,9-4,7-7,4-6,3-8,2-7,10-6,6-8,2-7,5-1,11-1,8-6,6-2,6-3,5 4,3 14,0 7,5 12,0 16,-1 13,-7 13,0 11,5 10,4 9,6 4,6 9,5 10,0 8,2 14,4 11,3 8,9 1,0 13,-2 8,-1 9,0 8,-5 5,-7 12,-3 4,-7 9,-5 2,-13-2,-13 5,-9 4,-14 8,-8 5,-4-2,-11 0,-10 5,-12-3,-7 0,-11 4,-11-13,-8-10,-3-8,-6-8,0-10,6-14,-2-13,-5-4,-5-4,-9-6,-8-11,-9-6,-12-8,-8z"/>
<path fill="#c8e39c" d="M6041,4957l-12,-3-9,-1-11,-1-12,4-2,-8-6,-9-10,-4-6,-10-1,0-6,1-10,-3-9,-4-12,3-12,1-6,6-6,5-10,11-4,11 0,11 3,7-5,12-1,10 0,1 3,10-5,4-8,8-5,14-4,9 1,13 7,0 11,2 11,5 8,-2 9,0 10,4 10,5 7,3 13,3 4,8 9,7 7,6 8,2 7,4 7,8 9,12 9,6 9,-4 8,-7 10,-11 4,-14 6,-13-4,-10-3,-8-1,0-7,-4-6,-9 0,-10-5,-15-1,-9 1,-8-2,-7-3,-9 7,-6 4,-8-2,-11z"/>
<path fill="#4fa34a" d="M6121,4908l-7,12-6,11-5,4-9,5-10,7-8,3-5,6-11,4-11,-2-8,-1-4,8 2,11-4,8-7,6 3,9 2,7-1,8 1,9 5,15-1,10 7,9 7,4 3,8 5,10 14,-2 10,-1 8,3 7,5 9,-4 11,-11 9,-1 9,0 11,-3 12,-1 7,4 9,0 12,-9 14,0 2,-7-1,-11-1,-9 1,-11 4,-8 0,-9 4,-13 4,-9 4,-8-1,-11-11,-6-9,-10-6,-6-7,-4-13,-4-10,1-10,-6-13,-5-10,-5z"/>
<path fill="#a0cf76" d="M6271,4931l-10,6-10,11-10,-2-1,0-10,5-7,9-6,3 1,11-5,8-3,9-4,13 0,9-4,7 0,1-1,11 1,9 1,11-2,7 9,9 6,11 9,11 3,8 4,6 13,3 12,1 12,-3 9,-6 8,-9 11,-5 9,1 11,-1 15,2 7,0 10,1 9,5 5,5 7,2 9,4 9,-6 9,-13 4,-11 8,-6 2,-9-2,-11 3,-13-2,-13-10,-11 0,-8 4,-9-2,-11-12,1-8,-2-14,6-11,-1-8,-6-8,0-8,-9-8,-4-12,-8-12,-4-7,-9-9,-9z"/>
<path fill="#4fa34a" d="M6202,5224l1,-14 2,-11 2,-10 6,-12-4,-14 0,-7 2,-9 4,-10 8,-10 5,-12 4,-11-4,-6-3,-8-8,-11-7,-11-9,-9-14,0-12,9-9,-1-7,-3-12,1-11,3-9,-1-9,2-11,11-9,4-7,-6-8,-3-10,2-14,2-7,13-3,14-10,11-8,7-9,4 3,13-3,7 3,14-4,9 6,11 4,10-3,9 10,-2 8,2 9,-3 12,1 10,1 13,-4 8,3 8,3 12,-9 11,0 11,8 9,1 15,-1 9,5 7,3 8,6 7,6z"/>
<path fill="#a0cf76" d="M6202,5224l5,6 5,8 8,10 8,14 7,7 4,15 1,0 14,-2 13,-2 15,1 8,-5 5,-7 10,-5 11,0 7,-5 7,-8 7,-13 10,-6 7,-1 1,-12 9,-11 6,-5 9,-4-3,-14-9,-7 0,-12 1,-8 2,-10 3,-8 4,-10 0,-12 2,-14-9,-4-7,-2-5,-5-9,-5-10,-1-7,0-15,-2-11,1-9,-2-11,6-8,9-9,6-12,3-12,-1-13,-3-4,11-6,12-8,9 0,1-3,10-2,9 0,7 4,14-6,12-2,10-2,11z"/>
<path fill="#66b054" d="M5591,5246l9,-1 9,5 8,2 9,6 10,4 11,2 11,-2 11,-5 7,-2 16,2 12,5 6,4 12,0 15,-1 5,10 5,7 3,8 6,5 5,8 15,1 9,4 8,-6 5,-5 2,-10 4,-13 8,-12 3,-8 7,-10 0,-1 4,-10-1,-10 2,-13-3,-10 2,-10-9,-11-4,-7-6,-10-4,-10 2,-7 5,-11-1,-9 4,-9-2,-11-4,-7-9,-9-11,-3-14,-5-8,-1-10,0-9,-5-4,-6-9,-6-10,-5-11,-5-13,1-13,7-16,1-12,0-7,-5-14,0-4,-3-4,5-4,7-2,7-1,11-1,9 3,6-7,7-4,10-6,6-3,9-1,11-1,7-3,10 5,7-1,11-4,14-7,8-2,11-2,7-4,7 3,13 1,10z"/>
<path fill="#fdf9c4" d="M6022,5128l-9,-6-9,-12-7,-8-7,-4-8,-2-7,-6-9,-7-4,-8-13,-3-7,-4-10,-4-10,-5-9,1-8,2-11,-5-11,-2-7,0-1,13-9,4 0,1-4,7-12,3-5,6-8,5-9,1-8,0-13,3-1,0 5,7 2,11-4,9 1,9-5,10-2,8 4,10 0,1 5,9 5,7 9,11-2,10 3,10-2,13 0,10-3,10 0,1 8,0 11,6 14,8 16,1 8,1 9,-6 6,-4 10,-2 16,0 10,1 14,-1 11,-8 12,-6 6,-7 7,-8 13,2 1,0 9,0 8,-5 9,-1 8,-14 3,-9-4,-10-6,-11 4,-9-3,-14 3,-7 0,-1z"/>
<path fill="#fce4ae" d="M7084,4177l-9,2-9,5-9,0-7,-2-8,0-11,4-8,2-12,1-11,0-6,-5-7,-5-12,-2-14,4-8,-6-14,-2-10,-10-7,-5-7,-4 0,1-4,6-4,9-7,7-6,5-6,14-6,6-7,4-7,6-4,10 1,15-3,14-10,9 9,3 8,1 11,7 8,8 7,2 9,5 13,9 1,0 11,2 13,5 11,10 8,4 5,9 13,-6 11,-7 5,-10 7,-7 7,0 9,-5 10,-6 4,-6 10,-1 8,-1 11,-7 10,-3 4,-6 10,-4 6,-10-2,-14-5,-12-7,-5 0,-13-2,-10 2,-7z"/>
<path fill="#fce4ae" d="M7089,4170l-5,7-7,8-2,7 2,10-1,13 1,0 7,5 4,12 2,14 1,0 8,3 7,7 12,10 4,9 4,7 6,7 1,0 11,4 0,8 4,13 2,6 6,8 8,5 6,4 6,9 7,7 14,6 11,-2 10,-4 10,5 7,3 10,8 13,1 9,0 11,-8 5,-9 9,-6 7,-8 7,-3 14,-6 6,-10 1,-8 3,-9 1,-13 8,-13 5,-14 3,-9 0,-1-4,-6-2,-11-2,-12 0,-8-3,-8-7,-9-12,-8-5,-13-5,-9-5,-8-6,-13-7,-9-8,6-8,3-14,-2-15,3-10,-5-8,-1-13,2-12,2-8,-1-11,3-8,2-9,2-7,4-7,10-10,4-9,1-7,-2-15,2-10,2z"/>
<path fill="#e6f1b6" d="M6966,4325l3,14 3,11-3,12 1,14-4,7-2,13 2,15 8,8 5,14 7,7 8,9 1,10-1,10 3,13 1,0 6,-6 11,-2 10,-1 11,-4 9,1 10,-3 13,1 4,-8 12,-7 13,-6 11,-8 6,-7 6,-9 15,-6 11,-11 9,-7 6,-5 2,-9 1,-10 8,-10 8,-6 3,-6-7,-7-6,-9-6,-4-8,-5-6,-8-2,-7-4,-12 0,-8-11,-4-7,-7-4,-7-4,-10-12,-10-6,-6-1,0-8,-3-6,10-10,4-5,6-9,3-11,7-8,0-10,1-4,7-11,6-8,5-7,-1-8,8-4,10-11,7z"/>
<path fill="#7aba5c" d="M6966,4325l-5,-9-7,-5-12,-9-13,-5-11,-2-14,-9-9,-6-7,-1-8,-8-10,-7-9,-1-9,-3-13,3-9,-2-8,1-9,-1-9,5-14,5-3,7-6,9-1,7 3,11-2,8-1,9 6,13 0,10 2,14 4,8 3,8 11,6 3,9 9,7 10,7 7,5 7,3 8,8 9,9 2,10 7,6 1,11-4,8 0,12 6,7 1,11 0,15 7,9 2,10 8,14 1,7 3,11 1,0 6,2 9,5 11,0 9,-5 10,-11 9,-9 14,-7 7,-1 8,-3 6,-9 2,-14 3,-7 1,-10 9,-9 0,-1-4,-12 1,-10-1,-10-8,-9-7,-7-5,-14-8,-8-2,-15 2,-13 4,-7-1,-14 3,-12-3,-11z"/>
<path fill="#a0cf76" d="M6627,4560l10,-4 7,-1 8,1 12,5 8,5 13,0 13,7 12,-1 9,4 9,-4 6,-1 11,8 11,3 10,-2 10,1 8,-5 6,-3 10,-5 8,-3 0,-1 11,-11 15,2 11,4 6,10 8,-1 9,-1 8,-7 9,1 9,-1-4,-11-1,-7-7,-14-3,-10-6,-9-1,-15-1,-11-6,-7 0,-12 4,-8 0,-11-8,-6-2,-10-9,-9-8,-8-7,-3-7,-5-10,-7-9,-7-3,-9-11,-6-3,-8-4,-8-1,-14 0,-10-7,-13 2,-9 1,-8-3,-11 0,-1 0,1-6,12-2,12-8,4-7,6-8,5-7,11-5,7-6,6-9,7-12,5-7,13-4,11 0,1 2,9-5,15-2,11-5,8-9,10-6,5-6,4-6,10-9,7-8,3-12,9-12,7-7,5-9,6 1,10 8,12 1,12 3,15z"/>
<path fill="#a0cf76" d="M6781,4287l-10,-10-2,-12-1,0-13,-7-10,-6-9,-3-15,4-12,11-10,4-14,-2-14,-7-9,-4-7,-1-13,-5-14,-4-9,-3-6,-4-8,-1-9,6-11,3-15,3-7,10 0,9-4,8-3,11 3,10-3,8-3,11 2,7-4,11 1,13 0,1 6,12-3,9-2,14-1,11-2,12 9,10 2,13 2,9 3,9 3,6 1,10 5,12 11,8 8,11 11,9 9,-6 7,-5 12,-7 12,-9 8,-3 10,-7 5,-10 6,-4 6,-5 9,-10 5,-8 2,-11 6,-15-3,-10 4,-10 7,-13 12,-6 9,-7 6,-6 5,-7 7,-11 8,-5 7,-6 8,-4 2,-12 6,-12z"/>
<path fill="#c8e39c" d="M6510,4189l-6,-11-1,-9 0,-13-14,-4-6,-6-16,-2-9,-6-3,-6-5,-6-2,-10-14,-7-11,-4-12,-7-11,-6-10,-3-3,-7-3,-12-9,-11-10,10-10,2-14,6-11,7-6,5-6,13 2,12-7,12-4,7-4,8-2,11 4,10 7,12 0,11 1,13-1,9-7,12 2,9-1,14-1,16 5,5 2,11 7,8 3,8 6,3 9,3 3,9 8,6 9,2 11,8-3,14 0,9 8,13 1,10-1,11-5,9-6,7 0,1 14,-2 13,0 11,0 9,4 7,8 6,5 5,9 11,4 8,3 7,6 13,1 14,2 8,1 11,5 7,7 4,8 10,9 8,-4 13,-1 15,5 12,-2-1,-10-3,-6-3,-9-2,-9-1,-13-10,-10 2,-12 1,-11 2,-14 3,-9-6,-13-1,-13 5,-11-3,-7 3,-11 3,-8-3,-10 3,-11 5,-8-1,-9 7,-10-6,-5 0,-1-9,-3-12,-9-3,-12-12,-9-11,-7-9,-1z"/>
<path fill="#a0cf76" d="M6618,4552l-3,-15-1,-12-8,-12-1,-10-11,-9-8,-12-10,-7-6,-12-12,2-15,-5-13,1-8,3-10,-8-4,-8-7,-7-10,-5-1,0-8,-1-14,-2-13,-1-7,-6-7,-3-12,-5-5,-8-6,-5-7,-9-9,-3-11,-1-13,0-14,2-10,6-5,10-1,8-3,8-1,16 1,12-7,14-3,12 0,1 3,9 5,8 4,10-4,15 4,12 1,8 1,12 7,5 3,12 0,1 6,6 12,7 6,0 10,-1 11,1 10,5 3,7 9,4 8,-1 8,2 8,1 12,-4 16,2 10,4 12,2 4,-7 7,-8 6,-7 9,-2 4,-7 9,-7 11,-8 8,-5 13,1 12,-5 16,0 9,0z"/>
<path fill="#c8e39c" d="M6998,4481l-9,10-1,10-3,7-2,14-6,9 8,7 12,3 8,4 13,-1 11,1 13,5 10,5 8,1 8,5 8,1 7,12 14,6 14,4 11,4 6,6 13,2 10,1 11,-2 6,-7 8,-3 10,-3 6,-7 8,-4 10,-6 7,-11 6,-7 3,-8 6,-12 0,-1 3,-15-5,-8-5,-12 3,-8-2,-10 8,-12 0,-1 0,-7-1,-10 2,-12 3,-10 7,-7 5,-11 7,-5-3,-11 5,-9-1,-8-13,-1-10,-8-7,-4-10,-4-10,4-11,2-14,-6-4,6-7,6-8,10-1,10-2,9-6,5-9,7-11,10-15,7-6,9-7,7-10,8-13,6-12,7-4,8-13,-1-10,3-9,-1-11,4-10,1-11,2z"/>
<path fill="#fce4ae" d="M7382,4648l5,-6 12,-2 0,-7 6,-8-1,-10 7,-9 2,-9-7,-15 0,-13 1,-9 0,-1 1,-9-2,-8 4,-11 2,-9 5,-4 0,-1 7,-7 0,-9 6,-8-3,-12 0,-7 7,-8-1,0-11,-3-13,3-13,-5-10,0-5,-11-13,-9-10,-3-6,-3-9,-9-4,-7 0,-1-7,-3-7,-5-8,-4-5,-8-4,-11-7,-10-9,-5-4,-6-10,-4-11,7-9,1 1,8-5,9 3,11-7,4 0,1-5,11-7,7-3,10-2,12 1,10 0,7-8,13 2,10-3,8 5,12 5,8-3,15-6,13-3,8-6,7 13,1 8,4 8,5 6,11 4,14 8,10 0,1 11,-4 9,4 7,1 9,3 11,7 8,5 10,5 11,-4 11,1 4,8 8,11 8,7z"/>
<path fill="#b1b5cb" d="M7433,4466l15,0 15,-3 9,-2 6,-7 12,-2 15,-1 11,-8 6,-14 10,-4 7,-8 6,-9 8,-9 14,-4 9,-3 11,3 11,-5 14,4 13,-1 8,0 4,1 0,-10 4,-9 1,-9-3,-6-6,-13 3,-10-1,-8-7,-9-5,-7-4,2-8,-2-14,-7-8,-3-7,-3-10,0-7,-1-13,0-4,6-11,5-12,1-6,-5-8,-3-10,-13-15,0-4,-7-10,-4-7,-4-12,1-13,-8-7,-14-9,-7-8,4-15,-2-6,-6-9,-2-15,-4-9,-5-12,4-9,0 2,11 3,7-3,9-4,14-8,13-1,13-3,9-1,8-6,10-14,5-7,4-7,8-9,6-5,9 10,5 4,5 9,5 7,10 3,11 6,9 8,3 7,5 7,4 4,7 9,9 6,3 10,3 13,9 5,11 10,1 13,4 13,-3z"/>
<path fill="#c8e39c" d="M7491,4082l-11,11-7,11-9,7-12,6-12,-1-10,11-9,10-3,6-8,7-2,8-6,6-14,4-9,8-8,9-8,9-10,3-7,7-7,12 0,8 2,12 9,1 12,-5 9,5 15,4 9,2 6,6 15,2 8,-4 9,7 7,14 13,8 12,-1 7,4 10,4 4,7 15,0 10,13 8,4 6,5 12,-2 11,-4 5,-7 12,0 7,1 10,0 6,3 0,1 9,2 14,8 8,1 4,-2-3,-4 0,-9-8,-7-2,-12-6,-5-3,-8-3,-9 1,-14 3,-9 5,-9-1,-12-6,-9 0,-7-9,-4-7,-5-3,-6-8,-8-5,-6-5,-5-8,-5-4,-5-11,-7-10,1-3,-6-3,-7-12,-6-6,-10-6,-11 2,-9 2,-13-1,-7 0,-2z"/>
<path fill="#4fa34a" d="M7399,4640l9,2 9,4 11,9 12,10 14,2 13,5 9,10 11,4 15,2 10,-1 15,4 12,9 14,5 7,2 8,3 15,-2 0,-1 8,-8 8,-3 5,-7 9,-3 3,-10-3,-13 2,-6 6,-8 6,-12 3,-13 9,-9 5,-7 2,-9 1,-9-1,-16-2,-10 1,-11 3,-8 1,0-1,0-1,-10 2,-11 1,-7-2,-9-2,-8-5,-12 1,-13 5,-11 2,-12-1,-9 0,-7 2,-4-1,-6-7,-7-3,-7-3,-6 1,-11 0,-1-4,-1-8,0-13,0-14,-3-11,5-11,-3-9,3-14,4-8,9-6,9-8,8-9,4-6,14-11,8-15,1-12,2-6,6-9,3-15,3-15,0-6,8 0,7 3,12-6,8 0,9-7,7-5,4 0,1-2,9-4,11 1,8 0,9-2,10 1,14 7,14-2,9-7,8 0,1 1,10-6,8z"/>
<path fill="#b1b5cb" d="M7648,4436l0,7 1,9-2,12-5,11-1,13 5,12 2,8 2,9-1,7-2,11 1,10-3,8-1,11 2,10 0,16 0,9-2,9-5,7-9,9-3,13-6,12-6,8-2,6 3,13-3,9-9,4-5,7-8,2-8,9 1,2 7,3 10,2 14,5 12,-1 8,2 16,0 11,-1 11,4 12,6 10,5 8,0 12,1 7,5 11,-2 8,-3 14,5 11,-8 6,-7 9,-16 11,-7 13,-11 8,-17 7,-11 4,-10 2,-15 8,-5 4,-9 7,-7-1,-2 2,-11-4,-6 0,-8-5,-8-7,-2-3,-7-2,-7-12,-7-6,-5-9,-4-14,-1-10,-1-6,-3-13,-5-5,-5-8,-1-7,-3-10,-2-6,2-9,-1 0,-7-7,-8-4,-9-7,-4-8,-5-4,-7-6,-5-5,-5-5,-13-8,-10-6,-10 0,-8 1,-7-1,-1z"/>
<path fill="#f8cf8e" d="M6807,4803l2,-7 5,-9 2,-10 8,-9 6,-9 4,-10 13,-9 11,-5 3,-11 9,-9 6,-11 1,-9 5,-6 1,-13 7,-11 10,-8 9,-7 0,-1-4,-11 3,-15-6,-8-2,-12 4,-11 4,-7 4,-11-3,-7-9,-5-6,-3-9,2-9,-1-8,7-9,1-8,0-6,-9-11,-4-15,-2-1,0-10,11-8,4-10,5-6,3-8,4-10,0-10,1-11,-2-11,-9-6,2-9,3-9,-3-12,1-13,-7-13,0-8,-5-11,-6-1,0-8,0-7,0-10,4-4,9-1,11-2,13-1,11 3,8 11,12 7,6 5,13 9,11 5,6 5,7-2,8 3,9-4,12-3,6 0,11-2,13 3,8-3,13 5,8-7,13 14,5 15,-3 10,4 12,2 6,12 7,5 6,6 6,10 12,6 5,8 4,6 15,-5 12,3 4,-9 9,-7 7,-6z"/>
<path fill="#7aba5c" d="M6909,4649l0,1 13,9 10,12 6,13 10,7 9,7 10,10 4,10 1,0 5,5 5,8 0,15 10,4 8,8 11,11 9,2 10,8 13,3 4,7 7,5 10,-6 14,-8 8,-4 11,1 1,0 10,-2 5,-5 7,-8 1,-9 6,-8 7,-3 8,-5 14,-7-4,-12-5,-9-8,-12 0,-7-5,-11 0,-14 0,-8-1,-10-1,-16 1,-8 6,-8 1,0 1,-8 0,-11-13,-2-5,-7-1,0-11,-3-14,-4-14,-6-6,-12-1,0-8,-2-8,-5-8,0-10,-5-13,-5-11,-1-13,1-8,-4-12,-3-8,-7-9,2-7,2-13,6-9,10-10,11-9,5-11,0 3,7-4,11-4,7-4,11 1,12 6,8-2,15z"/>
<path fill="#4fa34a" d="M7141,4596l0,11-2,8-6,8-1,8 1,16 1,10 0,8-1,14 0,1 6,10 0,7 8,12 5,9 4,12 14,-1 8,5 10,3 11,9 5,7 9,6 14,0 6,6 11,2 12,8 9,3 7,6 10,2 9,-5 9,-2 9,-10 5,-7 6,-4 7,-11 6,-8 7,-9 0,-15 10,-5 4,-7 4,-12 3,-7 3,-9 5,-14 5,-9 8,-4-11,-4-8,-7-7,-11-5,-8 0,-1-11,-1-11,5-10,-6-8,-4-11,-7-9,-3-7,-1-9,-4-11,3-8,-10-4,-14-6,-11-8,-5-8,-4-13,-1-7,11-10,6-8,4-6,7-10,3-8,2-6,8-11,1z"/>
<path fill="#fce4ae" d="M7374,4651l-5,10-5,14-3,9-3,7-4,12-4,6-11,6 0,15-6,9-7,8-6,11-6,4-5,7-9,10-9,2-9,5-6,15-2,10 3,10-3,9-3,10 1,7-2,10-5,8 1,10 6,11 0,1 9,4 9,5 6,8 1,7 10,4 9,6 8,1 8,3 14,3 11,1 11,3 13,-1 8,-2 13,-5 10,6 8,1 9,1 7,5 14,5 13,-1 7,-8 7,-3 7,-12 10,-3 7,0 0,-1 7,-9 7,-6 7,-2 9,0 1,0 6,-4 3,-14-1,-8-2,-9 7,-10 4,-8 5,-9-4,-13 0,-9-1,-6-3,-10-4,-12 5,-7 3,-14 12,-9 0,-10 5,-12 11,-8 3,-6 0,-1 3,-9 0,-1-1,-1-15,3-8,-3-7,-3-13,-4-13,-10-15,-3-10,1-15,-2-11,-4-9,-10-13,-5-14,-2-12,-10-10,-9-10,-4-9,-2-12,2-5,6z"/>
<path fill="#efa768" d="M7755,4740l-14,-5-8,3-11,2-6,-6-1,0-12,0-8,0-10,-5-12,-7-11,-3-11,0-16,1-8,-2-12,1-14,-6-10,-2-7,-3-3,10-3,7-11,8-5,12-1,10-11,9-3,13-5,8 3,12 4,10 1,6-1,9 5,13-5,9-4,8-7,10 2,9 1,8-3,14 4,9 8,8 10,5 6,4 11,3 8,7 1,0 14,-3 12,-4 9,1 12,-3 9,-3 10,1 11,8 10,1 15,1 6,5 11,0 10,-1 6,-1 9,-3 9,-9 14,-6 10,-9 5,-12 0,-1 6,-14 4,-13 6,-6 2,-11 1,-10 1,-16-3,-7-9,-6 2,-13-4,-13-4,-8-7,-4-1,-12-2,-9z"/>
<path fill="#4fa34a" d="M6807,4803l2,12 10,9 15,4 12,9 4,6 9,6 9,9 4,7 9,6 15,5 7,0 10,-3 9,3 9,-2 12,1 9,12 10,5 12,10 12,5 16,-1 9,-5 7,-4 6,-9 7,-6 8,-7 0,-11 1,-10 5,-12 7,-10-1,-15-1,-10 4,-13-7,-5-4,-7-13,-3-10,-9-9,-1-11,-11-8,-8-10,-4 0,-15-4,-8-6,-5-5,-10-10,-10-9,-7-9,-7-7,-13-10,-12-13,-10-9,8-10,8-7,11-1,13-5,6-1,9-6,11-9,9-3,11-11,5-13,9-4,10-6,9-9,9-1,10-5,8z"/>
<path fill="#4fa34a" d="M7156,4730l-14,6-8,6-7,3-6,7-1,10-8,8-4,5-11,2-11,-1-8,4-14,8-10,6-4,13 1,10 1,15-7,10-5,12-1,10 0,11 7,4 8,8 2,14 8,9 9,3 8,9 10,10 12,1 11,4 10,0 7,2 12,4 9,5 7,9 13,2 1,0 5,-7 8,-2 13,-4 10,-4 13,3 8,-4 6,-5 2,-9 0,-8 11,-8 4,-13 4,-14 9,-9 0,-10 4,-8 2,-10-1,-7 4,-10 2,-9-3,-10 3,-10 5,-15-10,-2-7,-7-9,-2-12,-8-11,-2-6,-6-14,-1-9,-5-4,-7-12,-9-10,-3-7,-6-1,0z"/>
<path fill="#fce4ae" d="M7236,4936l7,8 4,13 8,7 4,9 4,12 9,13 4,9 8,8 8,7 8,3 5,7 7,7 4,9 4,5 9,3 8,5 15,-2 11,4 12,2 2,-8 4,-9 3,-12 1,-8 6,-7 6,-4 6,-10 4,-7 4,-9 8,-3 10,-6 11,-6 4,-11 8,-7 5,-11 6,-6-13,1-14,-5-6,-5-10,-2-8,0-10,-6-13,5-8,2-13,1-11,-4-11,0-13,-3-9,-3-8,-1-8,-6-10,-4-2,-7-6,-8-9,-5-9,-5-6,-11-10,9-3,14-5,13-10,8 0,8z"/>
<path fill="#e6f1b6" d="M7374,5065l1,0 8,2 6,6 4,12 7,7 6,14 12,8 6,9 3,9 14,1 7,3 10,-2 10,-1 10,-1 15,-1 11,6 7,5 7,5 6,4 8,5 4,7 7,-8 14,-6 8,-8 8,-3 10,1 12,-2 11,-6 7,-4 0,-1-3,-11 3,-8-7,-11 2,-11 0,-16-7,-12-9,-7-6,-10-1,-8 0,-1-8,-13 0,-14-2,-9 4,-12 8,-6 5,-10-4,-7-3,-9-6,-13-4,-11-9,-8-6,-5-10,-4-8,-8-4,-9-7,4-9,0-7,2-7,6-7,9-7,1-10,3-7,12-7,3-7,8-6,6-5,11-8,6-4,12-11,6-10,6-8,3-4,9-4,7-6,10-6,3 0,1-6,7-1,8-3,12-4,9z"/>
<path fill="#c8e39c" d="M7739,4919l-9,9-9,3-6,1-10,0-11,1-6,-5-15,-1-10,-1-11,-8-10,-1-9,3-12,3-9,-2-12,5-14,3-9,-7-11,-3 9,8 4,11 5,13 4,9 4,7-6,10-7,6-4,12 2,9 0,14 8,14 1,8 5,10 10,7 7,12 0,16-2,11 7,11-3,8 2,11 0,1 9,2 9,-3 13,4 7,6 4,-13 8,-5 4,-9 6,-8 8,-6 6,-13 8,-5 6,-3 9,-6 7,-3 7,-5 10,-5 7,-11 10,-9 9,-4 7,-3 13,-5 12,1-7,-10-5,-6-3,-9-6,-12-1,0-10,-10-6,-9 0,-15-6,-13-1,0-7,-11z"/>
<path fill="#e6f1b6" d="M6751,4828l-4,-6-5,-8-12,-6-6,-10-6,-6-7,-5-6,-12-12,-3-10,-3-15,3-14,-5-7,-1-10,6-13,3-10,11-13,5-13,1-8,4-8,5-11,7-11,4-7,6-8,2-11,6-11,4-7,9-14,4-6,7-2,10 1,15 6,13-3,12 0,7 12,7 8,3 7,7 7,5 6,6 6,12 9,-2 7,1 11,1 10,5 7,1 9,1 6,6 9,5 8,13 12,6 7,-3 10,-8 9,-2 8,-4 14,1 8,2 16,3 10,-1 8,4 9,-7 5,-7 5,-9 11,-10 4,-10-1,-16 8,-12 5,-5 7,-7-1,-8-1,-9-2,-10-9,-9 2,-10-1,-8z"/>
<path fill="#7aba5c" d="M6402,4983l2,11-4,9 0,8 9,11 3,13-3,13 2,11-2,8-8,7-5,11 1,0 9,-3 14,-2 10,-2 9,-3 7,-3 15,5 10,6 14,3 9,4 3,10 11,11 7,5 7,5 8,4 14,3 12,7 13,0 1,0 0,-1 3,-11 5,-7-1,-12-3,-10-1,0-9,-9-2,-11-6,-8-3,-6-4,-8 1,-8 2,-11 0,-9 3,-7-2,-13 2,-9-3,-8-6,-6-1,-11-1,-13-10,-10-6,-12-6,-6-6,-5-8,-7-8,-3-12,-7-11,4-10,4-12,10-4,6-3,9-8,8-9,3-9,4-6,6-5,10z"/>
<path fill="#4fa34a" d="M6944,5334l10,0 12,0 13,-4 9,-2 0,-9 5,-9 3,-9 6,-7 10,-4 9,-3 6,-12 11,-12-7,-12-8,-9-6,-12-12,-5-11,-6-11,-11-4,-13-9,-5-5,-7-9,-6-4,-8-3,-3-1,0 0,8-5,8-2,14-7,7-3,9-9,8-9,9-3,10-1,0 1,8-4,10 0,12 5,7-5,8-2,12 4,14-2,12-9,-2-12,-4-4,-7-7,-7-3,-11-2,-7-4,-9-8,-7-11,-2-7,-4-7,0-11,-2-5,-8-7,-4-8,-9-13,7-8,6-13,4-10,9-12,4-2,10-3,7-11,9-6,7-8,2-8,7-3,13-6,6-1,9 8,7 7,6 7,7 10,4 11,-1 14,0 14,2 10,9 6,8 12,8 13,0 7,4 10,1 13,3 7,7 9,4 9,9 4,-10 5,-7 10,-10 9,-5 1,-14 4,-14 8,-8 9,-14 12,5 10,-5zM6909,5030l-11,-5-12,-6-7,-1-9,1-11,2-7,0-5,-4-9,-4-10,-7-14,-3-3,-6-6,-7-13,-6-6,-11-11,-5-10,-12-11,-5-12,-8-11,10-5,9-6,7-8,7-2,10-5,11-6,12 1,12-2,8-3,14-5,7-2,13-2,10-3,16 3,13 0,8 10,4 8,2 13,4 16,-1 9,6 9,0 6,9 10,5 8,7 5,9 8,4 7,2 9,-8 7,-5 10,-3 12,-6 13,0 8,0 12,-4 7,-5 10,-6 7,-9 9,-1 6,-4 9,-4 8,-7 11,-7 3,-7 4,-8-2,-15 4,-11-1,0-3,-6-7,-8-14,-3z"/>
<path fill="#4fa34a" d="M6807,4803l-9,1-7,5-9,8-4,9-12,-4-15,6 1,11 2,8-2,10 9,9 2,10 1,9 0,8-6,7-5,5-9,12 2,16-4,10 12,8 11,5 10,12 11,5 6,11 12,6 7,7 3,6 0,1 14,2 10,7 9,4 5,4 8,0 10,-2 9,-1 7,1 12,6 11,5 8,4 14,4 7,-10 6,-6 3,-11 6,-10 6,-4 9,-10 4,-7 9,-5 1,0 4,-11-1,-15 1,-10 1,-12-1,-9 0,-11-11,-5-13,-10-10,-5-9,-12-12,-1-9,1-8,-2-1,0-10,3-7,0-15,-5-9,-6-4,-8-9,-8-9,-6-4,-7-11,-9-1,0-15,-3-10,-10z"/>
<path fill="#c8e39c" d="M7173,4959l-1,0-13,-2-7,-9-9,-6-12,-3-7,-2-10,0-11,-4-12,-1-10,-10-8,-9-9,-3-8,-9-1,-14-9,-8-7,-4-8,7-7,6-6,9-7,3-10,6-15,1 0,11 1,9-1,12-1,10 1,15-5,11-9,5-4,6-10,11-5,4-6,10-3,11-6,6-7,9 0,1 7,7 3,6-3,11 2,15 11,-3 8,1 14,8 8,-1 8,-6 11,-6 12,-3 9,1 15,3 10,-4 11,5 7,9 13,7 10,0 11,4 12,0 8,0 8,6 8,-14 8,-9-1,-14 4,-9-9,-13 4,-9-3,-13 10,-6 5,-11 4,-8-1,-12 11,-6 4,-10z"/>
<path fill="#fdf9c4" d="M7236,4936l-6,5-8,3-13,-2-1,0-9,4-13,3-8,3-6,7-3,5-3,9-11,7 1,12-5,7-4,12-10,6 3,13-4,9 9,13-4,9 1,14-8,8-8,15 2,13 5,12 10,6 9,11 12,10 6,5 6,6 0,1 8,-1 11,0 11,7 4,-10 11,-10 2,-13 5,-8 6,-8 6,-5 9,-7 12,-6 12,-4 8,-7 12,-1 12,-5 11,-5 12,0 9,-1 9,-8 10,-4 7,-3-11,-5-15,3-8,-5-9,-3-4,-6-4,-8-7,-7-5,-8-8,-2-8,-7-8,-8-4,-9-9,-13-4,-12-4,-9-7,-7-5,-13z"/>
<path fill="#fdf9c4" d="M7363,5063l-7,2-10,5-9,8-9,1-12,0-11,5-12,5-12,1-8,7-12,3-12,7-9,7-6,5-6,8-6,8-2,13-10,10-4,9 0,1 13,8 6,7 10,5 3,7 5,7 4,7 4,10 0,13 8,14-7,10-1,9 1,11 6,8 4,8 2,7 9,3 14,5 8,-3 9,1 9,-3 5,-6 14,-1 1,-13 7,-11 1,-11 0,-7-1,-14 4,-14 8,-5 5,-14 1,-10 5,-10 6,-5 8,-8 12,-5 7,-11 11,-3 7,-6 7,-6 6,-10-3,-9-6,-9-12,-8-6,-14-7,-8-4,-11-6,-7-8,-1z"/>
<path fill="#f5be7e" d="M7332,5295l10,4 13,1 9,4 6,4 16,1 13,2 8,-4 11,1 9,5 11,1 13,7 6,6 7,6 13,9 11,6 14,1 11,-3-1,-14 3,-11 3,-12 9,-7 3,-11 5,-11 0,-1-1,-12 2,-9 0,-11 3,-11-1,-9 3,-8-1,-10-1,-11-6,-10-2,-10 5,-15-4,-7-7,-5-7,-4-6,-5-8,-5-11,-6-15,1-10,0-10,2-10,2-7,-3-14,-1-6,10-7,6-8,6-10,3-7,10-12,6-8,8-6,5-5,10-2,10-4,14-8,5-4,14 1,14-1,7 0,11-8,11z"/>
<path fill="#7aba5c" d="M7037,5263l1,0 11,-1 10,-6 15,-5 9,-9 8,-3 5,-13 9,-12 0,-1 5,-10 12,-7 1,-16 6,-7 2,-7 5,-15 8,-6 8,-5-9,-12-10,-6-4,-11-3,-13 0,-1-8,-5-8,0-12,0-11,-4-10,0-13,-8-6,-8-1,0-11,-6-10,4-15,-3-9,0-12,3-11,6-8,5-8,1-14,-8-8,0-11,3-4,8-3,7 3,14-1,8 0,9 5,11-2,12 4,8 4,9 6,6 4,8 9,6 5,7 9,5 4,13 11,11 11,6 12,6 6,11 8,9z"/>
<path fill="#fdf9c4" d="M7059,5256l8,6 5,5 10,0 15,4 8,7 10,4 8,14 13,6 14,-1 7,1 7,9 13,10 10,7 5,8 6,9 0,8 15,-4 10,-4 8,-5 7,-13 10,-5 12,-12 5,-11-3,-7-4,-8-6,-8 0,-11 0,-9 7,-10-8,-14 0,-14-4,-9-4,-7-5,-7-2,-7-11,-5-5,-7-1,0-13,-9-11,-6-11,0-8,0-6,-6-6,-5-12,-10-8,5-8,6-5,15-2,7-7,7 0,16-12,6-5,11-9,12-5,14-8,3-9,9z"/>
<path fill="#4fa34a" d="M6906,5322l2,-12-4,-14 2,-12 5,-7 0,-1-4,-7-1,-12 4,-10 0,-8 4,-10 8,-9 9,-8 3,-8 7,-8 2,-13 5,-8 1,-15 1,-7-5,-10 4,-13-10,-11-3,-13-3,-14-11,7-8,7-9,4-6,4-9,1-7,9-10,5-7,6-12,4-8,-1-13,0-12,6-10,3-7,6-9,8 5,9-1,8-2,11-5,8 2,12-4,8 3,15 8,7 8,9 7,4 5,8 11,2 7,0 6,4 11,3 9,7 4,8 1,7 3,11 8,7 4,7 12,5z"/>
<path fill="#7aba5c" d="M6379,5104l-3,14 1,12-4,10-3,8-3,10 0,8 0,12 9,7 3,14 11,8 5,10 8,4 7,1 11,9 3,7 3,8 13,-2 11,-5 8,-9 12,-9 14,-7 9,3 9,-3 10,-11 3,-7 7,-7 10,-2 9,-6 10,-7 8,-8 2,-7 4,-14 3,-11-13,1-12,-7-14,-3-8,-4-7,-6-7,-4-11,-11-3,-10-9,-4-14,-3-10,-6-15,-6-8,4-8,3-10,2-14,2-9,3-1,0-8,13z"/>
<path fill="#b1b5cb" d="M7755,4740l5,9 2,9 1,12 7,4 4,8 4,13-2,13 9,6 3,7 14,0 11,5 8,-4 9,-2 10,2 15,3 10,-4 13,0 13,8 5,8 4,7 9,3 7,4 7,9 13,3 11,-2 2,-10 5,-11 9,-12 1,-11-1,-10 5,-10 7,-12 4,-8 2,-8 9,-12 12,-1-2,-1-2,-6-9,-5-9,-2-5,-5-11,-7-11,-2-4,-12-5,-6-6,-10-5,-5-11,-3-7,-4-5,-9-14,0-5,-6-10,-5-6,-12-6,-9-7,-4-11,-3 0,-9-5,-9-1,-5-7,7-4,9-8,5-2,15-4,10-7,11-8,17-13,11-12,6-8,17-7,7z"/>
<path fill="#b1b5cb" d="M7947,4861l5,15-1,10-5,7 2,8 6,10 2,7 5,9 226,79 6,-5 2,-6 4,-10 4,-11-5,-7 1,-8-2,-11-3,-7-10,-9-7,-6-1,-9 1,-6 3,-8 4,-6-2,-13 1,-7-4,-8-7,-6-6,-7-13,-3-8,-10-5,-12-6,-6-5,-8-9,-8-3,-9-8,-4-7,0-6,-3-7,-4-11,0-8,4-11,-6-9,-3-10,-5-8,-5-11,-7-8,-2-4,-6-8,-3-11,0-9,13-2,7-4,9-7,12-6,10 2,10-1,11-9,12-5,10 0,1z"/>
<path fill="#efa768" d="M7788,4821l-1,16-1,10-2,11-6,5-4,14-6,14-6,13-9,9-14,6 0,10 7,11 7,13 0,15 6,9 10,10 7,12 3,9 5,6 7,10 13,2 7,1 11,8 10,3 15,-3 13,4 10,-10 9,0 12,-3 12,-10 9,-2 7,-6 8,-7 13,-8-4,-13 3,-10-1,-14 5,-6 9,-11 10,-12-6,-9-2,-7-5,-10-3,-8 5,-7 1,-10-5,-15-11,2-13,-3-7,-10-7,-3-8,-3-5,-7-5,-9-13,-7-13,0-10,4-15,-3-10,-3-9,3-8,4-11,-5z"/>
<path fill="#efa768" d="M7872,5270l2,1 3,-9 6,-6 7,-7 11,1 8,4 2,-1 0,-1 3,0 4,-3 10,-2 6,-2 8,-5 10,-5 8,-7 9,-9 10,-8 3,-6 8,-9 3,-10 8,-7 11,-7 10,-7 7,-6 1,-9 3,-8 6,-11-2,-9-5,-7 0,-7 4,-6 7,-3 4,-9 2,-11 4,-11 5,-7 8,-2 7,-5 4,-9 12,-6 10,8 10,8 8,2 8,3 9,3 7,-2 10,1 8,7 5,-6 8,-9 2,-7 5,-8 4,-12 3,-10 1,-10 0,-1-225,-79-1,0-9,12-9,10-5,7 1,14-3,10 4,13-13,7-8,8-7,6-10,2-11,10-12,2-9,1-11,10-1,11 6,14-5,8 0,10-4,7 1,10-1,10 2,8 0,11-7,14 3,12 8,11 4,7 2,9-1,15-6,15-3,9 2,8 0,12 0,9 0,1 7,7z"/>
<path fill="#fdf9c4" d="M7650,5136l7,13 5,10-1,12 6,8 6,9 8,6 13,3 16,1 14,7 8,4 12,2 12,7 9,0 12,8 9,1 11,0 7,-4 10,5 7,1 9,4 10,4 9,8 11,5 0,-1-1,-9 0,-12-2,-8 3,-9 6,-15 1,-15-2,-10-4,-6-8,-12-3,-11 7,-14 0,-11-2,-8 1,-10-1,-10 4,-7 0,-10 5,-8-6,-14 2,-11-13,-4-15,3-10,-3-11,-8-7,-2-13,-1-12,-1-13,5-8,2-8,5-10,8-7,12-11,5-6,5-8,3-8,6-6,3-8,5-6,13-9,6-5,8-4,9-8,5z"/>
<path fill="#7aba5c" d="M5530,5394l13,1 14,5 12,8 3,10 11,10 6,8 1,0 11,4 9,1 11,5 5,9 11,11 1,0 8,0 10,4 4,-7 3,-9 7,-8 8,-1 7,-2 10,-2 9,-7 8,-3 9,-4 9,-10 3,-11 12,-4 9,-12 9,-3 9,-2 1,-8 6,-7 0,-1 2,-13 8,-8 2,-11-5,-11 2,-7-3,-11-9,-5-15,-1-5,-7-6,-5-3,-8-5,-7-5,-11-15,2-12,0-6,-4-12,-5-16,-3-7,3-1,0-10,5-11,2-11,-2-10,-5-9,-6-8,-1-9,-5-9,1-3,0 0,1 1,8-7,3-5,8-2,12-5,12-1,8-3,8 1,8 6,7-6,8-2,8-1,11-3,7-7,4-12,6-11,7-9,9-2,9-1,2z"/>
<path fill="#7aba5c" d="M5849,5550l-5,-4-4,-10-6,-8-3,-11-8,-12-5,-7 0,-9 2,-8 6,-7 1,-12-2,-9-6,-5-7,-8-7,-10-5,-8-8,-11-8,-12-8,-6-4,-8-9,1-9,4-9,11-12,5-3,11-9,9-9,5-8,3-9,7-10,2-8,1-7,2-7,8-3,9-4,7-10,-4-8,0-12,-11-5,-9-11,-5-9,-1-11,-4-7,-8-11,-11-3,-9-12,-8-14,-5-13,-1-11,-2-1,8 2,8 2,6 7,6 2,10 2,8 3,8-3,7 3,8-6,9-7,8-10,6-3,9 2,6-6,11 1,8-2,8-1,14 6,10-1,13 4,12-2,8-3,12-1,8-5,6-2,11 3,6 181,-30 11,11 7,-14 11,-8 11,-9 10,-2 12,1 12,-2 16,-4 7,-8 13,-7 11,-2 13,-1 9,-1 7,3 9,7 9,3 9,0-6,-6z"/>
<path fill="#c8e39c" d="M5695,5607l-11,-11-181,29 0,1 1,9-8,7 0,8-2,10 1,12 4,8 6,6 4,10 8,3 6,8 5,11 2,11 7,5 7,1 10,8 10,7 9,2 7,-3 7,-7 6,-5 6,-6 14,-1 8,-8 9,-3 8,9 7,4 10,3 4,8 11,6 11,0 8,3 13,3 4,-2z"/>
<path fill="#e6f1b6" d="M5943,5605l-6,-13-11,-9-10,-5-8,-5-6,-9-7,0-9,-3-13,-3-12,5-9,0-9,-3-9,-7-7,-3-9,1-13,1-11,2-13,7-7,8-16,3-12,3-12,-1-10,2-11,9-11,8-7,14 10,146 3,-1 7,-4 5,-6 9,-3 11,-4 10,-1 6,-6 8,-3 6,-2 10,4 9,0 10,-8 11,4 7,2 9,1 6,8 6,4 12,-7 11,-5 8,-1 10,4 8,0 10,-2 11,-3 8,2 8,-1 12,-3 7,-3-1,-6 2,-8 9,-7 2,-9-8,-6-10,-3-9,-4-7,-7-6,-2-9,2-8,0-9,4 4,-8 0,-12 1,-13 5,-10 5,-3 9,-4 8,-7 8,0 9,-3 8,-2z"/>
<path fill="#7aba5c" d="M5861,5563l12,-5 12,3 10,3 7,0 6,9 8,6 10,4 10,9 1,0 5,-11 3,-7 5,-11 11,-8 3,-8 5,-8 2,-11-4,-10-4,-15-2,-7 2,-10-1,-11-4,-8 1,-13-4,-8 0,-9 9,-7 4,-7-1,-12 2,-15-14,-1-13,2-10,-2-10,-6-4,-9-7,-5-12,-5-16,2-8,6-7,2-9,3-11,2-9,-5-8,-1-10,-6-4,-8-9,-5-1,-9-7,-7-9,-7-2,11-8,8-2,13-6,8-1,8 4,8 8,6 8,12 8,11 5,8 6,10 8,8 6,5 2,9-2,12-5,7-2,8 0,9 5,8 7,11 4,12 6,7 4,10 5,4 6,7z"/>
<path fill="#f8cf8e" d="M6020,5215l-9,1-8,4-9,1-14,-2-7,8-6,7-12,6-11,8-14,1-10,-1-16,-1-10,3-6,4-9,6-8,-1-16,-1-14,-8-11,-6-8,-1-7,11-3,8-8,12-4,13-3,10-4,5-8,6 3,11-3,7 6,11 9,7 6,7 2,9 9,5 4,8 10,6 8,1 9,5 11,-2 10,-2 6,-2 8,-7 16,-2 12,5 7,5 4,10 10,5 10,2 13,-1 14,1 10,-6 11,-12 5,-8 2,-13 6,-3 10,-4 14,-4 0,-1-2,-10 3,-8 2,-10-2,-14-1,-14-6,-9 0,-7 3,-12 2,-13 4,-14-5,-9z"/>
<path fill="#4fa34a" d="M6159,5396l-12,-5-8,-1-8,-2-9,-5-6,-4-9,-4-12,-5-16,1-10,-8-10,-3-10,-7-7,-1-7,-5-1,0-7,-1-14,5-10,4-6,3-2,13-6,8-10,12-10,5-2,15 1,12-4,7-9,7 0,9 4,8-2,13 1,0 4,8 1,11-2,10 2,7 4,15 4,10-2,11 8,3 14,4 11,0 7,-5 8,2 13,1 8,-6 6,-3 11,-6 7,-8 11,1 11,0 9,-1 8,-4 11,-5 16,-3 14,-5 8,-1 9,-8 5,-9-1,-14-8,-12-3,-12 1,-14 0,-7-5,-8 8,-11z"/>
<path fill="#4fa34a" d="M6159,5495l-9,8-8,1-15,5-15,3-11,5-8,4-9,1-11,0-11,-1-1,0-6,8-11,6-6,3-8,5-13,0-8,-2-1,0-6,4-11,1-14,-4-8,-3-5,8-3,8-11,8-5,11-4,7-5,11 7,14 2,5 4,-1 9,2 5,8 6,4 8,0 11,-1 11,-3 5,7 10,7 12,5 13,1 9,1 9,-4 11,3 9,5 8,6 5,9 6,11 8,5 5,3 6,-2 6,-7 7,-6 10,-3 5,-4 6,-6 10,-1 11,0 7,-1 12,0 8,9-3,-8-7,-9-8,-11 3,-10 4,-6 5,-11 8,-3 8,6 3,13 7,2 7,6 10,2-5,-12-1,-10-1,-12 0,-10-5,-7-6,-8-5,-8-7,-11-1,-14-11,-9-1,0-10,-4-7,-11-5,-6z"/>
<path fill="#fdf9c4" d="M6202,5224l-7,-3-7,-6-8,-6-7,-3-9,-5-15,1-9,-1-11,-8-11,0-1,0-11,9-8,-4-8,-2-13,4-10,-1-12,-1-9,3-7,-2-1,0-10,2-8,14 5,11 4,9-3,14-2,13-3,12 0,7 0,1 6,8 1,14 1,14-1,10-3,8 2,10 0,1 7,0 8,5 7,1 10,7 10,4 10,8 16,-2 12,5 9,4 6,5 9,4 8,2 8,1 12,5 5,-12 5,-8 5,-5 10,-4 6,-7 3,-9 10,-8 6,-8 8,-2 13,-8 11,-1-2,-14 1,-9 2,-10-2,-7-5,-15-7,-7-8,-14-7,-10-6,-8z"/>
<path fill="#7aba5c" d="M6385,5480l-5,-14 2,-10-1,-12 0,-1-8,-10-6,-11-7,-13 3,-13-10,-5-7,-3-6,-7-3,-11-5,-6-7,-9-7,-7-10,1-15,-4-7,-3-7,-8-10,-1-15,1-8,-5-5,-5-11,1-13,8-8,2-6,8-11,7-2,10-6,7-10,4-5,5-5,8-5,12-3,12-9,11 6,8 0,7-1,14 3,12 8,12 1,14-5,9 9,12 6,7 6,10 11,4 12,9 1,14 7,12 5,7 10,-8 11,-1 11,1 10,2 7,0 10,4 12,-3 12,2 7,-2 5,-8 6,-4 5,-9 12,-5 9,-7 9,-1 8,-5 8,-9 2,-14 2,-11 7,-9z"/>
<path fill="#c8e39c" d="M6360,5526l-8,5-9,1-10,7-12,5-4,9-7,4-4,8-7,2-12,-3-12,4-9,-4-1,0-7,-1-10,-1-11,-2-11,2-10,8 6,8 5,7 0,10 1,12 1,10 5,12 2,0 9,4 10,2 8,9 8,2 8,4 9,1 5,4 12,-3 10,1 8,1 8,8 8,7 4,9 8,5 4,6 4,10 4,8 9,6 9,5 10,4 9,10 9,2 2,1 20,-59-4,-13 2,-10-2,-7-9,-6-10,-8-7,-7-9,-4-6,-11 0,-10-5,-8-4,-7-2,-9-2,-12-3,-12-1,-9-3,-9z"/>
<path fill="#c8e39c" d="M6385,5480l-6,3-7,8 0,1-2,11-2,14-8,9 6,8 3,9 0,9 4,12 2,12 1,9 5,7 5,8 0,10 5,11 10,4 7,7 10,8 8,6 3,7-2,10 4,13 15,-3 9,2 10,-4 13,-2 11,2 6,-5 10,0 7,-5 10,-2 11,-9 9,-1 12,-5 5,-11 6,-7 12,-8 7,-4 4,-10 4,-7 9,-5 15,-3 9,-2 7,1 14,2 9,-11-8,-7-3,-13-1,0-6,-7-5,-12-3,-9-10,-8-6,-14-2,-15-5,-8-3,-6-8,5-14,1-11,-2-7,1-9,3-13,3-8,1-9,4-13,0-14,6-10,-8-8,-4-10,-1-6,-4-14,0-9,-6-10,-5-15,1-10,3-8,1z"/>
<path fill="#c8e39c" d="M6431,5675l0,1-20,59 8,4 11,3 7,5 5,7 9,-2 8,2 9,0 11,-5 9,4 9,1 11,0 12,-3 9,-2 6,3 9,4 3,11 7,7 6,8 7,1 12,6 10,6 5,8-2,7 4,9 6,5 44,-234-14,-2-7,-1-9,2-15,3-9,4-4,8-5,10-6,4-12,8-6,7-5,11-12,5-9,1-11,9-10,2-7,4-10,1-6,5-11,-2-13,2-10,4-9,-2z"/>
<path fill="#4fa34a" d="M6385,5480l12,0 8,-1 10,-4 15,-1 10,5 9,6 14,0 6,4 10,1 8,5 10,7 14,-6 13,0 9,-4 8,-1 13,-3 9,-3 7,-1 11,2 14,0 8,-6-3,-14 0,-9 7,-9 2,-9-1,-7-2,-10-8,-7-3,-12-1,0-10,-9-10,-3-5,-11-5,-5-9,-4-2,-15-8,-11-9,-1-9,-9-6,-10-5,-12-11,2-12,4-14,-2-16,-4-9,-3-6,-6-13,4-6,8-7,5-7,5-8,-1-10,5-6,8-6,3-9,12-6,14-8,11 3,8-3,10-2,13 7,13 6,11 8,11 1,12-2,10z"/>
<path fill="#a0cf76" d="M6655,5579l-9,11-44,234 4,4 8,6 3,7-1,9 4,9 12,1 14,0 8,3 6,3 10,2 10,1 2,7-1,7 3,12 6,8 10,6 10,1 11,-2 7,-7 12,-2 0,-7 2,-7 7,-7 3,-10 4,-10 5,-7 9,-7 6,-4 4,-11 2,-9 0,-8 1,-10-4,-5-2,-8-3,-10 1,-7 7,-6 4,-8 4,-9 13,2 9,-1 8,-1 11,7 8,7 13,4 12,-3-13,-5-8,-9-11,-11-12,-7-11,-9-11,-6-9,-6-12,1-10,-3-1,-12-5,-7-5,-6-7,-7 4,-15 0,-9-5,-7-5,-6-8,-6-4,-12-8,-11-10,-3-6,-8-7,-9-8,-5-12,-1-8,-4-9,-3z"/>
<path fill="#e6f1b6" d="M6655,5579l8,0 9,3 13,-1 9,-2 10,-3 8,-5 7,-1 12,-9 3,-9 9,-7 7,-10 3,-10 3,-7 8,-4 7,-7 11,0 1,0 8,-5 11,1 15,3 14,-6 12,-9 10,-4 11,-3-3,-9 1,-7-2,-11 3,-11-2,-8 3,-12 0,-9-9,-9-9,-5-7,-6-13,-3-10,-1-7,-4-13,0-12,-8-6,-8-10,-9-14,-3-14,1-11,1-10,-4-7,-7-7,-6-8,-7-8,3-6,7-8,8-10,3-12,-2 0,1-2,6-8,7-3,8-8,10-9,11-4,11-1,16-9,11-3,9-6,9 0,9 3,14 3,6 5,8 1,15 7,14 10,8 3,9 5,12 6,7 3,13z"/>
<path fill="#4fa34a" d="M6672,5581l0,1 8,3 12,1 7,5 8,9 6,8 10,3 8,11 4,12 8,6 5,7 5,6 0,9-4,15 6,7 6,6 5,7 1,12 10,3 12,-1 9,6 11,6 11,9 12,8 11,10 8,9 13,5 8,-1 13,2 6,-2 9,-4 7,-1 6,-9 6,-6 8,-5 6,-9 3,-10 7,-7 2,-10 4,-13-9,-13-3,-9-1,-7-7,-7-3,-12 2,-9-3,-7 4,-9 2,-12 0,-11 4,-8 2,-7-2,-9-4,-10-1,-6 4,-15-9,-10-11,-4-11,-4-11,-8-6,-7-2,-9-10,-8-10,-4-11,2-10,5-13,9-13,6-15,-3-11,-1-9,5-11,0-7,7-8,3 0,1-3,7-3,10-8,10-9,7-2,9-12,8-7,1-8,6-10,3-9,2z"/>
<path fill="#fdf9c4" d="M6914,5335l-9,14-8,8-4,14-2,14-8,5-10,10-5,7-4,10 0,9-3,12 2,8-4,10 0,1 3,11-1,7 3,9 10,4 10,8 2,9 6,7 11,8 11,4 10,4 9,10 1,0 8,-1 12,-2 12,-9 8,-6 3,-10 12,-8 7,-5 7,-5 12,-1 13,6 13,-7 11,4 10,-3 8,-6 11,-1 14,0 13,-7 8,-7-4,-7-5,-9-14,-7-7,-7-6,-6-9,-9-8,-6-7,-3-11,-9-4,-13-8,-12-10,-11-13,-8-13,-1-7,-14 2,-12 0,-1-4,-7-9,2-13,4-12,0-10,0-8,1-10,5z"/>
<path fill="#fdedb8" d="M7135,5473l-8,-3-11,0-8,7-13,6-14,1-11,1-8,6-10,2-11,-3-13,6-13,-5-12,1-7,5-7,4-12,9-3,9-8,7-12,9-12,2-8,1-1,0-3,15 1,6 4,10 2,9-2,7-4,8 0,11-2,12-5,9 4,7-3,9 4,12 0,1 6,6 2,7 3,9 9,13 8,-7 8,-3 12,-4 7,2 11,1 14,6 14,-3 10,1 12,-2 8,-3 10,-3 9,3 11,-2 9,0 1,0 7,-3 5,-9 14,-5 0,-1 7,-11-1,-10 2,-6-3,-10 4,-9 1,-6 8,-11 3,-11 1,-12 5,-9 3,-8-2,-8 0,-8 6,-14 2,-11-1,-12-8,-7-3,-6-2,-8z"/>
<path fill="#e6f1b6" d="M7225,5747l-10,-8-10,-4-8,-5-6,-6-4,-8-6,-12-10,-4-11,-8-6,-13-10,-10-11,-9-14,-3-14,6-5,9-8,2-9,0-11,3-9,-3-10,3-8,3-12,2-10,-1-14,2-14,-5-11,-2-7,-1-12,4-9,3-7,7-4,13-2,10-7,7-3,10-7,9-7,5-6,5-7,10 3,0 5,-4 7,-1 8,-4 7,2 6,3 11,-1 7,-4 8,9 6,12 6,7 1,8 2,8 7,6 9,4 4,7 11,8 10,9 6,12 6,-5 6,-3 13,-1 10,1 8,2 7,-4 12,1 11,3 7,-1 7,-4 9,-6 13,-3 5,-8 0,-7 4,-6 7,-4 2,-8 7,-10 9,-1 6,-6 12,1 9,-2 8,-1 6,-7 10,3 7,-4z"/>
<path fill="#c8e39c" d="M7038,5263l-1,0-10,11-6,13-9,2-10,5-6,7-3,9-5,9 0,9 4,8-2,12 7,14 13,1 13,8 9,11 9,12 4,13 10,9 8,4 8,5 9,9 6,6 7,8 14,6 4,9 1,0 4,7 11,0 8,3 5,-6 8,-4 1,0 4,-12 5,-8 10,-3 0,-12 5,-6 4,-7 4,-10 3,-12 6,-7 2,-8 5,-15 2,-10-1,-8-6,-9-5,-8-10,-8-12,-10-8,-8-7,-1-14,1-13,-7-8,-13-10,-4-8,-7-15,-4-10,-1-5,-4-8,-6-10,5z"/>
<path fill="#4fa34a" d="M7198,5353l-2,10-4,15-2,8-7,6 0,1-2,12-4,10-4,7-5,6 0,12-10,3-5,8-5,12-8,4-5,6 6,7 2,8 3,6 8,7 8,2 8,-1 8,-1 11,0 10,-3 6,1 10,9 13,1 8,3 12,0 10,9 7,9 8,3 11,7 9,-6 9,-3 5,-10 9,-7 7,-5 9,-3 16,-2 11,-1 10,-5 0,-1-2,-10 2,-7 5,-6 6,-8-1,-14-2,-10-2,-10-3,-9-4,-13-10,-9-6,-10-1,-8 0,-9-6,-8-7,-5-8,-12-2,-8-6,-6-6,-8-8,-10-4,-12-9,-1-8,3-13,-5-9,-3-1,0-5,11-11,12-10,4-8,14-8,5-9,3z"/>
<path fill="#ea9660" d="M7284,5540l-11,-7-8,-3-7,-9-10,-10-12,1-8,-3-13,-1-10,-9-6,-1-10,3-11,-1-8,2-8,1-8,-2 1,12-2,11-6,14 0,8 2,8-3,8-5,9-1,0-1,12-2,11-9,10 0,1-1,6-3,9 0,1 3,9-2,6 1,10-7,11 0,1 14,2 11,9 10,10 6,13 11,8 9,4 6,12 4,8 7,6 8,5 10,4 10,8 5,12 2,0 7,0 4,-9 10,-10 6,-6 6,-8 8,-3 6,-4 10,6 6,5 1,0 1,-4-6,-10-10,-10 3,-10-3,-10 9,-7 4,-6 6,-6 7,-14-2,-8 2,-8-3,-14-7,-7-2,-8-5,-7 0,-10 6,-10-1,-10-3,-7-5,-11z"/>
<path fill="#fbd9a0" d="M7369,5497l-1,0-9,5-11,2-1,0-15,2-9,3-7,5-9,7-5,9-9,4-9,6 3,13 5,11 3,7 1,10-6,10 0,10 5,7 2,8 7,7 3,14-2,8 1,8-6,14-6,5-4,7-9,7 3,10-3,10 10,10 6,10-1,4 8,0 10,1 8,0 6,-4 8,-6 7,1 6,-8 10,-5 6,-6 10,-4 14,-2 7,-5 7,-6 12,-2 9,-5 6,0 9,0 8,4 14,3 11,-2-1,-9-7,-14-3,-7-5,-7 3,-11-3,-11-1,-8-3,-10-5,-12-3,-14-1,-11-1,-10-4,-9 1,-8-6,-5-2,-10 0,-1-9,-5-8,-4-11,-8-11,-9-12,-3z"/>
<path fill="#fdf9c4" d="M7304,5305l4,12 8,10 6,8 5,6 2,8 9,12 7,5 5,8 0,9 1,8 7,10 10,9 4,13 2,9 3,10 2,10 0,14-5,8-5,6-2,7 1,11 1,0 11,1 12,2 6,-6 5,-6 3,-8 2,-8 4,-6 10,-5 8,-5 8,-2 9,-2 13,-5 11,-1 9,-1 9,-4 11,-8 14,-3 8,-6 4,-11 7,-7 8,-13-6,-7 0,-1-7,-5-4,-12-7,-8-4,-15-11,3-14,-1-11,-6-13,-9-7,-6-5,-7-14,-6-11,-1-9,-5 0,-1-11,0-8,3-13,-2-16,-1-6,-3-9,-4-13,-1-10,-4-14,1-5,5z"/>
<path fill="#ea9660" d="M7392,5501l11,9 11,8 8,5 9,5 2,11 6,4-1,8 4,9 1,10 1,11 3,15 5,11 3,10 1,8 3,11-3,11 5,7 3,7 7,14 1,9 1,0 8,4 8,-3 12,0 9,2 12,-3 7,-5 10,-7 6,-7 8,-11 9,-10 13,-2 8,-5 6,-7 11,1 8,-4 11,5 8,4 12,4 8,4 3,3 2,-4 0,-9 2,-15-8,-13 1,-6-2,-10 6,-9 0,-10-10,-9-7,-9-4,-5-7,-12 1,-13-1,-8 1,-8 0,-1-5,-7-6,-8-3,-10 3,-15-7,-14-5,-9-7,-8-4,-9-6,-5-5,-11-14,-7-11,-6 0,-1-13,-2-9,13-6,7-4,10-8,7-14,3-11,8-9,3-9,2-11,1-13,5-9,1 0,1-8,2-8,5-10,4-4,7-2,7-3,9-5,6z"/>
<path fill="#efa768" d="M7513,5346l3,15 8,8 4,12 7,6 6,7 13,3 11,6 14,7 7,-4 8,-2 8,-3 12,-2 12,-5 10,-3 9,-5 7,-5 0,-9 4,-10-3,-8-1,-13 11,-12-2,-12 3,-8 3,-10 4,-5 10,-6-3,-9 4,-9 4,-14-3,-15-4,-11 2,-8 3,-12 5,-6 5,-7-13,-3-8,-6-5,-9-6,-8 0,-12-5,-10-7,-13-7,-7-12,-3-1,0-9,3-9,-3-7,5-10,6-12,1-10,-1-8,4-8,8-14,6-7,8-5,15 2,10 5,10 2,11 0,10-2,8 1,9-3,11 0,11-3,9 2,12-5,12-4,11-8,7-3,12-3,11z"/>
<path fill="#66b054" d="M7579,5410l5,11 6,6 4,8 7,8 5,9 7,14-3,15 2,10 7,8 4,8-1,8 2,8-1,13 6,12 5,5 6,9 11,9 0,10-6,9 1,10 0,6 8,13-2,15 0,9-2,4 4,5 9,0 2,1 7,-4 8,-4 8,-9 2,-7 13,-5 10,-2 10,-5 2,-13-1,-7 1,-12 3,-7 7,-7 4,-8 11,-8 9,-8 9,-7 4,-8 7,-5 2,-15-2,-13-1,-12-5,-6-3,-15 2,-11 5,-9 8,-9 0,-7 5,-8 2,-12-15,0-10,-1-8,0-11,-7-11,-3-15,-5-10,3-9,-7-9,0-13,-2-11,-4-10,1-8,-4-7,5-9,5-10,3-12,5-12,1-8,3-8,3z"/>
<path fill="#c8e39c" d="M7792,5410l-3,12-4,8 0,7-9,8-4,10-2,11 3,15 5,6 1,12 2,13-2,15-7,5-4,8-9,7-9,8-11,7-4,9-8,7-2,7-1,12 1,7-2,13-10,5-10,2-13,5-2,7-8,9-8,4-8,4 4,2 13,5 8,-3 10,2 5,-10 6,-5 13,-4 7,-1 10,0 9,-1 10,-8 5,5 7,8 1,14 10,2 8,7 5,8 4,5 8,9 3,9 9,9 10,4 8,6 4,7 1,7 7,9 7,-4 8,1 10,2 11,4 7,6 7,1 3,-5 0,-9 7,-7 3,-7 8,-11 0,-12-1,-9-3,-8-5,-7-4,-9-5,-9 0,-9-2,-6 0,-8 3,-9 6,-4-6,-7-6,-3-7,-4-7,-7-6,1-8,-4-11,-1-9,5-3,-9-5,-8 1,-14 1,-12 4,-9 6,-8 6,-10 0,-10-1,-13-1,-12 0,-11-3,-7-5,-7-5,-10-6,-5-9,-5-6,-5-8,-4-3,-12-7,-10-8,-11z"/>
<path fill="#e6f1b6" d="M7652,5381l8,4 10,-1 11,4 13,2 9,0 9,7 10,-3 15,5 11,3 11,8 8,-1 10,1 15,0 5,-1 0,-1-8,-4-10,-4 1,-14-1,-9 4,-6 8,-8 4,-8 4,-5 3,-10 7,-9 10,0 9,-8 9,-9 4,-8 8,-6 2,-2-4,1-7,0 7,-7 5,-6 10,-4 9,-2 2,-8 1,-2-2,-1-6,-12-6,-8-11,-4-8,-8-11,-4-9,-5-7,-1-10,-4-7,4-11,0-9,-2-12,-8-9,1-12,-7-12,-2-8,-4-14,-7-16,-1-5,7-5,6-3,12-2,8 0,1 4,10 3,15-5,13-3,10 3,9-10,6-4,5-3,10-3,7 0,1 1,12-10,12 1,13 3,8-4,10-1,0zM7880,5280l-8,2-8,9-1,1 1,0 6,-5 7,-4z"/>
<path fill="#de7b52" d="M5237,3305l12,-10 11,-4 5,-5 10,-8 4,-10 2,-8-2,-10 5,-11 0,-8 1,-9 3,-10-7,-8-4,-14-10,-7-8,-6-4,-8-1,-9-6,7-10,3-13,3-10,2-8,8-9,4-7,12-4,9-2,11-1,9 0,10-2,9 1,9 5,6 7,8 5,6 13,2 10,8 9,6z"/>
<path fill="#efa768" d="M5277,3190l10,3 9,-1 8,2 12,6 11,0 15,4 12,-6 11,-2 2,-12 5,-8 4,-9 10,-11 0,-1-4,-10-4,-10-7,-4-5,-5-8,-8-9,-10-10,-4-16,3-10,-6-3,-7-1,-8-9,-12-8,-10-12,-7-1,0 0,8-6,9-5,9-5,8-3,14-4,8-5,8-2,8 4,13 4,8-3,10 1,9 4,8 7,6z"/>
<path fill="#fbd9a0" d="M5371,3297l2,-11 7,-6 5,-11 1,-9-9,-9-5,-8-5,-8-1,-13-1,-9-3,-7 3,-10-11,1-12,7-15,-4-11,-1-12,-5-8,-2-9,1-10,-3 4,14 7,8-3,10-1,9-1,8-4,11 2,10-2,8-4,10-10,8 12,-3 9,-6 13,3 13,-6 10,9 12,4 12,0 7,3 10,6z"/>
<path fill="#de7b52" d="M5466,3133l-10,3-10,5-8,5-4,7-12,4-9,0-13,-4-14,2-10,11-5,10-4,8-2,12-3,10 3,7 1,9 0,13 6,8 5,8 9,9 7,6 12,0 6,-5 9,-2 1,0 13,-4 10,-2 7,-3 8,-9 9,-5 10,0 1,0-3,-16-3,-9 0,-9 2,-8 0,-13-6,-14 2,-15-4,-8z"/>
<path fill="#de7b52" d="M5558,3245l10,-10 11,-9 0,-12 7,-9 5,-11 0,-13-7,-7-2,-11-10,-11-1,-12-3,-8-10,-5-9,-1-7,-6-4,-11-9,-6-9,-7-4,-8-2,-11 0,-7-7,6-1,10-7,5-4,7-10,4-6,9-8,7-3,7-2,8 1,11 4,8-2,15 6,14-1,13-1,8 0,9 3,9 2,16 9,4 9,8 8,-3 9,-2 16,0 15,1z"/>
<path fill="#fdf9c4" d="M5723,3185l-5,-8-3,-10-4,-11 2,-9 2,-8 2,-8 6,-6 6,-11 1,-14 7,-7 7,-6 5,-7 13,-6 6,-11-11,-4-11,-6-8,-2-12,-1-8,-4-8,-5-7,1-11,-2-11,-8-11,-4-6,5-10,1-6,-10-5,-4-10,-1-10,-6-9,-7-3,-12-7,-6-7,-6-5,11-10,6-5,5-4,9-11,8-9,1-8,6-4,10-15,7-8,8-5,9 1,8 0,7 2,11 4,8 9,7 9,6 4,12 7,5 9,1 10,5 3,9 1,11 10,11 2,11 7,7 0,13-5,11 15,-2 10,0 14,-4 10,3 9,0 12,0 11,-1 1,0 14,-6 13,-1 12,2 6,8 0,1 10,3-2,-13z"/>
<path fill="#c8e39c" d="M5933,3170l-6,-10-1,-13-1,0-3,-11-3,-6-4,-9 2,-15-3,-7-3,-10-7,-9-1,-15-3,-7-9,-8-1,-15-8,4-9,-2-9,-8-13,-3-11,3-10,10-8,5-8,4-10,11-10,1-5,6-12,-4-9,1-1,0-5,11-13,6-5,7-8,6-6,7-1,14-6,10-6,7-2,8-2,8-2,9 4,11 3,11 5,7-2,10 2,13 4,13 3,11 7,7 5,6 10,-4 6,1 12,0 7,-4 11,1 4,5 10,4 10,-11 11,-2 10,-4 11,1 10,-5 11,-4 8,-2 1,0 6,-7 12,-9 7,-10 9,-5 14,-7 9,-6z"/>
<path fill="#e6553a" d="M5479,3355l1,0 2,-10-5,-14 7,-11 3,-8 9,-6 3,-8 4,-10 0,-13 1,-14-8,-13-8,-8-9,-4-1,0-10,0-9,5-8,9-7,3-10,2-14,4-9,2-6,5-12,0-7,-6-1,9-5,11-7,6-2,11 2,13 3,9 6,8 8,14 9,8 12,0 7,4 9,6 10,8 10,-1 6,3 1,0 8,-11 9,-1z"/>
<path fill="#e6553a" d="M5549,3362l13,-9 4,-14 7,-14 7,-9 3,-10-2,-8 1,-10 0,-6-5,-12-4,-6-7,-7-8,-12-14,-1-15,-1-16,-1-10,3-7,3 8,13-1,14 0,13-4,10-3,8-9,6-4,8-6,11 4,14-2,10 10,2 8,3 13,8 15,-5 12,-4z"/>
<path fill="#e62e27" d="M5714,3307l2,-10 11,-11 4,-6 5,-11 1,-10 6,-14-6,-6-7,-7-3,-11-4,-13-10,-4-6,-9-12,-1-13,1-15,5-11,1-12,1-9,0-10,-3-14,3-10,0-15,3-7,9-1,12-10,9-10,10 7,12 8,7 3,6 6,12 0,6-1,10 2,8-3,10-8,9-6,14-5,14-12,9 9,13-8,10-2,11 0,9-5,7-1,14 6,15-2,11 10,0 9,1 12,7 6,6 5,6 6,6 7,3 3,8 6,10 13,4 11,8 2,-14 7,-7 1,-8-3,-9-6,-11 4,-8 0,-1-1,-9 10,-5 1,0 9,-9 10,-10 2,-13 10,-6 8,-7 7,-1 8,-6 0,-1 1,-8 7,-7 5,-10 3,-12 1,-16-5,-6-4,-11z"/>
<path fill="#fce4ae" d="M5224,3338l1,0 6,-11 5,-8 1,0 0,-14-5,-13-9,-7-10,-8-13,-2-5,-5-7,-8-4,-6-1,-9-11,-2-14,1-15,2-9,-1-15,5-11,-2-10,0-11,-6-9,-11 4,15 6,6 5,11-1,8 1,11-8,9-1,11 6,7 10,8 11,6 1,12 6,6 13,4 7,8 8,-4 7,-5 6,-5 10,-4 14,2 12,1 9,0 8,-4z"/>
<path fill="#a0cf76" d="M5119,3343l-6,-6-2,-12-11,-6-10,-8-6,-7 2,-11 7,-9-1,-11 1,-8-4,-11-7,-6-4,-15-6,-6-9,0-10,-6-9,0-7,-1-12,-3-1,7-1,7-3,9-6,12 0,14-8,8-4,7-10,8-3,8-5,12-7,4-7,7-6,11-1,13 2,8 6,9 8,11 0,4 3,1 11,6 3,6 6,7 7,-8 8,-2 10,-8 3,-9 8,-3 9,-6 10,-2 8,2 15,3 11,-3 11,-7 8,-2z"/>
<path fill="#fce4ae" d="M5291,3446l0,-11 2,-6 7,-12 9,-8 13,-6 5,-9 10,-8 10,-7 9,-3 4,-10 7,-5 6,-8 3,-11 1,-7 5,-8-6,-8-3,-9-2,-13-8,-1-10,-6-7,-3-12,0-11,-4-11,-10-13,7-13,-3-10,6-11,3-5,5-12,3-11,11-1,14-5,8-7,11 10,9 3,10 7,5 3,7 7,9 6,9 8,10 2,13 4,15 2,13 5,8z"/>
<path fill="#66b054" d="M5281,3446l-5,-8-2,-13-4,-15-1,-13-1,0-8,-10-6,-9-6,-9-3,-7-8,-5-3,-10-9,-9-13,-2-8,4-9,-1-12,0-14,-2-10,4-6,4-7,6-8,4-1,15 4,12-2,8-7,8 5,10 3,8 3,8 4,7-11,9-2,7-5,11 1,14 0,14 0,1 9,-6 12,-1 9,-4 10,0 13,-2 12,8 13,6 13,4 10,2 10,-9 1,-8 2,-10 10,-4 8,-7 12,-4z"/>
<path fill="#f8cf8e" d="M5130,3487l0,-1 1,-14 0,-1-2,-13 5,-11 3,-7 10,-9-4,-7-3,-9-2,-7-6,-10 8,-8 1,-8-4,-12 1,-15-6,-8-14,-4-8,8-8,2-11,7-11,2-15,-2-8,-2-10,1-9,7-8,3-3,9-10,8-8,2-7,8 6,15 3,10 0,7-1,13 5,10 6,9 4,6 6,11 10,11 9,8 6,13 10,2 7,4 12,-8 14,-3 14,-4 10,-7z"/>
<path fill="#fdf9c4" d="M5073,3515l-7,-4-9,-2-7,-13-9,-8-10,-11-6,-11-4,-7-6,-9-5,-9 1,-13 1,-7-4,-10-6,-15-6,-7-3,-6-11,-6-3,-1 1,6 8,7 6,4 6,7-7,11-12,4-10,-1-8,2-8,10-8,2-11,4-10,3-6,5-7,5-3,5-4,11-4,7-2,8-12,5-9,6-9,3 7,8 6,2 10,4 5,8-1,10 6,7 3,6 9,9 3,8 1,11 1,7 85,0 10,-1 6,-4 5,-9 9,-5 14,-2 10,-8 6,-9 6,-13z"/>
<path fill="#e6553a" d="M5290,3446l1,0 8,2 9,2 13,9 6,7 12,4 8,-4 10,-2 14,-7 7,4 11,6 14,-2 6,-8 11,-5 13,-9 14,-7 3,-13 5,-7 6,-13-2,-11 1,-10-6,-14-7,-3-10,2-10,-9-9,-5-7,-4-12,-1-9,-7-8,-14-6,8 0,7-3,10-6,9-7,4 0,1-4,10-9,3-10,7-10,8-5,9-13,6-9,8-8,12-1,6z"/>
<path fill="#de7b52" d="M5339,3470l3,10-2,15 8,6 4,10 1,0 7,5 3,8-1,9 4,9 10,12 6,6 6,6 6,9 0,13 11,5 9,-1 7,-4 12,2 9,-3 13,-4 12,-6 10,-3 0,-1-2,-9-3,-6 4,-13-1,-12-3,-11 6,-11 0,-10 1,-13-4,-7 2,-9-4,-10-9,-11-7,-7-10,-8-14,7-13,8-11,6-6,8-14,1-10,-5-8,-4-14,6-11,3z"/>
<path fill="#de7b52" d="M5549,3362l-12,-3-12,4-15,5-13,-8-7,-3-11,-2-8,1-9,2-9,10 0,1 7,13-2,10 3,11-6,13-5,7-1,0-2,13 10,8 6,8 10,10 3,10-1,9 4,7-1,13 0,10-6,11 3,11 1,12-4,12 0,1 2,6 2,9 0,1 13,3 8,5 5,7 8,4 7,7 0,1 10,1 10,-4 8,-13 9,-2 6,-5 8,-10 8,-3 7,-6 10,-1 13,3 8,-1 8,-5 10,2 8,-3 0,-7-6,-8 1,-11-3,-6 2,-11-11,-8-13,-4-6,-10-3,-8-7,-3-6,-6-5,-6-6,-7-12,-6-9,-1-10,0 2,-11-6,-15 1,-14 5,-7 0,-9 2,-11 9,-10z"/>
<path fill="#e6f1b6" d="M5688,3583l6,-5 9,-3 11,-11 2,-8 7,-7 11,-5 13,-1 11,-6 7,2 13,-1 14,-6 11,-4 10,-6 2,-10 5,-7 0,-7 2,-9 5,-12 6,-7 7,-11-9,-8-4,-9-3,-8-7,-10-7,-8-11,2-7,-4-8,-4-8,-5-14,2-7,-2-8,-5-12,-9-11,0-4,-11-9,-9-7,7-2,8-7,7-7,0 0,1-8,7-10,5 0,1-2,13-10,10-10,9-10,5 0,9-3,9 6,11 2,9 0,8-7,7-2,14-2,11 3,6-2,11 6,8 0,7 6,4 9,5 8,3 10,1 7,5z"/>
<path fill="#e6553a" d="M5688,3583l-4,10 0,10 5,15 10,11 3,11 0,1 6,13 4,8 7,4 8,14 11,4 8,4 5,6 12,5 11,7 12,3 11,-7 6,-10 6,-13 0,-11 11,-9 6,-10 1,-11 6,-10 9,-6 9,-12 0,-8 2,-11 5,-7 5,-6 6,-13 3,-12 7,-9 12,-5 13,-4 11,3 13,-5 6,-8 6,-10 2,-14 3,-16-1,-10-6,-11-11,2-11,5-8,-4-7,0-8,5-12,1-7,-6-9,0-13,-4-12,-4-7,11-6,7-5,12-3,9 1,7-5,7-2,10-10,6-11,4-14,6-13,1-7,-2-11,6-13,1-11,5-7,7-3,8-11,11-8,3z"/>
<path fill="#efa768" d="M5291,3446l-10,0-7,6-12,4-8,6-10,5-3,10 0,8-10,9 6,15 0,9-6,13 2,11 10,9 5,10 1,8-5,9 2,11-4,7 4,8-2,8 9,11 9,4 11,-1 9,-8 11,-1 10,6 15,0 8,2 11,1 6,5 7,6 1,0 8,-3 10,-5 8,-6 0,-1 5,-9 2,-13 11,-12-1,-13-6,-9-6,-6-6,-6-10,-12-4,-9 1,-9-3,-8-7,-5-5,-10-7,-6 2,-15-4,-10-12,-4-6,-8-13,-8-9,-2z"/>
<path fill="#f8cf8e" d="M5231,3494l-10,-3-13,-3-13,-6-12,-8-13,2-10,0-9,3-12,2-9,5-7,7-10,7-14,4-14,3-12,8-2,4 5,10 5,6 3,11 10,10 10,6 11,1 11,5 4,6 4,9 2,7 6,7 2,10 0,13 3,8 9,5 13,8 3,9 1,12 8,8 4,9 6,-5 8,-5 5,-13 6,-8 6,-13 8,3 12,-3 11,-6 6,-6 0,-1-8,-10 1,-8-3,-8 3,-7-2,-11 6,-9 0,-1-2,-7-5,-10-9,-9-3,-11 6,-13 0,-9z"/>
<path fill="#efa768" d="M5185,3679l-4,-9-8,-9-1,-11-3,-9 0,-1-13,-7-9,-6-3,-7 0,-13-2,-10-5,-7-3,-7-4,-9-4,-7-11,-4-11,-1-10,-6-10,-10-2,-11-6,-6-5,-10-6,13-6,9-10,8-14,2-9,4-5,10-6,4-10,1 0,8-3,8 3,13 1,10-1,9 3,7-2,10 2,9 5,7 7,5 8,5 5,5 2,11 7,8 2,14 0,1 8,4 10,10 9,7 12,3 10,-2 14,-4 10,4 8,-3 13,1 10,-7 1,0 5,-6 8,-3 1,0 7,-5 9,-5 4,-6 1,0z"/>
<path fill="#fdf9c4" d="M5533,3696l6,-7 5,-8 1,-7-2,-8-2,-9 4,-12-4,-15-6,-11-2,-11-6,-6-10,-2-7,-8-8,-3-5,-7-8,-5-12,-4-1,0-9,4-12,6-13,4-9,3-12,-2-7,3-9,2-10,-5-1,0-10,12-2,13-6,9-7,7-10,4-9,3 0,1 3,6 6,8 6,6 5,9 1,8 4,8 1,14 0,1 5,7 1,9-4,8 0,9 2,14 7,10 10,8 7,6 10,2 11,-7 8,-3 9,2 5,-7 8,-3 12,-6 7,-5 11,-3 7,-1 12,-4 7,-14 12,-5 4,-7z"/>
<path fill="#fdf9c4" d="M5351,3636l-8,-5-6,-5-11,-2-8,-2-15,0-10,-5-11,1-9,7-11,2-9,-5-6,7-11,6-12,3-8,-3-6,13-7,7-4,14-9,5-5,4 0,1-2,9-4,6 10,11 9,1 6,5 7,7 0,7 3,9 9,7-2,14 8,13 3,9 0,1 3,5 7,10 2,14 9,-3 7,-6 8,-7 10,-4 11,1 12,-6 10,-3 11,0 11,-11 11,-1 7,-4 15,0 11,-7 10,-2-7,-10-2,-14 0,-9 4,-8-1,-9-5,-8 0,-14-4,-8-2,-8-5,-9-6,-6-6,-8z"/>
<path fill="#e62e27" d="M5688,3583l-9,-11-7,-5-10,-1-8,-3-9,-6-5,-3-8,3-10,-2-8,5-8,0-13,-2-10,1-7,6-8,3-8,10-6,5-9,2-8,13-10,4 6,6 2,11 6,11 3,15-4,12 3,9 2,8-1,7-5,8-6,7-6,11 12,5 5,8 6,3 9,6 7,7 10,2 6,6 6,5 11,7 8,-9 7,-4 8,-6 6,-5 14,-5 9,-6 8,-6 9,-2 8,-13 12,1 8,-4 8,-6 8,-10 11,-3 5,4 10,2-11,-4-8,-14-6,-4-5,-8-6,-14-3,-11-10,-11-5,-15 0,-10z"/>
<path fill="#efa768" d="M5786,3709l4,11 7,6 3,8 4,7 6,13 7,7 10,10 6,8 13,4 16,0 12,5 9,12 0,1 10,1 6,4 1,0 8,-1 10,1 1,0 8,-9 7,-4 9,1 1,0 3,-6 6,-9 12,-4 0,-1 9,-11 7,-10 8,-6 2,-16 6,-7 9,-10-12,-8 0,-1-11,-4-6,-12-5,-11 0,-9 0,-8-6,-12-8,-7-6,-8-3,-9-2,-10 2,-11 3,-6-2,-9-3,-6-9,-9 5,-10-1,-13-8,-9 1,-9-1,-8 0,-1-6,9-13,5-11,-3-13,4-12,5-7,9-3,12-6,13-5,6-5,7-2,11 0,8-9,11-9,7-6,10-2,11-5,10-11,9 0,11-6,13-6,10z"/>
<path fill="#fce4ae" d="M6542,1772l-2,-7 3,-10-4,-6-4,-8-10,-5-5,-7-5,-11-7,-11-4,-8-6,-8-6,-3-5,-15-10,-4-4,-6-13,-5-8,-8-14,2-8,4-6,10 2,11-4,7-10,10-8,7-8,6-15,5-12,5-1,0-7,3-5,9-7,8-9,-3-10,-3-10,3-11,1-14,4-8,-1 2,5 10,5 3,7 6,6 12,2 8,2 3,5 1,9 2,9 11,3 5,6 4,6 6,6 5,8 3,6 7,6 12,2 7,2 8,1 6,5 8,7 6,5 10,6 6,8 1,-1 8,-12 9,-5 11,-3 8,-6 10,-1 3,-15 6,-8 7,-13 13,-6 12,-7 12,-6 0,-1z"/>
<path fill="#e6f1b6" d="M6109,1974l-9,-5-4,-9-14,-4-11,-6-10,0-7,3-10,4-9,8-10,1-14,-3-9,4-9,1-14,7-6,8 0,7-4,16-9,7 4,13-2,11-1,7-3,9 9,-1 10,0 9,2 8,3 13,5 13,1 10,2 11,0 12,0 11,-3 5,-6 8,-3 9,1 10,4 9,3 9,-3 10,0 12,-1 2,-13-2,-9 1,-14-4,-11-10,-5-4,-5-1,-12-5,-6z"/>
<path fill="#a0cf76" d="M6710,3172l12,-10 8,-9 7,-4 6,-3 7,-7 6,-9 3,-9-1,-9 13,0 9,-1 10,-3 11,-2 9,-6 6,-6 12,-5 8,-9 7,-2-4,-10-10,-11 0,-14-6,-9-6,-8-3,-6-2,-8-7,-9-2,-11 3,-9-3,-10-5,-6 0,-1 0,1-8,11-8,8-8,4-7,4-14,2-12,5-9,-6-7,1-15,0-10,6-11,2-11,7-8,0-16,-2-12,4-10,2 0,1-8,5-12,8-9,-3-7,-4-2,12-6,7-8,4-4,7-9,13-8,7-6,8-8,9-8,11-14,4-11,8-4,9-2,8-10,-4-12,-2-6,-9-12,-7-15,-3-15,5-14,1-10,0-10,3-10,-4-9,4-7,0-1,0-7,11-11,6 6,5 8,9 2,13 4,12 3,11-2,9-7,12-6,12-2,13-2,10 0,10 4,7 3,11 0,14 9,8 6,9 1,11 0,1 8,5 3,8 11,0 8,3 1,0 10,-7 8,-6 7,-5 8,-1 7,-4 9,1 11,-1 7,0 9,6 8,4 8,3 13,-2 12,-4 12,-3 3,-13-3,-8 4,-15 5,-8 2,-10 6,-11 0,-11 4,-10 11,-6 6,-4 15,-3 11,-5 11,-7 10,-1 7,0 12,5 12,1 11,-7 14,-5 12,-4 10,-11z"/>
<path fill="#e6553a" d="M6943,3173l13,3 9,-7 7,-7 6,-4 9,-3 7,-14 16,0 13,-4 7,-6 7,-5 8,-4 12,2 1,-12 3,-10 5,-6 11,-10 4,-12 8,-8 13,-1 7,-11 8,-5-5,-9-7,-4-10,-6-8,-4-5,-9-12,-9-9,-13-5,-13-8,-7-4,-6-5,-8 1,-8 0,-1-3,-9-1,0-1,15-4,7-5,11-9,2-7,8-8,10-10,11-10,5-5,10-7,6-8,6-12,2-12,5-9,7-6,4-10,8-13,3 0,1-1,9-3,8-7,6-6,9 13,9 8,8 4,11 9,5 5,7 5,9 8,3 6,7 2,7z"/>
<path fill="#66b054" d="M5933,4090l-10,-2-11,5-9,-7-8,0-7,6-5,7-2,15-9,5-5,11-11,5-11,5-7,8-5,10 0,1 1,10 6,9-1,14-4,11-1,7-7,8-4,12 1,9 11,10 7,10 4,10 1,0 11,-2 13,-4 10,-4 7,-6 13,-3 14,-1 10,-4 8,2 8,2 8,4 11,1 9,8 12,8-6,-13-3,-7-7,-9-6,-7-5,-10-5,-11 0,-12-6,-11-7,-11-1,-9 0,-9-1,-10 0,-13 2,-8 1,-9-5,-10 2,-11z"/>
<path fill="#c8e39c" d="M6654,4767l7,-13-4,-8 2,-13-3,-8 3,-13-1,-11 3,-6 4,-12-2,-9 1,-8 0,-1-5,-6-5,-6-9,-12-4,-12 0,-1-8,-5-11,-12-3,-8 1,-11 2,-13 1,-11 4,-8 0,-1-9,-7-10,1-9,0-16,-1-12,6-13,-1-8,4-12,9-8,7-4,7-9,1-6,7-7,8-4,7-5,6-6,7-6,12-3,10-7,9-9,11-6,10-6,5 1,12 3,13-3,12-8,7-2,8-4,14-8,8-6,6-10,8 0,1 13,7 2,10 5,9 8,5 11,0 5,8 6,5 7,9 6,7 7,10 7,8 1,0 13,-5 7,-9 11,-4 11,-6 8,-2 7,-6 11,-4 11,-6 8,-6 9,-4 12,0 13,-6 10,-11 13,-3 10,-6z"/>
<path fill="#7aba5c" d="M6570,5134l0,1 11,3 7,5 8,1 7,7 7,3 7,-7 9,-2 5,-7 7,-10 9,-4 14,4 7,-7 7,-5 11,-6 1,-8-4,-13 4,-16 2,-10 1,-13 5,-7 3,-14 2,-8-1,-12 6,-12 5,-11 2,-10-8,-4-10,1-16,-3-8,-2-14,-1-8,4-9,2-10,7-7,4-12,-7-8,-12-9,-5-6,-6-9,-1-7,-1-10,-5-10,-1-8,-1-9,2 9,10 2,13 1,11 6,6 3,8-3,9 3,13-4,7 1,9-2,11-1,8 4,8 3,6 6,8 2,12 9,8 4,10 1,12-5,7z"/>
<path fill="#4fa34a" d="M6610,5179l8,7 3,13 2,8 5,8 7,9 1,11-2,9-2,10 5,14-1,10 5,9 6,10 12,9 5,8 14,3 8,5 12,8 6,-6 3,-13 8,-6 8,-3 6,-7 11,-9 3,-7 2,-10 12,-4 10,-9 13,-4 8,-6 13,-7-8,-7-3,-15 4,-8-2,-12 5,-7 2,-12 1,-8-5,-9-7,-2-8,-5-5,-8-8,-7-9,-5-7,-10-9,1-9,-6-16,1-12,-4-1,0-8,-2-10,-4-11,6-7,5-7,7-14,-4-9,4-7,9-5,8-10,2-6,6 0,1 0,10z"/>
<path fill="#4fa34a" d="M6239,5284l2,7-1,10-1,9 2,14 5,5 8,5 15,-1 9,1 8,9 7,2 15,5 10,-2 7,7 7,9 5,6 3,11 6,7 0,1 7,2 9,5 0,1 1,0 0,-1 2,-10-2,-8 7,-11 6,-14 9,-11 6,-4 6,-8 10,-5 8,1 7,-5 7,-5 6,-8 13,-4-6,-6-2,-9-5,-14-2,-12-3,-8-3,-9-2,-8-4,-7-10,-9-1,0-7,-1-8,-4-5,-10-11,-8-9,4-7,5-8,11-1,12-7,1-11,6-6,13-7,8-7,5-11,0-10,4-5,7-8,6-15,-1-13,2z"/>
<path fill="#4fa34a" d="M6516,5313l5,12 6,11 9,8 9,1 8,11 2,15 9,4 5,5 5,11 10,3 10,9 4,12 8,7 2,10 1,7 9,-11 1,0 1,-16 4,-11 8,-11 8,-10 4,-8 7,-6 2,-7 12,1 10,-3 8,-7 7,-8 7,-3 1,-9-12,-8-8,-5 0,-1-14,-3-5,-7-12,-9-6,-10-5,-9 1,-10-4,-14 2,-10 1,-9-1,-11-6,-9-6,-8-2,-8-3,-13-8,-7 2,9 0,8-3,14-4,12 1,12-8,13-8,14-11,3-7,8-3,10-6,4-7,7-10,7-9,6-8,1-1,0z"/>
<path fill="#7aba5c" d="M6570,5134l-1,0-3,11-4,14-2,7-8,8-10,7-9,6-10,2-7,6 0,1-3,7-10,11-9,3-9,-3-14,7-13,9-8,9-10,4-13,3 3,9 2,8 3,12 5,14 2,9 6,6 6,6 9,4 16,3 14,2 12,-4 11,-1 13,-7 8,-1 9,-6 10,-7 8,-7 5,-4 3,-10 7,-8 12,-3 7,-14 8,-13 0,-12 3,-12 3,-14 0,-8-2,-9 0,-15 0,-10 0,-1-7,-2-7,-7-8,-1-7,-5z"/>
<path fill="#efa768" d="M5997,1877l-6,9-6,10-11,-5-8,-6-3,-9 8,-6 8,-2 10,1z"/>
<path fill="#fdf9c4" d="M5800,1866l-3,9-4,12-12,-6-14,-1-5,-14 14,-7 8,-9 12,6z"/>
<path fill="#4fa34a" d="M6590,1383l-12,6-8,10-10,-8-6,-9 0,-11 9,-8 12,3 14,2z"/>
<path fill="#7aba5c" d="M7098,1810l-1,24-21,9-17,5-24,-2 0,-22 8,-16 13,-20 21,11z"/>
<path fill="#fbfad6" d="M7373,1453l-13,21-8,12-15,11-20,-6-10,-18 7,-19 18,-6 19,-5z"/>
<path fill="#4fa34a" d="M5861,2113l0,15-12,9-15,6-15,-9 3,-15 0,-14 15,-2 13,0z"/>
<path fill="#4fa34a" d="M5634,2877l-2,31-8,33-36,-7-34,2-18,-30 6,-35 37,-2 27,-9z"/>
<path fill="#de7b52" d="M5799,2711l-17,18-26,8-20,-16 1,-22 5,-17 15,-12 20,6 15,13z"/>
<path fill="#f8cf8e" d="M5978,2863l4,17-12,17-20,-8-13,-7-11,-15 13,-12 13,-6 20,-4z"/>
<path fill="#e6f1b6" d="M6859,2604l-3,13-9,8-12,0-17,-1-9,-17 10,-17 18,-1 16,2z"/>
<path fill="#c8e39c" d="M6751,2699l-17,8-15,5-12,-10-7,-13 5,-15 16,-1 16,-6 10,14z"/>
<path fill="#e6553a" d="M6644,2884l-15,8-14,5-15,-7-1,-16 4,-13 14,-4 17,-5 7,16z"/>
<path fill="#de7b52" d="M7208,2777l-1,19-19,0-19,-2-7,-17 10,-14 9,-15 19,-1 15,13z"/>
<path fill="#c8e39c" d="M7458,2940l5,22-17,18-25,3-13,-19-8,-16 4,-20 20,-14 22,9z"/>
<path fill="#fdf9c4" d="M7583,2595l-24,18-29,13-14,-29-21,-18 11,-26 27,-4 30,-8 10,27z"/>
<path fill="#a0cf76" d="M7747,2566l-9,9-12,-2-9,-4-13,-10 7,-14 13,-8 15,5 13,9z"/>
<path fill="#a0cf76" d="M8333,2585l-8,16-13,7-17,6-13,-13 1,-16 12,-8 11,-14 17,7z"/>
<path fill="#efa768" d="M6348,3321l-6,11-12,5-10,-5-9,-8-5,-14 12,-12 16,3 14,6z"/>
<path fill="#e6553a" d="M7372,3190l-12,17-16,13-19,-8-25,-9 8,-24 17,-13 20,-8 17,14z"/>
<path fill="#f8cf8e" d="M7546,3288l-26,8-21,2-17,-12-6,-20-2,-32 32,-11 22,23 20,15z"/>
<path fill="#fbfad6" d="M7423,3571l-7,17-18,4-18,0-6,-16-10,-19 15,-17 21,6 23,3z"/>
<path fill="#fce4ae" d="M6980,3540l-11,11-18,3-17,-9-5,-19 10,-17 19,-5 20,2 5,18z"/>
<path fill="#e6f1b6" d="M7098,3538l-9,13-15,-4-11,-7-3,-13 7,-10 11,-5 15,-1 0,15z"/>
<path fill="#c8e39c" d="M7215,3560l-7,12-11,10-19,1-5,-17-3,-15 10,-15 17,5 13,5z"/>
<path fill="#e6553a" d="M7352,3953l-6,7-10,5-7,-7-2,-9-2,-11 10,-5 10,6 9,5z"/>
<path fill="#de7b52" d="M8117,3416l13,22-23,14-19,11-28,-3-9,-26-3,-29 33,-1 20,-2z"/>
<path fill="#e6553a" d="M7764,3594l0,17-14,12-16,-7-13,-5-4,-14 11,-10 11,-8 12,6z"/>
<path fill="#fdf9c4" d="M5178,4284l-3,12-5,12-14,-4-8,-6-4,-9 6,-8 7,-8 12,4z"/>
<path fill="#efa768" d="M5630,4540l-10,9-12,8-11,-8-5,-11 2,-11 9,-10 13,3 9,8z"/>
<path fill="#efa768" d="M6039,4910l-13,12-17,-1-13,-9-11,-15 9,-17 18,-9 15,11 7,12z"/>
<path fill="#f8cf8e" d="M6242,4957l3,24-14,23-27,-8-24,-3-3,-23 4,-22 21,-9 20,6z"/>
<path fill="#a0cf76" d="M6946,4243l-9,7-12,3-9,-8-4,-10 1,-14 14,-2 14,0 8,11z"/>
<path fill="#fdf9c4" d="M6956,4519l-2,12-9,11-14,-7-13,-7-1,-15 12,-8 12,0 17,-2z"/>
<path fill="#fce4ae" d="M7035,4530l-13,10-9,10-13,-5-14,-8 3,-15 11,-7 12,-1 18,-1z"/>
<path fill="#efa768" d="M7354,4502l-4,11-8,10-11,-5-10,-4 2,-10-1,-12 12,-4 12,5z"/>
<path fill="#c8e39c" d="M6819,4626l-8,13-15,-1-13,1-10,-10 9,-12 6,-10 14,-5 13,9z"/>
<path fill="#7aba5c" d="M7677,4863l-5,11-11,4-12,2-8,-11-1,-12 11,-7 11,-5 11,7z"/>
<path fill="#e62e27" d="M8039,5040l-7,6-10,3-10,-4 1,-10 0,-10 11,0 11,-4 4,10z"/>
<path fill="#4fa34a" d="M5642,5469l-13,9-14,2-11,-9-4,-12 2,-15 15,-6 14,4 5,13z"/>
<path fill="#fce4ae" d="M6725,5631l-6,9-9,8-14,-2-8,-12 1,-14 13,-4 11,0 12,3z"/>
<path fill="#c8e39c" d="M7312,5326l-13,7-12,12-16,-8-5,-15 9,-12 10,-6 15,-5 11,12z"/>
<path fill="#e6f1b6" d="M7507,5531l-3,11-8,10-13,-2-13,-6-3,-14 9,-12 13,-5 13,5z"/>
<path fill="#fce4ae" d="M5895,924l16,-4 2,13 2,17-4,9-4,10-3,10 1,11 4,14 6,16 11,8 9,8-9,8-7,6-16,-6-8,-8-4,-19-6,-17 2,-18 4,-12 2,-10 1,-9-4,-13z"/>
<path fill="#fce4ae" d="M5923,1116l18,-3 14,-3 14,7 10,9-2,11-6,11-17,-1-15,5-12,-10-8,-6 2,-11z"/>
<path fill="#fce4ae" d="M5885,1152l12,-2 1,18 3,12-8,16-8,-16-3,-15z"/>
<path fill="#fce4ae" d="M5987,1244l11,1 13,-1 4,9 0,11-8,4-12,4-12,-12z"/>
<path fill="#fce4ae" d="M5959,1206l14,-2 2,12-14,2z"/>
<path fill="#a0cf76" d="M5244,1839l11,-2 9,-6 11,2 9,4-4,12-16,-2-8,4z"/>
<path fill="#a0cf76" d="M5423,1775l13,-1 9,-1 14,-8 11,-2 10,1 15,-1 2,10-12,2-10,1-16,1-13,-1-8,3-11,4z"/>
<path fill="#a0cf76" d="M5567,1753l16,-7 16,-1 10,0 14,0 0,10-11,2-17,0-12,3-12,1z"/>
<path fill="#a0cf76" d="M5643,1737l15,-1 9,-5 20,0 0,10-12,-1-12,3-16,2z"/>
<path fill="#f8cf8e" d="M6899,1272l13,-10 7,-11 4,-7 17,-2 12,4 17,-6 9,5 7,9 9,9 5,9 2,19 6,16-16,9-16,9-7,-7-8,-6-11,-12-11,5-7,2-12,8-6,-5-10,-10-3,-12z"/>
<path fill="#efa768" d="M7698,1326l2,-13-4,-19 5,-11 1,-11 5,-8 2,-14 2,-11 4,-9 3,-13 6,-8 7,-13-4,-12-2,-10-5,-12 0,-9 0,-12 15,-12 10,-13 8,-7 11,2 9,-2 12,-6-2,13-2,11-5,12-7,13 3,13 7,10 2,11-1,10 12,3 8,7 18,6 6,-10 4,-10 6,-18 16,-7 11,-9 11,9 17,7-5,13-3,11-6,11-3,9-4,11-6,13-7,12-4,7 13,5 10,3 9,8 12,10 7,7 9,4 10,7-2,12-9,15-13,-4-8,-5-15,-5-13,-2-11,12-12,8-9,1-10,12-4,13-11,7-8,6-16,-3-10,-7-17,0-10,-7-12,-2-11,-2-11,-6-5,-14z"/>
<path fill="#efa768" d="M7676,1170l10,-4-1,12 1,9 5,13 3,10 0,14-7,15 3,14 2,11-10,-4-1,-15-2,-12 3,-11 0,-12-5,-18 1,-11z"/>
</g>

</svg>
</body></html>
